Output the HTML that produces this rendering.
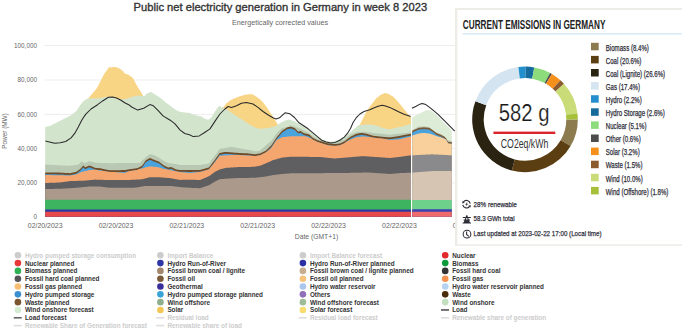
<!DOCTYPE html>
<html><head><meta charset="utf-8"><style>
html,body{margin:0;padding:0;background:#fff;width:685px;height:332px;overflow:hidden}
svg{display:block;font-family:"Liberation Sans",sans-serif}
</style></head><body>
<svg width="685" height="332" viewBox="0 0 685 332">
<rect width="685" height="332" fill="#fff"/>
<rect x="44.5" y="45.10" width="412" height="0.8" fill="#e9e9e9"/>
<rect x="44.5" y="79.60" width="412" height="0.8" fill="#e9e9e9"/>
<rect x="44.5" y="113.90" width="412" height="0.8" fill="#e9e9e9"/>
<rect x="44.5" y="148.20" width="412" height="0.8" fill="#e9e9e9"/>
<rect x="44.5" y="182.50" width="412" height="0.8" fill="#e9e9e9"/>
<path d="M86.00,216.80 L86.00,99.65 L86.50,99.39 L87.00,99.13 L87.49,98.87 L87.99,98.60 L88.49,98.14 L88.99,97.55 L89.49,96.97 L89.99,96.38 L90.48,95.80 L90.98,95.21 L91.48,94.63 L91.98,94.04 L92.48,93.46 L92.98,92.87 L93.47,92.29 L93.97,91.71 L94.47,91.12 L94.97,90.54 L95.47,89.96 L95.97,89.37 L96.46,88.64 L96.96,87.77 L97.46,86.91 L97.96,86.04 L98.46,85.17 L98.96,84.29 L99.45,83.29 L99.95,82.30 L100.45,81.30 L100.95,80.30 L101.45,79.31 L101.95,78.31 L102.44,77.31 L102.94,76.32 L103.44,75.32 L103.94,74.32 L104.44,73.43 L104.94,72.80 L105.43,72.17 L105.93,71.55 L106.43,70.92 L106.93,70.29 L107.43,69.55 L107.92,68.79 L108.42,68.03 L108.92,67.27 L109.42,67.08 L109.92,67.20 L110.42,67.33 L110.91,67.45 L111.41,67.42 L111.91,67.29 L112.41,67.16 L112.91,67.03 L113.41,66.90 L113.90,66.82 L114.40,66.93 L114.90,67.04 L115.40,67.15 L115.90,67.26 L116.40,67.37 L116.89,67.48 L117.39,67.59 L117.89,67.70 L118.39,67.97 L118.89,68.25 L119.39,68.53 L119.88,68.80 L120.38,69.08 L120.88,69.44 L121.38,69.86 L121.88,70.29 L122.38,70.71 L122.87,71.14 L123.37,71.61 L123.87,72.36 L124.37,73.10 L124.87,73.64 L125.36,73.75 L125.86,73.86 L126.36,73.97 L126.86,74.08 L127.36,74.19 L127.86,74.48 L128.35,74.79 L128.85,75.10 L129.35,75.41 L129.85,75.71 L130.35,76.02 L130.85,76.35 L131.34,76.84 L131.84,77.34 L132.34,77.84 L132.84,78.34 L133.34,78.84 L133.84,79.67 L134.33,80.67 L134.83,81.66 L135.33,82.66 L135.83,83.58 L136.33,84.47 L136.83,85.36 L137.32,86.24 L137.82,87.13 L138.32,87.98 L138.82,88.72 L139.32,89.45 L139.82,90.19 L140.31,90.93 L140.81,91.67 L141.31,92.60 L141.81,93.57 L142.31,94.55 L142.81,95.52 L143.30,96.06 L143.80,96.33 L144.30,96.60 L144.30,216.80 Z" fill="#f8d485"/>
<path d="M221.60,216.80 L221.60,107.40 L222.10,107.40 L222.60,107.40 L223.09,107.40 L223.59,106.90 L224.09,106.27 L224.59,105.63 L225.09,105.00 L225.59,104.36 L226.08,103.73 L226.58,103.14 L227.08,102.76 L227.58,102.38 L228.08,102.01 L228.58,101.63 L229.07,101.25 L229.57,100.87 L230.07,100.57 L230.57,100.32 L231.07,100.07 L231.56,99.82 L232.06,99.57 L232.56,99.32 L233.06,99.07 L233.56,98.82 L234.06,98.57 L234.55,98.32 L235.05,98.10 L235.55,97.91 L236.05,97.73 L236.55,97.54 L237.05,97.35 L237.54,97.16 L238.04,96.97 L238.54,96.78 L239.04,96.59 L239.54,96.40 L240.03,96.23 L240.53,96.09 L241.03,95.96 L241.53,95.82 L242.03,95.68 L242.53,95.54 L243.02,95.40 L243.52,95.26 L244.02,95.12 L244.52,94.98 L245.02,94.86 L245.52,94.78 L246.01,94.70 L246.51,94.62 L247.01,94.54 L247.51,94.46 L248.01,94.38 L248.50,94.30 L249.00,94.21 L249.50,94.13 L250.00,94.15 L250.50,94.22 L251.00,94.30 L251.49,94.37 L251.99,94.45 L252.49,94.52 L252.99,94.60 L253.49,94.89 L253.98,95.20 L254.48,95.50 L254.98,95.80 L255.48,96.10 L255.98,96.40 L256.48,96.73 L256.97,97.10 L257.47,97.46 L257.97,97.83 L258.47,98.19 L258.97,98.56 L259.47,98.93 L259.96,99.36 L260.46,99.86 L260.96,100.36 L261.46,100.86 L261.96,101.36 L262.45,101.85 L262.95,102.35 L263.45,102.96 L263.95,103.58 L264.45,104.20 L264.95,104.82 L265.44,105.44 L265.94,106.06 L266.44,106.71 L266.94,107.47 L267.44,108.22 L267.94,108.98 L268.43,109.73 L268.93,110.49 L269.43,111.24 L269.93,112.00 L270.43,112.75 L270.92,113.51 L271.42,114.26 L271.92,115.02 L272.42,115.77 L272.92,116.53 L273.42,117.35 L273.91,118.16 L274.41,118.98 L274.91,119.80 L275.41,120.61 L275.91,121.43 L276.41,122.25 L276.90,123.07 L277.40,123.88 L277.90,124.70 L277.90,216.80 Z" fill="#f8d485"/>
<path d="M357.50,216.80 L357.50,126.00 L358.00,125.73 L358.50,125.46 L359.00,125.19 L359.50,124.92 L360.00,124.50 L360.50,123.50 L361.00,122.50 L361.50,121.50 L362.00,120.50 L362.50,119.50 L363.00,118.50 L363.50,117.50 L364.00,116.50 L364.50,115.50 L365.00,114.50 L365.50,113.50 L366.00,112.50 L366.50,111.50 L367.00,110.74 L367.50,109.98 L368.00,109.23 L368.50,108.47 L369.00,107.71 L369.50,106.95 L370.00,106.25 L370.50,105.63 L371.00,105.01 L371.50,104.39 L372.00,103.77 L372.50,103.15 L373.00,102.52 L373.50,101.89 L374.00,101.25 L374.50,100.62 L375.00,99.98 L375.50,99.35 L376.00,98.71 L376.50,98.12 L377.00,97.73 L377.50,97.34 L378.00,96.94 L378.50,96.55 L379.00,96.16 L379.50,95.76 L380.00,95.37 L380.50,94.98 L381.00,94.70 L381.50,94.46 L382.00,94.22 L382.50,93.97 L383.00,93.73 L383.50,93.49 L384.00,93.24 L384.50,93.00 L385.00,92.99 L385.50,93.13 L386.00,93.28 L386.50,93.43 L387.00,93.57 L387.50,93.72 L388.00,93.87 L388.50,94.01 L389.00,94.22 L389.50,94.52 L390.00,94.81 L390.50,95.11 L391.00,95.41 L391.50,95.71 L392.00,96.00 L392.50,96.30 L393.00,96.60 L393.50,97.10 L394.00,97.60 L394.50,98.10 L395.00,98.60 L395.50,99.10 L396.00,99.60 L396.50,100.10 L397.00,100.60 L397.50,101.18 L398.00,101.77 L398.50,102.37 L399.00,102.96 L399.50,103.56 L400.00,104.15 L400.50,104.75 L401.00,105.34 L401.50,105.95 L402.00,106.57 L402.50,107.19 L403.00,107.81 L403.50,108.43 L404.00,109.05 L404.50,109.68 L405.00,110.31 L405.50,110.95 L406.00,111.58 L406.50,112.22 L407.00,112.85 L407.50,113.49 L408.00,114.10 L408.50,114.60 L409.00,115.10 L409.50,115.60 L410.00,116.10 L410.50,116.58 L411.00,117.00 L411.00,216.80 Z" fill="#f8d485"/>
<path d="M45.20,216.80 L45.20,127.00 L45.70,126.89 L46.20,126.79 L46.70,126.68 L47.20,126.57 L47.70,126.46 L48.20,126.36 L48.70,126.25 L49.20,126.14 L49.70,125.95 L50.20,125.70 L50.70,125.45 L51.20,125.20 L51.70,124.95 L52.20,124.70 L52.70,124.45 L53.20,124.20 L53.70,123.95 L54.20,123.70 L54.69,123.45 L55.19,123.21 L55.69,122.96 L56.19,122.72 L56.69,122.47 L57.19,122.23 L57.69,121.98 L58.19,121.73 L58.69,121.49 L59.19,121.24 L59.69,121.00 L60.19,120.75 L60.69,120.50 L61.19,120.25 L61.69,120.00 L62.19,119.75 L62.69,119.50 L63.19,119.25 L63.69,119.01 L64.19,118.76 L64.69,118.51 L65.19,118.26 L65.69,118.01 L66.19,117.76 L66.69,117.51 L67.19,117.26 L67.69,117.01 L68.19,116.76 L68.69,116.51 L69.19,116.26 L69.69,116.01 L70.19,115.76 L70.69,115.51 L71.19,115.23 L71.69,114.81 L72.19,114.40 L72.68,113.98 L73.18,113.56 L73.68,113.15 L74.18,112.73 L74.68,112.31 L75.18,111.90 L75.68,111.48 L76.18,111.06 L76.68,110.53 L77.18,109.78 L77.68,109.03 L78.18,108.28 L78.68,107.53 L79.18,106.78 L79.68,106.03 L80.18,105.29 L80.68,104.63 L81.18,103.97 L81.68,103.31 L82.18,102.65 L82.68,101.99 L83.18,101.45 L83.68,100.99 L84.18,100.61 L84.68,100.34 L85.18,100.08 L85.68,99.82 L86.18,99.56 L86.68,99.29 L87.18,99.03 L87.68,98.77 L88.18,98.58 L88.68,98.53 L89.18,98.48 L89.68,98.43 L90.18,98.38 L90.68,98.33 L91.17,98.28 L91.67,98.23 L92.17,98.22 L92.67,98.27 L93.17,98.32 L93.67,98.37 L94.17,98.42 L94.67,98.47 L95.17,98.52 L95.67,98.57 L96.17,98.58 L96.67,98.51 L97.17,98.44 L97.67,98.37 L98.17,98.30 L98.67,98.23 L99.17,98.16 L99.67,98.09 L100.17,98.02 L100.67,97.94 L101.17,97.85 L101.67,97.76 L102.17,97.67 L102.67,97.59 L103.17,97.50 L103.67,97.41 L104.17,97.32 L104.67,97.24 L105.17,97.15 L105.67,97.07 L106.17,96.98 L106.67,96.90 L107.17,96.81 L107.67,96.73 L108.17,96.64 L108.67,96.65 L109.17,96.73 L109.66,96.82 L110.16,96.90 L110.66,96.99 L111.16,97.07 L111.66,97.16 L112.16,97.24 L112.66,97.35 L113.16,97.52 L113.66,97.68 L114.16,97.84 L114.66,98.00 L115.16,98.17 L115.66,98.33 L116.16,98.49 L116.66,98.63 L117.16,98.71 L117.66,98.80 L118.16,98.88 L118.66,98.97 L119.16,99.05 L119.66,99.14 L120.16,99.22 L120.66,99.30 L121.16,99.30 L121.66,99.30 L122.16,99.30 L122.66,99.30 L123.16,99.30 L123.66,99.30 L124.16,99.30 L124.66,99.30 L125.16,99.15 L125.66,98.99 L126.16,98.83 L126.66,98.66 L127.16,98.50 L127.65,98.34 L128.15,98.18 L128.65,98.01 L129.15,97.84 L129.65,97.67 L130.15,97.50 L130.65,97.33 L131.15,97.16 L131.65,96.99 L132.15,96.82 L132.65,96.65 L133.15,96.53 L133.65,96.43 L134.15,96.32 L134.65,96.22 L135.15,96.12 L135.65,96.02 L136.15,95.92 L136.65,95.82 L137.15,95.71 L137.65,95.61 L138.15,95.51 L138.65,95.54 L139.15,95.59 L139.65,95.64 L140.15,95.69 L140.65,95.74 L141.15,95.79 L141.65,95.84 L142.15,95.89 L142.65,96.02 L143.15,96.20 L143.65,96.37 L144.15,96.55 L144.65,96.13 L145.15,95.46 L145.65,94.78 L146.14,94.11 L146.64,93.75 L147.14,93.52 L147.64,93.30 L148.14,93.08 L148.64,92.85 L149.14,92.63 L149.64,92.41 L150.14,92.18 L150.64,91.96 L151.14,91.89 L151.64,92.23 L152.14,92.56 L152.64,92.89 L153.14,93.23 L153.64,93.56 L154.14,93.89 L154.64,94.23 L155.14,94.56 L155.64,94.89 L156.14,95.21 L156.64,95.52 L157.14,95.84 L157.64,96.15 L158.14,96.46 L158.64,96.77 L159.14,97.09 L159.64,97.40 L160.14,97.71 L160.64,98.03 L161.14,98.47 L161.64,98.91 L162.14,99.34 L162.64,99.78 L163.14,100.22 L163.64,100.66 L164.13,101.09 L164.63,101.53 L165.13,101.97 L165.63,102.38 L166.13,102.75 L166.63,103.13 L167.13,103.50 L167.63,103.87 L168.13,104.25 L168.63,104.62 L169.13,105.00 L169.63,105.37 L170.13,105.75 L170.63,106.12 L171.13,106.50 L171.63,106.87 L172.13,107.25 L172.63,107.62 L173.13,108.00 L173.63,108.37 L174.13,108.75 L174.63,109.12 L175.13,109.46 L175.63,109.71 L176.13,109.95 L176.63,110.20 L177.13,110.44 L177.63,110.69 L178.13,110.93 L178.63,111.18 L179.13,111.42 L179.63,111.67 L180.13,111.83 L180.63,111.91 L181.13,111.98 L181.63,112.05 L182.13,112.12 L182.62,112.20 L183.12,112.27 L183.62,112.34 L184.12,112.42 L184.62,112.49 L185.12,112.54 L185.62,112.60 L186.12,112.65 L186.62,112.70 L187.12,112.75 L187.62,112.80 L188.12,112.86 L188.62,112.91 L189.12,112.96 L189.62,113.05 L190.12,113.25 L190.62,113.45 L191.12,113.65 L191.62,113.85 L192.12,114.05 L192.62,114.25 L193.12,114.45 L193.62,114.65 L194.12,114.85 L194.62,115.03 L195.12,115.14 L195.62,115.25 L196.12,115.36 L196.62,115.47 L197.12,115.58 L197.62,115.69 L198.12,115.80 L198.62,115.91 L199.12,116.03 L199.62,116.14 L200.12,116.25 L200.62,116.36 L201.11,116.47 L201.61,116.58 L202.11,116.89 L202.61,117.24 L203.11,117.59 L203.61,117.93 L204.11,118.28 L204.61,118.63 L205.11,118.93 L205.61,119.07 L206.11,119.20 L206.61,119.34 L207.11,119.48 L207.61,119.61 L208.11,119.75 L208.61,119.56 L209.11,119.19 L209.61,118.81 L210.11,118.43 L210.61,118.05 L211.11,117.67 L211.61,117.28 L212.11,116.41 L212.61,115.53 L213.11,114.65 L213.61,113.77 L214.11,112.89 L214.61,112.01 L215.11,111.21 L215.61,110.52 L216.11,109.83 L216.61,109.14 L217.11,108.45 L217.61,107.76 L218.11,107.07 L218.61,106.38 L219.10,105.70 L219.60,106.04 L220.10,106.38 L220.60,106.72 L221.10,107.06 L221.60,107.40 L222.10,107.52 L222.60,107.64 L223.10,107.76 L223.60,107.89 L224.10,108.01 L224.60,108.13 L225.10,108.34 L225.60,108.67 L226.10,109.01 L226.60,109.35 L227.10,109.68 L227.60,110.02 L228.10,110.36 L228.60,110.69 L229.10,111.03 L229.60,111.36 L230.10,111.70 L230.60,112.03 L231.10,112.36 L231.60,112.69 L232.10,113.02 L232.60,113.35 L233.10,113.68 L233.60,114.01 L234.10,114.34 L234.60,114.67 L235.10,115.00 L235.60,115.33 L236.10,115.66 L236.60,115.98 L237.10,116.31 L237.59,116.64 L238.09,116.97 L238.59,117.30 L239.09,117.63 L239.59,117.96 L240.09,118.29 L240.59,118.62 L241.09,118.95 L241.59,119.28 L242.09,119.61 L242.59,119.94 L243.09,120.27 L243.59,120.60 L244.09,120.93 L244.59,121.26 L245.09,121.60 L245.59,121.93 L246.09,122.27 L246.59,122.61 L247.09,122.94 L247.59,123.28 L248.09,123.62 L248.59,123.95 L249.09,124.29 L249.59,124.62 L250.09,124.89 L250.59,125.14 L251.09,125.39 L251.59,125.64 L252.09,125.89 L252.59,126.14 L253.09,126.39 L253.59,126.64 L254.09,126.89 L254.59,127.14 L255.09,127.33 L255.58,127.50 L256.08,127.67 L256.58,127.84 L257.08,128.01 L257.58,128.18 L258.08,128.35 L258.58,128.52 L259.08,128.69 L259.58,128.86 L260.08,128.86 L260.58,128.81 L261.08,128.76 L261.58,128.71 L262.08,128.66 L262.58,128.61 L263.08,128.56 L263.58,128.50 L264.08,128.45 L264.58,128.40 L265.08,128.33 L265.58,128.26 L266.08,128.19 L266.58,128.12 L267.08,128.05 L267.58,127.98 L268.08,127.91 L268.58,127.84 L269.08,127.77 L269.58,127.70 L270.08,127.58 L270.58,127.45 L271.08,127.32 L271.58,127.19 L272.08,127.06 L272.58,126.93 L273.08,126.80 L273.58,126.67 L274.07,126.54 L274.57,126.41 L275.07,126.16 L275.57,125.90 L276.07,125.64 L276.57,125.38 L277.07,125.13 L277.57,124.87 L278.07,124.57 L278.57,124.21 L279.07,123.85 L279.57,123.48 L280.07,123.12 L280.57,122.76 L281.07,122.39 L281.57,122.13 L282.07,121.91 L282.57,121.69 L283.07,121.46 L283.57,121.24 L284.07,121.02 L284.57,120.79 L285.07,120.58 L285.57,120.39 L286.07,120.21 L286.57,120.03 L287.07,119.85 L287.57,119.67 L288.07,119.49 L288.57,119.31 L289.07,119.47 L289.57,119.65 L290.07,119.82 L290.57,119.99 L291.07,120.16 L291.57,120.32 L292.07,120.49 L292.56,120.65 L293.06,120.82 L293.56,120.99 L294.06,121.15 L294.56,121.34 L295.06,121.68 L295.56,122.01 L296.06,122.34 L296.56,122.68 L297.06,123.01 L297.56,123.34 L298.06,123.67 L298.56,124.01 L299.06,124.33 L299.56,124.58 L300.06,124.83 L300.56,125.08 L301.06,125.33 L301.56,125.58 L302.06,125.83 L302.56,126.08 L303.06,126.33 L303.56,126.58 L304.06,126.91 L304.56,127.24 L305.06,127.57 L305.56,127.91 L306.06,128.24 L306.56,128.57 L307.06,128.90 L307.56,129.24 L308.06,129.57 L308.56,129.99 L309.06,130.41 L309.56,130.83 L310.06,131.25 L310.55,131.67 L311.05,132.10 L311.55,132.52 L312.05,132.94 L312.55,133.36 L313.05,133.77 L313.55,134.18 L314.05,134.59 L314.55,135.01 L315.05,135.42 L315.55,135.83 L316.05,136.24 L316.55,136.65 L317.05,137.06 L317.55,137.33 L318.05,137.58 L318.55,137.83 L319.05,138.08 L319.55,138.33 L320.05,138.57 L320.55,138.82 L321.05,139.07 L321.55,139.32 L322.05,139.52 L322.55,139.68 L323.05,139.85 L323.55,140.02 L324.05,140.18 L324.55,140.35 L325.05,140.52 L325.55,140.68 L326.05,140.85 L326.55,140.96 L327.05,141.05 L327.55,141.14 L328.05,141.23 L328.55,141.32 L329.04,141.41 L329.54,141.49 L330.04,141.58 L330.54,141.67 L331.04,141.64 L331.54,141.55 L332.04,141.46 L332.54,141.37 L333.04,141.28 L333.54,141.19 L334.04,141.11 L334.54,141.02 L335.04,140.93 L335.54,140.79 L336.04,140.63 L336.54,140.46 L337.04,140.30 L337.54,140.14 L338.04,139.97 L338.54,139.81 L339.04,139.65 L339.54,139.49 L340.04,139.24 L340.54,138.91 L341.04,138.57 L341.54,138.24 L342.04,137.91 L342.54,137.58 L343.04,137.24 L343.54,136.91 L344.04,136.58 L344.54,136.24 L345.04,135.91 L345.54,135.58 L346.04,135.24 L346.54,134.91 L347.03,134.58 L347.53,134.24 L348.03,133.91 L348.53,133.58 L349.03,133.24 L349.53,132.91 L350.03,132.57 L350.53,132.12 L351.03,131.66 L351.53,131.21 L352.03,130.76 L352.53,130.31 L353.03,129.85 L353.53,129.43 L354.03,129.02 L354.53,128.61 L355.03,128.20 L355.53,127.79 L356.03,127.38 L356.53,126.97 L357.03,126.56 L357.53,126.15 L358.03,125.74 L358.53,125.54 L359.03,125.44 L359.53,125.35 L360.03,125.26 L360.53,125.16 L361.03,125.07 L361.53,124.98 L362.03,124.88 L362.53,124.79 L363.03,124.70 L363.53,124.68 L364.03,124.65 L364.53,124.63 L365.03,124.61 L365.52,124.59 L366.02,124.57 L366.52,124.54 L367.02,124.52 L367.52,124.50 L368.02,124.48 L368.52,124.46 L369.02,124.43 L369.52,124.41 L370.02,124.44 L370.52,124.53 L371.02,124.62 L371.52,124.71 L372.02,124.80 L372.52,124.89 L373.02,124.99 L373.52,125.08 L374.02,125.17 L374.52,125.26 L375.02,125.35 L375.52,125.44 L376.02,125.53 L376.52,125.64 L377.02,125.82 L377.52,126.01 L378.02,126.19 L378.52,126.37 L379.02,126.55 L379.52,126.73 L380.02,126.92 L380.52,127.10 L381.02,127.28 L381.52,127.46 L382.02,127.64 L382.52,127.82 L383.02,128.00 L383.52,128.11 L384.01,128.21 L384.51,128.32 L385.01,128.42 L385.51,128.53 L386.01,128.63 L386.51,128.73 L387.01,128.84 L387.51,128.94 L388.01,129.05 L388.51,129.15 L389.01,129.26 L389.51,129.36 L390.01,129.32 L390.51,129.19 L391.01,129.06 L391.51,128.93 L392.01,128.80 L392.51,128.68 L393.01,128.55 L393.51,128.42 L394.01,128.29 L394.51,128.16 L395.01,128.03 L395.51,127.90 L396.01,127.78 L396.51,127.66 L397.01,127.56 L397.51,127.46 L398.01,127.36 L398.51,127.27 L399.01,127.17 L399.51,127.07 L400.01,126.97 L400.51,126.87 L401.01,126.77 L401.51,126.67 L402.00,126.58 L402.50,126.48 L403.00,126.37 L403.50,126.21 L404.00,126.06 L404.50,125.91 L405.00,125.75 L405.50,125.60 L406.00,125.44 L406.50,125.29 L407.00,125.13 L407.50,124.98 L408.00,124.83 L408.50,124.67 L409.00,124.52 L409.50,124.36 L410.00,124.21 L410.50,124.05 L411.00,123.90 L411.00,216.80 Z" fill="#d3e4cd"/>
<path d="M45.20,216.80 L45.20,164.51 L45.70,164.54 L46.20,164.56 L46.70,164.59 L47.20,164.61 L47.70,164.64 L48.20,164.67 L48.70,164.69 L49.20,164.72 L49.70,164.74 L50.20,164.77 L50.70,164.80 L51.20,164.82 L51.70,164.85 L52.20,164.87 L52.70,164.90 L53.20,164.93 L53.70,164.95 L54.20,164.98 L54.69,165.00 L55.19,165.03 L55.69,165.06 L56.19,165.08 L56.69,165.11 L57.19,165.13 L57.69,165.16 L58.19,165.19 L58.69,165.21 L59.19,165.24 L59.69,165.26 L60.19,165.29 L60.69,165.32 L61.19,165.34 L61.69,165.37 L62.19,165.39 L62.69,165.42 L63.19,165.45 L63.69,165.47 L64.19,165.50 L64.69,165.52 L65.19,165.55 L65.69,165.58 L66.19,165.60 L66.69,165.63 L67.19,165.65 L67.69,165.68 L68.19,165.71 L68.69,165.73 L69.19,165.76 L69.69,165.78 L70.19,165.77 L70.69,165.70 L71.19,165.62 L71.69,165.54 L72.19,165.47 L72.68,165.39 L73.18,165.31 L73.68,165.24 L74.18,165.16 L74.68,165.08 L75.18,165.01 L75.68,164.93 L76.18,164.85 L76.68,164.78 L77.18,164.70 L77.68,164.63 L78.18,164.55 L78.68,164.30 L79.18,163.75 L79.68,163.20 L80.18,162.66 L80.68,162.11 L81.18,161.56 L81.68,161.15 L82.18,161.48 L82.68,161.81 L83.18,162.14 L83.68,162.46 L84.18,162.79 L84.68,163.12 L85.18,163.01 L85.68,162.76 L86.18,162.51 L86.68,162.26 L87.18,162.01 L87.68,161.76 L88.18,161.51 L88.68,161.26 L89.18,161.14 L89.68,161.27 L90.18,161.40 L90.68,161.53 L91.17,161.65 L91.67,161.78 L92.17,161.91 L92.67,162.03 L93.17,162.16 L93.67,162.29 L94.17,162.41 L94.67,162.54 L95.17,162.67 L95.67,162.71 L96.17,162.73 L96.67,162.75 L97.17,162.76 L97.67,162.78 L98.17,162.80 L98.67,162.81 L99.17,162.83 L99.67,162.85 L100.17,162.87 L100.67,162.88 L101.17,162.90 L101.67,162.92 L102.17,162.93 L102.67,162.95 L103.17,162.97 L103.67,162.98 L104.17,163.00 L104.67,163.02 L105.17,163.04 L105.67,163.05 L106.17,163.07 L106.67,163.09 L107.17,163.10 L107.67,163.12 L108.17,163.14 L108.67,163.15 L109.17,163.17 L109.66,163.19 L110.16,163.20 L110.66,163.19 L111.16,163.18 L111.66,163.18 L112.16,163.17 L112.66,163.16 L113.16,163.16 L113.66,163.15 L114.16,163.14 L114.66,163.14 L115.16,163.13 L115.66,163.12 L116.16,163.12 L116.66,163.11 L117.16,163.10 L117.66,163.09 L118.16,163.09 L118.66,163.08 L119.16,163.07 L119.66,163.07 L120.16,163.06 L120.66,163.05 L121.16,163.05 L121.66,163.04 L122.16,163.03 L122.66,163.03 L123.16,163.02 L123.66,163.01 L124.16,163.00 L124.66,163.00 L125.16,163.01 L125.66,163.02 L126.16,163.03 L126.66,163.04 L127.16,163.05 L127.65,163.06 L128.15,163.07 L128.65,163.08 L129.15,163.08 L129.65,163.09 L130.15,163.10 L130.65,163.10 L131.15,163.10 L131.65,163.10 L132.15,163.10 L132.65,163.10 L133.15,163.10 L133.65,163.10 L134.15,163.10 L134.65,163.10 L135.15,163.10 L135.65,163.10 L136.15,163.10 L136.65,163.10 L137.15,163.10 L137.65,163.10 L138.15,163.10 L138.65,163.10 L139.15,163.10 L139.65,163.05 L140.15,162.56 L140.65,162.07 L141.15,161.58 L141.65,161.09 L142.15,160.60 L142.65,160.12 L143.15,159.63 L143.65,159.14 L144.15,158.65 L144.65,158.18 L145.15,157.79 L145.65,157.39 L146.14,156.99 L146.64,156.59 L147.14,156.19 L147.64,155.80 L148.14,155.40 L148.64,155.00 L149.14,154.60 L149.64,154.20 L150.14,154.07 L150.64,154.21 L151.14,154.35 L151.64,154.50 L152.14,154.64 L152.64,154.78 L153.14,154.93 L153.64,155.07 L154.14,155.22 L154.64,155.48 L155.14,155.74 L155.64,156.00 L156.14,156.26 L156.64,156.52 L157.14,156.78 L157.64,157.04 L158.14,157.30 L158.64,157.56 L159.14,157.85 L159.64,158.16 L160.14,158.47 L160.64,158.79 L161.14,159.10 L161.64,159.41 L162.14,159.72 L162.64,160.03 L163.14,160.35 L163.64,160.66 L164.13,160.91 L164.63,161.16 L165.13,161.40 L165.63,161.65 L166.13,161.89 L166.63,162.14 L167.13,162.38 L167.63,162.63 L168.13,162.87 L168.63,163.10 L169.13,163.17 L169.63,163.23 L170.13,163.29 L170.63,163.35 L171.13,163.42 L171.63,163.48 L172.13,163.54 L172.63,163.60 L173.13,163.67 L173.63,163.74 L174.13,163.83 L174.63,163.92 L175.13,164.01 L175.63,164.11 L176.13,164.20 L176.63,164.29 L177.13,164.38 L177.63,164.47 L178.13,164.56 L178.63,164.65 L179.13,164.74 L179.63,164.83 L180.13,164.90 L180.63,164.90 L181.13,164.90 L181.63,164.90 L182.13,164.90 L182.62,164.90 L183.12,164.90 L183.62,164.90 L184.12,164.90 L184.62,164.90 L185.12,164.90 L185.62,164.90 L186.12,164.90 L186.62,164.90 L187.12,164.90 L187.62,164.90 L188.12,164.90 L188.62,164.90 L189.12,164.90 L189.62,164.90 L190.12,164.90 L190.62,164.90 L191.12,164.90 L191.62,164.90 L192.12,164.90 L192.62,164.90 L193.12,164.90 L193.62,164.90 L194.12,164.90 L194.62,164.90 L195.12,164.90 L195.62,164.90 L196.12,164.90 L196.62,164.90 L197.12,164.90 L197.62,164.90 L198.12,164.90 L198.62,164.90 L199.12,164.90 L199.62,164.90 L200.12,164.88 L200.62,164.80 L201.11,164.71 L201.61,164.63 L202.11,164.55 L202.61,164.46 L203.11,164.38 L203.61,164.30 L204.11,164.21 L204.61,164.13 L205.11,164.05 L205.61,163.96 L206.11,163.88 L206.61,163.80 L207.11,163.71 L207.61,163.63 L208.11,163.55 L208.61,163.46 L209.11,163.25 L209.61,162.57 L210.11,161.89 L210.61,161.21 L211.11,160.53 L211.61,159.85 L212.11,159.17 L212.61,158.49 L213.11,157.81 L213.61,157.13 L214.11,156.45 L214.61,155.77 L215.11,155.09 L215.61,154.41 L216.11,153.74 L216.61,153.06 L217.11,152.38 L217.61,151.70 L218.11,151.03 L218.61,150.35 L219.10,149.67 L219.60,149.00 L220.10,148.90 L220.60,148.80 L221.10,148.70 L221.60,148.60 L222.10,148.50 L222.60,148.40 L223.10,148.30 L223.60,148.20 L224.10,148.10 L224.60,148.00 L225.10,147.90 L225.60,147.80 L226.10,147.72 L226.60,147.64 L227.10,147.55 L227.60,147.47 L228.10,147.39 L228.60,147.31 L229.10,147.23 L229.60,147.14 L230.10,147.06 L230.60,146.98 L231.10,146.90 L231.60,146.82 L232.10,146.88 L232.60,146.98 L233.10,147.08 L233.60,147.18 L234.10,147.28 L234.60,147.38 L235.10,147.48 L235.60,147.58 L236.10,147.68 L236.60,147.78 L237.10,147.88 L237.59,147.98 L238.09,148.08 L238.59,148.18 L239.09,148.28 L239.59,148.37 L240.09,148.45 L240.59,148.53 L241.09,148.62 L241.59,148.70 L242.09,148.78 L242.59,148.87 L243.09,148.95 L243.59,149.03 L244.09,149.12 L244.59,149.20 L245.09,149.28 L245.59,149.37 L246.09,149.45 L246.59,149.53 L247.09,149.61 L247.59,149.70 L248.09,149.78 L248.59,149.88 L249.09,149.98 L249.59,150.07 L250.09,150.17 L250.59,150.27 L251.09,150.37 L251.59,150.47 L252.09,150.57 L252.59,150.67 L253.09,150.76 L253.59,150.86 L254.09,150.96 L254.59,151.06 L255.09,151.16 L255.58,151.26 L256.08,151.25 L256.58,151.17 L257.08,151.09 L257.58,151.00 L258.08,150.92 L258.58,150.84 L259.08,150.75 L259.58,150.67 L260.08,150.52 L260.58,150.07 L261.08,149.61 L261.58,149.16 L262.08,148.70 L262.58,148.25 L263.08,147.79 L263.58,147.34 L264.08,146.88 L264.58,146.43 L265.08,146.02 L265.58,145.60 L266.08,145.18 L266.58,144.77 L267.08,144.35 L267.58,143.93 L268.08,143.52 L268.58,143.10 L269.08,142.69 L269.58,142.27 L270.08,141.85 L270.58,141.44 L271.08,141.02 L271.58,140.60 L272.08,139.94 L272.58,139.19 L273.08,138.44 L273.58,137.69 L274.07,136.94 L274.57,136.19 L275.07,135.44 L275.57,134.69 L276.07,133.94 L276.57,133.22 L277.07,132.71 L277.57,132.20 L278.07,131.69 L278.57,131.18 L279.07,130.67 L279.57,130.16 L280.07,129.65 L280.57,129.14 L281.07,128.63 L281.57,128.34 L282.07,128.22 L282.57,128.10 L283.07,127.99 L283.57,127.87 L284.07,127.76 L284.57,127.64 L285.07,127.52 L285.57,127.41 L286.07,127.29 L286.57,127.17 L287.07,127.06 L287.57,126.94 L288.07,126.82 L288.57,126.71 L289.07,126.17 L289.57,125.60 L290.07,125.12 L290.57,125.29 L291.07,125.46 L291.57,125.62 L292.07,125.79 L292.56,125.95 L293.06,126.12 L293.56,126.29 L294.06,126.45 L294.56,126.62 L295.06,126.79 L295.56,126.95 L296.06,127.12 L296.56,127.29 L297.06,127.45 L297.56,127.62 L298.06,127.79 L298.56,127.95 L299.06,128.13 L299.56,128.38 L300.06,128.62 L300.56,128.87 L301.06,129.12 L301.56,129.37 L302.06,129.61 L302.56,129.86 L303.06,130.11 L303.56,130.35 L304.06,130.60 L304.56,130.85 L305.06,131.10 L305.56,131.34 L306.06,131.59 L306.56,131.84 L307.06,132.08 L307.56,132.33 L308.06,132.58 L308.56,132.90 L309.06,133.24 L309.56,133.57 L310.06,133.90 L310.55,134.24 L311.05,134.57 L311.55,134.90 L312.05,135.24 L312.55,135.57 L313.05,135.90 L313.55,136.24 L314.05,136.57 L314.55,136.90 L315.05,137.23 L315.55,137.57 L316.05,137.90 L316.55,138.23 L317.05,138.57 L317.55,138.77 L318.05,138.96 L318.55,139.14 L319.05,139.33 L319.55,139.52 L320.05,139.70 L320.55,139.89 L321.05,140.08 L321.55,140.26 L322.05,140.45 L322.55,140.64 L323.05,140.82 L323.55,141.01 L324.05,141.20 L324.55,141.38 L325.05,141.57 L325.55,141.76 L326.05,141.94 L326.55,142.02 L327.05,142.04 L327.55,142.06 L328.05,142.08 L328.55,142.10 L329.04,142.13 L329.54,142.15 L330.04,142.17 L330.54,142.19 L331.04,142.22 L331.54,142.24 L332.04,142.26 L332.54,142.28 L333.04,142.30 L333.54,142.33 L334.04,142.35 L334.54,142.37 L335.04,142.39 L335.54,142.29 L336.04,142.12 L336.54,141.96 L337.04,141.79 L337.54,141.63 L338.04,141.46 L338.54,141.30 L339.04,141.13 L339.54,140.97 L340.04,140.80 L340.54,140.64 L341.04,140.48 L341.54,140.31 L342.04,140.15 L342.54,139.98 L343.04,139.82 L343.54,139.65 L344.04,139.49 L344.54,139.20 L345.04,138.78 L345.54,138.36 L346.04,137.94 L346.54,137.52 L347.03,137.10 L347.53,136.69 L348.03,136.27 L348.53,135.85 L349.03,135.43 L349.53,135.01 L350.03,134.65 L350.53,134.46 L351.03,134.28 L351.53,134.09 L352.03,133.90 L352.53,133.72 L353.03,133.53 L353.53,133.34 L354.03,133.16 L354.53,132.97 L355.03,132.79 L355.53,132.60 L356.03,132.41 L356.53,132.23 L357.03,132.17 L357.53,132.14 L358.03,132.11 L358.53,132.08 L359.03,132.05 L359.53,132.02 L360.03,131.99 L360.53,131.96 L361.03,131.93 L361.53,131.90 L362.03,131.87 L362.53,131.84 L363.03,131.81 L363.53,131.78 L364.03,131.75 L364.53,131.72 L365.03,131.74 L365.52,131.81 L366.02,131.89 L366.52,131.97 L367.02,132.05 L367.52,132.13 L368.02,132.20 L368.52,132.28 L369.02,132.36 L369.52,132.44 L370.02,132.52 L370.52,132.60 L371.02,132.67 L371.52,132.75 L372.02,132.83 L372.52,132.91 L373.02,132.99 L373.52,133.04 L374.02,133.09 L374.52,133.14 L375.02,133.19 L375.52,133.23 L376.02,133.28 L376.52,133.33 L377.02,133.38 L377.52,133.43 L378.02,133.47 L378.52,133.52 L379.02,133.57 L379.52,133.62 L380.02,133.67 L380.52,133.71 L381.02,133.76 L381.52,133.81 L382.02,133.87 L382.52,133.92 L383.02,133.98 L383.52,134.03 L384.01,134.08 L384.51,134.14 L385.01,134.19 L385.51,134.25 L386.01,134.30 L386.51,134.35 L387.01,134.41 L387.51,134.46 L388.01,134.52 L388.51,134.57 L389.01,134.63 L389.51,134.68 L390.01,134.67 L390.51,134.61 L391.01,134.56 L391.51,134.50 L392.01,134.45 L392.51,134.39 L393.01,134.34 L393.51,134.28 L394.01,134.23 L394.51,134.17 L395.01,134.12 L395.51,134.06 L396.01,134.01 L396.51,133.95 L397.01,133.90 L397.51,133.84 L398.01,133.79 L398.51,133.74 L399.01,133.69 L399.51,133.65 L400.01,133.60 L400.51,133.55 L401.01,133.50 L401.51,133.45 L402.00,133.40 L402.50,133.36 L403.00,133.31 L403.50,133.26 L404.00,133.21 L404.50,133.16 L405.00,133.12 L405.50,133.07 L406.00,133.02 L406.50,132.95 L407.00,132.87 L407.50,132.78 L408.00,132.70 L408.50,132.62 L409.00,132.53 L409.50,132.45 L410.00,132.37 L410.50,132.28 L411.00,132.20 L411.00,216.80 Z" fill="#b9c8b2"/>
<path d="M45.20,216.80 L45.20,172.50 L45.70,172.50 L46.20,172.51 L46.70,172.51 L47.20,172.51 L47.70,172.52 L48.20,172.52 L48.70,172.52 L49.20,172.53 L49.70,172.53 L50.20,172.53 L50.70,172.54 L51.20,172.54 L51.70,172.54 L52.20,172.55 L52.70,172.55 L53.20,172.55 L53.70,172.56 L54.20,172.56 L54.69,172.56 L55.19,172.57 L55.69,172.57 L56.19,172.57 L56.69,172.58 L57.19,172.58 L57.69,172.58 L58.19,172.59 L58.69,172.59 L59.19,172.59 L59.69,172.60 L60.19,172.61 L60.69,172.64 L61.19,172.67 L61.69,172.70 L62.19,172.73 L62.69,172.76 L63.19,172.79 L63.69,172.82 L64.19,172.85 L64.69,172.88 L65.19,172.91 L65.69,172.94 L66.19,172.97 L66.69,173.00 L67.19,173.03 L67.69,173.06 L68.19,173.09 L68.69,173.12 L69.19,173.15 L69.69,173.18 L70.19,173.16 L70.69,173.05 L71.19,172.94 L71.69,172.83 L72.19,172.71 L72.68,172.60 L73.18,172.49 L73.68,172.38 L74.18,172.27 L74.68,172.16 L75.18,172.05 L75.68,171.94 L76.18,171.83 L76.68,171.52 L77.18,171.14 L77.68,170.77 L78.18,170.40 L78.68,170.03 L79.18,169.66 L79.68,169.28 L80.18,168.91 L80.68,168.50 L81.18,167.91 L81.68,167.31 L82.18,166.72 L82.68,166.12 L83.18,165.52 L83.68,165.91 L84.18,166.34 L84.68,166.77 L85.18,167.20 L85.68,167.12 L86.18,166.87 L86.68,166.63 L87.18,166.39 L87.68,166.14 L88.18,165.90 L88.68,165.66 L89.18,165.55 L89.68,165.71 L90.18,165.87 L90.68,166.02 L91.17,166.18 L91.67,166.34 L92.17,166.49 L92.67,166.71 L93.17,166.94 L93.67,167.17 L94.17,167.39 L94.67,167.62 L95.17,167.84 L95.67,167.93 L96.17,167.97 L96.67,168.00 L97.17,168.04 L97.67,168.08 L98.17,168.12 L98.67,168.15 L99.17,168.19 L99.67,168.23 L100.17,168.27 L100.67,168.32 L101.17,168.45 L101.67,168.58 L102.17,168.71 L102.67,168.84 L103.17,168.97 L103.67,169.10 L104.17,169.23 L104.67,169.37 L105.17,169.46 L105.67,169.53 L106.17,169.61 L106.67,169.69 L107.17,169.76 L107.67,169.84 L108.17,169.92 L108.67,169.99 L109.17,170.07 L109.66,170.15 L110.16,170.20 L110.66,170.20 L111.16,170.19 L111.66,170.19 L112.16,170.19 L112.66,170.18 L113.16,170.18 L113.66,170.17 L114.16,170.17 L114.66,170.17 L115.16,170.16 L115.66,170.16 L116.16,170.16 L116.66,170.15 L117.16,170.15 L117.66,170.15 L118.16,170.14 L118.66,170.14 L119.16,170.14 L119.66,170.13 L120.16,170.13 L120.66,170.13 L121.16,170.12 L121.66,170.12 L122.16,170.12 L122.66,170.11 L123.16,170.11 L123.66,170.11 L124.16,170.10 L124.66,170.07 L125.16,169.99 L125.66,169.91 L126.16,169.83 L126.66,169.75 L127.16,169.67 L127.65,169.58 L128.15,169.50 L128.65,169.42 L129.15,169.34 L129.65,169.26 L130.15,169.18 L130.65,169.11 L131.15,169.04 L131.65,168.97 L132.15,168.90 L132.65,168.83 L133.15,168.76 L133.65,168.69 L134.15,168.62 L134.65,168.55 L135.15,168.48 L135.65,168.42 L136.15,168.35 L136.65,168.28 L137.15,168.21 L137.65,167.98 L138.15,167.73 L138.65,167.48 L139.15,167.23 L139.65,166.98 L140.15,166.73 L140.65,166.48 L141.15,166.23 L141.65,165.98 L142.15,165.59 L142.65,164.86 L143.15,164.13 L143.65,163.40 L144.15,162.67 L144.65,161.94 L145.15,161.21 L145.65,160.48 L146.14,160.15 L146.64,159.86 L147.14,159.57 L147.64,159.29 L148.14,159.00 L148.64,158.72 L149.14,158.43 L149.64,158.15 L150.14,158.10 L150.64,158.32 L151.14,158.53 L151.64,158.75 L152.14,158.96 L152.64,159.17 L153.14,159.39 L153.64,159.60 L154.14,159.82 L154.64,160.00 L155.14,160.19 L155.64,160.38 L156.14,160.56 L156.64,160.75 L157.14,160.94 L157.64,161.13 L158.14,161.31 L158.64,161.50 L159.14,161.78 L159.64,162.15 L160.14,162.53 L160.64,162.90 L161.14,163.28 L161.64,163.65 L162.14,164.03 L162.64,164.40 L163.14,164.78 L163.64,165.15 L164.13,165.41 L164.63,165.66 L165.13,165.90 L165.63,166.15 L166.13,166.39 L166.63,166.64 L167.13,166.88 L167.63,167.13 L168.13,167.37 L168.63,167.59 L169.13,167.47 L169.63,167.34 L170.13,167.22 L170.63,167.09 L171.13,167.07 L171.63,167.32 L172.13,167.57 L172.63,167.82 L173.13,168.07 L173.63,168.31 L174.13,168.56 L174.63,168.81 L175.13,169.06 L175.63,169.31 L176.13,169.45 L176.63,169.52 L177.13,169.59 L177.63,169.66 L178.13,169.73 L178.63,169.80 L179.13,169.88 L179.63,169.95 L180.13,170.00 L180.63,170.01 L181.13,170.01 L181.63,170.02 L182.13,170.02 L182.62,170.03 L183.12,170.03 L183.62,170.04 L184.12,170.04 L184.62,170.05 L185.12,170.05 L185.62,170.06 L186.12,170.06 L186.62,170.07 L187.12,170.07 L187.62,170.08 L188.12,170.09 L188.62,170.09 L189.12,170.10 L189.62,170.10 L190.12,170.09 L190.62,170.09 L191.12,170.08 L191.62,170.08 L192.12,170.08 L192.62,170.07 L193.12,170.07 L193.62,170.06 L194.12,170.06 L194.62,170.05 L195.12,170.05 L195.62,170.04 L196.12,170.04 L196.62,170.03 L197.12,170.03 L197.62,170.02 L198.12,170.02 L198.62,170.01 L199.12,170.01 L199.62,170.00 L200.12,169.97 L200.62,169.82 L201.11,169.68 L201.61,169.53 L202.11,169.39 L202.61,169.24 L203.11,169.10 L203.61,168.96 L204.11,168.81 L204.61,168.67 L205.11,168.52 L205.61,168.38 L206.11,168.23 L206.61,168.09 L207.11,167.95 L207.61,167.80 L208.11,167.66 L208.61,167.51 L209.11,167.26 L209.61,166.61 L210.11,165.96 L210.61,165.32 L211.11,164.67 L211.61,164.02 L212.11,163.37 L212.61,162.73 L213.11,162.08 L213.61,161.43 L214.11,160.79 L214.61,160.14 L215.11,159.49 L215.61,158.77 L216.11,158.05 L216.61,157.32 L217.11,156.60 L217.61,155.88 L218.11,155.16 L218.61,154.44 L219.10,153.72 L219.60,153.00 L220.10,152.91 L220.60,152.82 L221.10,152.72 L221.60,152.63 L222.10,152.54 L222.60,152.45 L223.10,152.36 L223.60,152.27 L224.10,152.17 L224.60,152.08 L225.10,151.99 L225.60,151.90 L226.10,151.94 L226.60,151.98 L227.10,152.02 L227.60,152.06 L228.10,152.10 L228.60,152.15 L229.10,152.19 L229.60,152.23 L230.10,152.27 L230.60,152.31 L231.10,152.35 L231.60,152.39 L232.10,152.43 L232.60,152.47 L233.10,152.51 L233.60,152.55 L234.10,152.59 L234.60,152.63 L235.10,152.67 L235.60,152.71 L236.10,152.75 L236.60,152.79 L237.10,152.83 L237.59,152.87 L238.09,152.91 L238.59,152.95 L239.09,152.99 L239.59,153.02 L240.09,153.04 L240.59,153.06 L241.09,153.08 L241.59,153.11 L242.09,153.13 L242.59,153.15 L243.09,153.17 L243.59,153.20 L244.09,153.22 L244.59,153.24 L245.09,153.26 L245.59,153.28 L246.09,153.31 L246.59,153.33 L247.09,153.35 L247.59,153.37 L248.09,153.40 L248.59,153.45 L249.09,153.52 L249.59,153.58 L250.09,153.65 L250.59,153.72 L251.09,153.78 L251.59,153.85 L252.09,153.91 L252.59,153.98 L253.09,154.05 L253.59,154.11 L254.09,154.18 L254.59,154.25 L255.09,154.29 L255.58,154.20 L256.08,154.12 L256.58,154.04 L257.08,153.95 L257.58,153.87 L258.08,153.79 L258.58,153.70 L259.08,153.62 L259.58,153.54 L260.08,153.45 L260.58,153.31 L261.08,153.06 L261.58,152.81 L262.08,152.56 L262.58,152.31 L263.08,152.06 L263.58,151.81 L264.08,151.56 L264.58,151.31 L265.08,151.06 L265.58,150.81 L266.08,150.43 L266.58,149.94 L267.08,149.44 L267.58,148.95 L268.08,148.46 L268.58,147.97 L269.08,147.48 L269.58,146.99 L270.08,146.50 L270.58,146.01 L271.08,145.52 L271.58,144.89 L272.08,144.14 L272.58,143.39 L273.08,142.64 L273.58,141.89 L274.07,141.14 L274.57,140.39 L275.07,139.64 L275.57,138.89 L276.07,138.14 L276.57,137.39 L277.07,136.76 L277.57,136.17 L278.07,135.57 L278.57,134.98 L279.07,134.39 L279.57,133.80 L280.07,133.20 L280.57,132.61 L281.07,132.02 L281.57,131.43 L282.07,130.83 L282.57,130.49 L283.07,130.15 L283.57,129.82 L284.07,129.49 L284.57,129.15 L285.07,128.82 L285.57,128.49 L286.07,128.15 L286.57,127.82 L287.07,127.49 L287.57,127.19 L288.07,127.12 L288.57,127.05 L289.07,126.98 L289.57,126.91 L290.07,126.84 L290.57,126.77 L291.07,126.70 L291.57,126.88 L292.07,127.07 L292.56,127.25 L293.06,127.44 L293.56,127.63 L294.06,127.82 L294.56,128.01 L295.06,128.37 L295.56,128.88 L296.06,129.40 L296.56,129.91 L297.06,130.43 L297.56,130.94 L298.06,131.45 L298.56,131.71 L299.06,131.43 L299.56,131.16 L300.06,130.88 L300.56,131.04 L301.06,131.37 L301.56,131.71 L302.06,132.04 L302.56,132.37 L303.06,132.71 L303.56,133.04 L304.06,133.26 L304.56,133.38 L305.06,133.50 L305.56,133.62 L306.06,133.74 L306.56,133.86 L307.06,133.98 L307.56,134.10 L308.06,134.22 L308.56,134.34 L309.06,134.47 L309.56,134.83 L310.06,135.30 L310.55,135.78 L311.05,136.25 L311.55,136.72 L312.05,137.19 L312.55,137.66 L313.05,137.93 L313.55,138.19 L314.05,138.44 L314.55,138.70 L315.05,138.95 L315.55,139.21 L316.05,139.46 L316.55,139.72 L317.05,139.98 L317.55,140.15 L318.05,140.31 L318.55,140.47 L319.05,140.64 L319.55,140.80 L320.05,140.96 L320.55,141.12 L321.05,141.29 L321.55,141.45 L322.05,141.62 L322.55,141.78 L323.05,141.95 L323.55,142.12 L324.05,142.28 L324.55,142.45 L325.05,142.62 L325.55,142.78 L326.05,142.95 L326.55,143.06 L327.05,143.15 L327.55,143.24 L328.05,143.33 L328.55,143.42 L329.04,143.51 L329.54,143.59 L330.04,143.68 L330.54,143.77 L331.04,143.82 L331.54,143.86 L332.04,143.89 L332.54,143.92 L333.04,143.96 L333.54,143.99 L334.04,144.02 L334.54,144.06 L335.04,144.09 L335.54,144.06 L336.04,143.99 L336.54,143.93 L337.04,143.86 L337.54,143.79 L338.04,143.73 L338.54,143.66 L339.04,143.60 L339.54,143.53 L340.04,143.39 L340.54,143.17 L341.04,142.95 L341.54,142.73 L342.04,142.51 L342.54,142.28 L343.04,142.06 L343.54,141.84 L344.04,141.62 L344.54,141.31 L345.04,140.92 L345.54,140.53 L346.04,140.14 L346.54,139.74 L347.03,139.35 L347.53,138.96 L348.03,138.57 L348.53,138.17 L349.03,137.78 L349.53,137.39 L350.03,137.03 L350.53,136.79 L351.03,136.54 L351.53,136.30 L352.03,136.05 L352.53,135.80 L353.03,135.56 L353.53,135.31 L354.03,135.07 L354.53,134.82 L355.03,134.57 L355.53,134.33 L356.03,134.08 L356.53,133.83 L357.03,133.72 L357.53,133.63 L358.03,133.54 L358.53,133.45 L359.03,133.35 L359.53,133.26 L360.03,133.17 L360.53,133.08 L361.03,132.99 L361.53,132.90 L362.03,132.99 L362.53,133.08 L363.03,133.17 L363.53,133.26 L364.03,133.35 L364.53,133.44 L365.03,133.53 L365.52,133.62 L366.02,133.71 L366.52,133.81 L367.02,133.96 L367.52,134.11 L368.02,134.26 L368.52,134.41 L369.02,134.56 L369.52,134.72 L370.02,134.87 L370.52,135.02 L371.02,135.17 L371.52,135.32 L372.02,135.47 L372.52,135.62 L373.02,135.78 L373.52,135.85 L374.02,135.90 L374.52,135.95 L375.02,136.01 L375.52,136.06 L376.02,136.12 L376.52,136.17 L377.02,136.22 L377.52,136.28 L378.02,136.33 L378.52,136.39 L379.02,136.44 L379.52,136.50 L380.02,136.55 L380.52,136.60 L381.02,136.66 L381.52,136.71 L382.02,136.75 L382.52,136.79 L383.02,136.84 L383.52,136.88 L384.01,136.92 L384.51,136.96 L385.01,137.00 L385.51,137.05 L386.01,137.09 L386.51,137.13 L387.01,137.17 L387.51,137.22 L388.01,137.26 L388.51,137.30 L389.01,137.34 L389.51,137.38 L390.01,137.36 L390.51,137.29 L391.01,137.22 L391.51,137.16 L392.01,137.09 L392.51,137.02 L393.01,136.96 L393.51,136.89 L394.01,136.82 L394.51,136.75 L395.01,136.69 L395.51,136.62 L396.01,136.55 L396.51,136.49 L397.01,136.42 L397.51,136.35 L398.01,136.28 L398.51,136.18 L399.01,136.07 L399.51,135.97 L400.01,135.87 L400.51,135.77 L401.01,135.66 L401.51,135.56 L402.00,135.46 L402.50,135.36 L403.00,135.25 L403.50,135.15 L404.00,135.05 L404.50,134.95 L405.00,134.85 L405.50,134.74 L406.00,134.64 L406.50,134.55 L407.00,134.47 L407.50,134.38 L408.00,134.30 L408.50,134.22 L409.00,134.13 L409.50,134.05 L410.00,133.97 L410.50,133.88 L411.00,133.80 L411.00,216.80 Z" fill="#6f4b28"/>
<path d="M45.20,216.80 L45.20,174.30 L45.70,174.30 L46.20,174.31 L46.70,174.31 L47.20,174.31 L47.70,174.32 L48.20,174.32 L48.70,174.32 L49.20,174.33 L49.70,174.33 L50.20,174.33 L50.70,174.34 L51.20,174.34 L51.70,174.34 L52.20,174.35 L52.70,174.35 L53.20,174.35 L53.70,174.36 L54.20,174.36 L54.69,174.36 L55.19,174.37 L55.69,174.37 L56.19,174.37 L56.69,174.38 L57.19,174.38 L57.69,174.38 L58.19,174.39 L58.69,174.39 L59.19,174.39 L59.69,174.40 L60.19,174.41 L60.69,174.44 L61.19,174.47 L61.69,174.50 L62.19,174.53 L62.69,174.56 L63.19,174.59 L63.69,174.62 L64.19,174.65 L64.69,174.68 L65.19,174.71 L65.69,174.74 L66.19,174.77 L66.69,174.80 L67.19,174.83 L67.69,174.86 L68.19,174.89 L68.69,174.92 L69.19,174.95 L69.69,174.98 L70.19,174.96 L70.69,174.85 L71.19,174.74 L71.69,174.63 L72.19,174.51 L72.68,174.40 L73.18,174.29 L73.68,174.18 L74.18,174.07 L74.68,173.96 L75.18,173.85 L75.68,173.74 L76.18,173.63 L76.68,173.32 L77.18,172.94 L77.68,172.57 L78.18,172.20 L78.68,171.83 L79.18,171.46 L79.68,171.08 L80.18,170.71 L80.68,170.30 L81.18,169.71 L81.68,169.11 L82.18,168.52 L82.68,167.92 L83.18,167.32 L83.68,167.71 L84.18,168.14 L84.68,168.57 L85.18,169.00 L85.68,168.92 L86.18,168.67 L86.68,168.43 L87.18,168.19 L87.68,167.94 L88.18,167.70 L88.68,167.46 L89.18,167.35 L89.68,167.51 L90.18,167.67 L90.68,167.82 L91.17,167.98 L91.67,168.14 L92.17,168.29 L92.67,168.51 L93.17,168.74 L93.67,168.97 L94.17,169.19 L94.67,169.42 L95.17,169.64 L95.67,169.73 L96.17,169.77 L96.67,169.80 L97.17,169.84 L97.67,169.88 L98.17,169.92 L98.67,169.95 L99.17,169.99 L99.67,170.03 L100.17,170.07 L100.67,170.12 L101.17,170.25 L101.67,170.38 L102.17,170.51 L102.67,170.64 L103.17,170.77 L103.67,170.90 L104.17,171.03 L104.67,171.17 L105.17,171.26 L105.67,171.33 L106.17,171.41 L106.67,171.49 L107.17,171.56 L107.67,171.64 L108.17,171.72 L108.67,171.79 L109.17,171.87 L109.66,171.95 L110.16,172.00 L110.66,172.00 L111.16,171.99 L111.66,171.99 L112.16,171.99 L112.66,171.98 L113.16,171.98 L113.66,171.97 L114.16,171.97 L114.66,171.97 L115.16,171.96 L115.66,171.96 L116.16,171.96 L116.66,171.95 L117.16,171.95 L117.66,171.95 L118.16,171.94 L118.66,171.94 L119.16,171.94 L119.66,171.93 L120.16,171.93 L120.66,171.93 L121.16,171.92 L121.66,171.92 L122.16,171.92 L122.66,171.91 L123.16,171.91 L123.66,171.91 L124.16,171.90 L124.66,171.87 L125.16,171.79 L125.66,171.71 L126.16,171.63 L126.66,171.55 L127.16,171.47 L127.65,171.38 L128.15,171.30 L128.65,171.22 L129.15,171.14 L129.65,171.06 L130.15,170.98 L130.65,170.91 L131.15,170.84 L131.65,170.77 L132.15,170.70 L132.65,170.63 L133.15,170.56 L133.65,170.49 L134.15,170.42 L134.65,170.35 L135.15,170.28 L135.65,170.22 L136.15,170.15 L136.65,170.08 L137.15,170.01 L137.65,169.78 L138.15,169.53 L138.65,169.28 L139.15,169.03 L139.65,168.78 L140.15,168.53 L140.65,168.28 L141.15,168.03 L141.65,167.78 L142.15,167.39 L142.65,166.66 L143.15,165.93 L143.65,165.20 L144.15,164.47 L144.65,163.74 L145.15,163.01 L145.65,162.28 L146.14,161.95 L146.64,161.66 L147.14,161.37 L147.64,161.09 L148.14,160.80 L148.64,160.52 L149.14,160.23 L149.64,159.95 L150.14,159.90 L150.64,160.12 L151.14,160.33 L151.64,160.55 L152.14,160.76 L152.64,160.97 L153.14,161.19 L153.64,161.40 L154.14,161.62 L154.64,161.80 L155.14,161.99 L155.64,162.18 L156.14,162.36 L156.64,162.55 L157.14,162.74 L157.64,162.93 L158.14,163.11 L158.64,163.30 L159.14,163.58 L159.64,163.95 L160.14,164.33 L160.64,164.70 L161.14,165.08 L161.64,165.45 L162.14,165.83 L162.64,166.20 L163.14,166.58 L163.64,166.95 L164.13,167.21 L164.63,167.46 L165.13,167.70 L165.63,167.95 L166.13,168.19 L166.63,168.44 L167.13,168.68 L167.63,168.93 L168.13,169.17 L168.63,169.39 L169.13,169.27 L169.63,169.14 L170.13,169.02 L170.63,168.89 L171.13,168.87 L171.63,169.12 L172.13,169.37 L172.63,169.62 L173.13,169.87 L173.63,170.11 L174.13,170.36 L174.63,170.61 L175.13,170.86 L175.63,171.11 L176.13,171.25 L176.63,171.32 L177.13,171.39 L177.63,171.46 L178.13,171.53 L178.63,171.60 L179.13,171.68 L179.63,171.75 L180.13,171.80 L180.63,171.81 L181.13,171.81 L181.63,171.82 L182.13,171.82 L182.62,171.83 L183.12,171.83 L183.62,171.84 L184.12,171.84 L184.62,171.85 L185.12,171.85 L185.62,171.86 L186.12,171.86 L186.62,171.87 L187.12,171.87 L187.62,171.88 L188.12,171.89 L188.62,171.89 L189.12,171.90 L189.62,171.90 L190.12,171.89 L190.62,171.89 L191.12,171.88 L191.62,171.88 L192.12,171.88 L192.62,171.87 L193.12,171.87 L193.62,171.86 L194.12,171.86 L194.62,171.85 L195.12,171.85 L195.62,171.84 L196.12,171.84 L196.62,171.83 L197.12,171.83 L197.62,171.82 L198.12,171.82 L198.62,171.81 L199.12,171.81 L199.62,171.80 L200.12,171.77 L200.62,171.62 L201.11,171.48 L201.61,171.33 L202.11,171.19 L202.61,171.04 L203.11,170.90 L203.61,170.76 L204.11,170.61 L204.61,170.47 L205.11,170.32 L205.61,170.18 L206.11,170.03 L206.61,169.89 L207.11,169.75 L207.61,169.60 L208.11,169.46 L208.61,169.31 L209.11,169.06 L209.61,168.41 L210.11,167.76 L210.61,167.12 L211.11,166.47 L211.61,165.82 L212.11,165.17 L212.61,164.53 L213.11,163.88 L213.61,163.23 L214.11,162.59 L214.61,161.94 L215.11,161.29 L215.61,160.57 L216.11,159.85 L216.61,159.12 L217.11,158.40 L217.61,157.68 L218.11,156.96 L218.61,156.24 L219.10,155.52 L219.60,154.80 L220.10,154.71 L220.60,154.62 L221.10,154.52 L221.60,154.43 L222.10,154.34 L222.60,154.25 L223.10,154.16 L223.60,154.07 L224.10,153.97 L224.60,153.88 L225.10,153.79 L225.60,153.70 L226.10,153.74 L226.60,153.78 L227.10,153.82 L227.60,153.86 L228.10,153.90 L228.60,153.95 L229.10,153.99 L229.60,154.03 L230.10,154.07 L230.60,154.11 L231.10,154.15 L231.60,154.19 L232.10,154.23 L232.60,154.27 L233.10,154.31 L233.60,154.35 L234.10,154.39 L234.60,154.43 L235.10,154.47 L235.60,154.51 L236.10,154.55 L236.60,154.59 L237.10,154.63 L237.59,154.67 L238.09,154.71 L238.59,154.75 L239.09,154.79 L239.59,154.82 L240.09,154.84 L240.59,154.86 L241.09,154.88 L241.59,154.91 L242.09,154.93 L242.59,154.95 L243.09,154.97 L243.59,155.00 L244.09,155.02 L244.59,155.04 L245.09,155.06 L245.59,155.08 L246.09,155.11 L246.59,155.13 L247.09,155.15 L247.59,155.17 L248.09,155.20 L248.59,155.25 L249.09,155.32 L249.59,155.38 L250.09,155.45 L250.59,155.52 L251.09,155.58 L251.59,155.65 L252.09,155.71 L252.59,155.78 L253.09,155.85 L253.59,155.91 L254.09,155.98 L254.59,156.05 L255.09,156.09 L255.58,156.00 L256.08,155.92 L256.58,155.84 L257.08,155.75 L257.58,155.67 L258.08,155.59 L258.58,155.50 L259.08,155.42 L259.58,155.34 L260.08,155.25 L260.58,155.11 L261.08,154.86 L261.58,154.61 L262.08,154.36 L262.58,154.11 L263.08,153.86 L263.58,153.61 L264.08,153.36 L264.58,153.11 L265.08,152.86 L265.58,152.61 L266.08,152.23 L266.58,151.74 L267.08,151.24 L267.58,150.75 L268.08,150.26 L268.58,149.77 L269.08,149.28 L269.58,148.79 L270.08,148.30 L270.58,147.81 L271.08,147.32 L271.58,146.69 L272.08,145.94 L272.58,145.19 L273.08,144.44 L273.58,143.69 L274.07,142.94 L274.57,142.19 L275.07,141.44 L275.57,140.69 L276.07,139.94 L276.57,139.19 L277.07,138.56 L277.57,137.97 L278.07,137.37 L278.57,136.78 L279.07,136.19 L279.57,135.60 L280.07,135.00 L280.57,134.41 L281.07,133.82 L281.57,133.23 L282.07,132.63 L282.57,132.29 L283.07,131.95 L283.57,131.62 L284.07,131.29 L284.57,130.95 L285.07,130.62 L285.57,130.29 L286.07,129.95 L286.57,129.62 L287.07,129.29 L287.57,128.99 L288.07,128.92 L288.57,128.85 L289.07,128.78 L289.57,128.71 L290.07,128.64 L290.57,128.57 L291.07,128.50 L291.57,128.68 L292.07,128.87 L292.56,129.05 L293.06,129.24 L293.56,129.43 L294.06,129.62 L294.56,129.81 L295.06,130.17 L295.56,130.68 L296.06,131.20 L296.56,131.71 L297.06,132.23 L297.56,132.74 L298.06,133.25 L298.56,133.51 L299.06,133.23 L299.56,132.96 L300.06,132.68 L300.56,132.84 L301.06,133.17 L301.56,133.51 L302.06,133.84 L302.56,134.17 L303.06,134.51 L303.56,134.84 L304.06,135.06 L304.56,135.18 L305.06,135.30 L305.56,135.42 L306.06,135.54 L306.56,135.66 L307.06,135.78 L307.56,135.90 L308.06,136.02 L308.56,136.14 L309.06,136.27 L309.56,136.63 L310.06,137.10 L310.55,137.58 L311.05,138.05 L311.55,138.52 L312.05,138.99 L312.55,139.46 L313.05,139.73 L313.55,139.99 L314.05,140.24 L314.55,140.50 L315.05,140.75 L315.55,141.01 L316.05,141.26 L316.55,141.52 L317.05,141.78 L317.55,141.95 L318.05,142.11 L318.55,142.27 L319.05,142.44 L319.55,142.60 L320.05,142.76 L320.55,142.92 L321.05,143.09 L321.55,143.25 L322.05,143.42 L322.55,143.58 L323.05,143.75 L323.55,143.92 L324.05,144.08 L324.55,144.25 L325.05,144.42 L325.55,144.58 L326.05,144.75 L326.55,144.86 L327.05,144.95 L327.55,145.04 L328.05,145.13 L328.55,145.22 L329.04,145.31 L329.54,145.39 L330.04,145.48 L330.54,145.57 L331.04,145.62 L331.54,145.66 L332.04,145.69 L332.54,145.72 L333.04,145.76 L333.54,145.79 L334.04,145.82 L334.54,145.86 L335.04,145.89 L335.54,145.86 L336.04,145.79 L336.54,145.73 L337.04,145.66 L337.54,145.59 L338.04,145.53 L338.54,145.46 L339.04,145.40 L339.54,145.33 L340.04,145.19 L340.54,144.97 L341.04,144.75 L341.54,144.53 L342.04,144.31 L342.54,144.08 L343.04,143.86 L343.54,143.64 L344.04,143.42 L344.54,143.11 L345.04,142.72 L345.54,142.33 L346.04,141.94 L346.54,141.54 L347.03,141.15 L347.53,140.76 L348.03,140.37 L348.53,139.97 L349.03,139.58 L349.53,139.19 L350.03,138.83 L350.53,138.59 L351.03,138.34 L351.53,138.10 L352.03,137.85 L352.53,137.60 L353.03,137.36 L353.53,137.11 L354.03,136.87 L354.53,136.62 L355.03,136.37 L355.53,136.13 L356.03,135.88 L356.53,135.63 L357.03,135.52 L357.53,135.43 L358.03,135.34 L358.53,135.25 L359.03,135.15 L359.53,135.06 L360.03,134.97 L360.53,134.88 L361.03,134.79 L361.53,134.70 L362.03,134.79 L362.53,134.88 L363.03,134.97 L363.53,135.06 L364.03,135.15 L364.53,135.24 L365.03,135.33 L365.52,135.42 L366.02,135.51 L366.52,135.61 L367.02,135.76 L367.52,135.91 L368.02,136.06 L368.52,136.21 L369.02,136.36 L369.52,136.52 L370.02,136.67 L370.52,136.82 L371.02,136.97 L371.52,137.12 L372.02,137.27 L372.52,137.42 L373.02,137.58 L373.52,137.65 L374.02,137.70 L374.52,137.75 L375.02,137.81 L375.52,137.86 L376.02,137.92 L376.52,137.97 L377.02,138.02 L377.52,138.08 L378.02,138.13 L378.52,138.19 L379.02,138.24 L379.52,138.30 L380.02,138.35 L380.52,138.40 L381.02,138.46 L381.52,138.51 L382.02,138.55 L382.52,138.59 L383.02,138.64 L383.52,138.68 L384.01,138.72 L384.51,138.76 L385.01,138.80 L385.51,138.85 L386.01,138.89 L386.51,138.93 L387.01,138.97 L387.51,139.02 L388.01,139.06 L388.51,139.10 L389.01,139.14 L389.51,139.18 L390.01,139.16 L390.51,139.09 L391.01,139.02 L391.51,138.96 L392.01,138.89 L392.51,138.82 L393.01,138.76 L393.51,138.69 L394.01,138.62 L394.51,138.55 L395.01,138.49 L395.51,138.42 L396.01,138.35 L396.51,138.29 L397.01,138.22 L397.51,138.15 L398.01,138.08 L398.51,137.98 L399.01,137.87 L399.51,137.77 L400.01,137.67 L400.51,137.57 L401.01,137.46 L401.51,137.36 L402.00,137.26 L402.50,137.16 L403.00,137.05 L403.50,136.95 L404.00,136.85 L404.50,136.75 L405.00,136.65 L405.50,136.54 L406.00,136.44 L406.50,136.35 L407.00,136.27 L407.50,136.18 L408.00,136.10 L408.50,136.02 L409.00,135.93 L409.50,135.85 L410.00,135.77 L410.50,135.68 L411.00,135.60 L411.00,216.80 Z" fill="#4aa3dc"/>
<path d="M45.20,216.80 L45.20,175.00 L45.70,175.01 L46.20,175.02 L46.70,175.03 L47.20,175.04 L47.70,175.05 L48.20,175.06 L48.70,175.07 L49.20,175.08 L49.70,175.09 L50.20,175.10 L50.70,175.11 L51.20,175.12 L51.70,175.13 L52.20,175.14 L52.70,175.15 L53.20,175.16 L53.70,175.17 L54.20,175.18 L54.69,175.19 L55.19,175.20 L55.69,175.21 L56.19,175.22 L56.69,175.23 L57.19,175.24 L57.69,175.25 L58.19,175.26 L58.69,175.27 L59.19,175.28 L59.69,175.29 L60.19,175.30 L60.69,175.31 L61.19,175.32 L61.69,175.33 L62.19,175.34 L62.69,175.35 L63.19,175.36 L63.69,175.37 L64.19,175.38 L64.69,175.39 L65.19,175.40 L65.69,175.41 L66.19,175.42 L66.69,175.43 L67.19,175.44 L67.69,175.45 L68.19,175.46 L68.69,175.47 L69.19,175.48 L69.69,175.49 L70.19,175.47 L70.69,175.39 L71.19,175.30 L71.69,175.22 L72.19,175.14 L72.68,175.05 L73.18,174.97 L73.68,174.89 L74.18,174.80 L74.68,174.72 L75.18,174.64 L75.68,174.55 L76.18,174.41 L76.68,174.16 L77.18,173.91 L77.68,173.66 L78.18,173.41 L78.68,173.16 L79.18,172.91 L79.68,172.66 L80.18,172.45 L80.68,172.30 L81.18,172.15 L81.68,172.00 L82.18,171.85 L82.68,171.70 L83.18,171.56 L83.68,171.43 L84.18,171.31 L84.68,171.18 L85.18,171.06 L85.68,170.93 L86.18,170.81 L86.68,170.68 L87.18,170.56 L87.68,170.43 L88.18,170.31 L88.68,170.18 L89.18,170.08 L89.68,170.03 L90.18,169.98 L90.68,169.93 L91.17,169.88 L91.67,169.83 L92.17,169.78 L92.67,169.73 L93.17,169.68 L93.67,169.63 L94.17,169.58 L94.67,169.53 L95.17,169.64 L95.67,169.73 L96.17,169.77 L96.67,169.87 L97.17,169.98 L97.67,170.09 L98.17,170.20 L98.67,170.31 L99.17,170.42 L99.67,170.53 L100.17,170.62 L100.67,170.67 L101.17,170.72 L101.67,170.77 L102.17,170.82 L102.67,170.87 L103.17,170.92 L103.67,170.97 L104.17,171.03 L104.67,171.17 L105.17,171.26 L105.67,171.33 L106.17,171.41 L106.67,171.49 L107.17,171.56 L107.67,171.64 L108.17,171.72 L108.67,171.79 L109.17,171.87 L109.66,171.95 L110.16,172.00 L110.66,172.00 L111.16,171.99 L111.66,171.99 L112.16,171.99 L112.66,171.98 L113.16,171.98 L113.66,171.97 L114.16,172.00 L114.66,172.05 L115.16,172.10 L115.66,172.15 L116.16,172.19 L116.66,172.24 L117.16,172.29 L117.66,172.34 L118.16,172.39 L118.66,172.44 L119.16,172.48 L119.66,172.53 L120.16,172.58 L120.66,172.63 L121.16,172.68 L121.66,172.73 L122.16,172.77 L122.66,172.82 L123.16,172.87 L123.66,172.92 L124.16,172.97 L124.66,172.94 L125.16,172.75 L125.66,172.56 L126.16,172.37 L126.66,172.18 L127.16,171.99 L127.65,171.80 L128.15,171.60 L128.65,171.41 L129.15,171.22 L129.65,171.06 L130.15,170.98 L130.65,170.91 L131.15,170.84 L131.65,170.77 L132.15,170.70 L132.65,170.63 L133.15,170.56 L133.65,170.49 L134.15,170.42 L134.65,170.35 L135.15,170.28 L135.65,170.22 L136.15,170.15 L136.65,170.08 L137.15,170.01 L137.65,169.78 L138.15,169.53 L138.65,169.28 L139.15,169.07 L139.65,168.97 L140.15,168.87 L140.65,168.77 L141.15,168.67 L141.65,168.57 L142.15,168.45 L142.65,168.29 L143.15,168.13 L143.65,167.97 L144.15,167.80 L144.65,167.64 L145.15,167.48 L145.65,167.32 L146.14,167.20 L146.64,167.10 L147.14,166.99 L147.64,166.88 L148.14,166.78 L148.64,166.67 L149.14,166.56 L149.64,166.46 L150.14,166.42 L150.64,166.45 L151.14,166.49 L151.64,166.52 L152.14,166.56 L152.64,166.60 L153.14,166.63 L153.64,166.67 L154.14,166.71 L154.64,166.77 L155.14,166.83 L155.64,166.89 L156.14,166.95 L156.64,167.02 L157.14,167.08 L157.64,167.14 L158.14,167.20 L158.64,167.27 L159.14,167.38 L159.64,167.55 L160.14,167.71 L160.64,167.88 L161.14,168.05 L161.64,168.21 L162.14,168.38 L162.64,168.55 L163.14,168.71 L163.64,168.88 L164.13,168.97 L164.63,169.05 L165.13,169.13 L165.63,169.22 L166.13,169.30 L166.63,169.38 L167.13,169.46 L167.63,169.54 L168.13,169.62 L168.63,169.71 L169.13,169.81 L169.63,169.92 L170.13,170.02 L170.63,170.13 L171.13,170.23 L171.63,170.34 L172.13,170.44 L172.63,170.55 L173.13,170.65 L173.63,170.76 L174.13,170.86 L174.63,170.97 L175.13,171.07 L175.63,171.18 L176.13,171.28 L176.63,171.39 L177.13,171.50 L177.63,171.60 L178.13,171.71 L178.63,171.81 L179.13,171.92 L179.63,172.02 L180.13,172.11 L180.63,172.16 L181.13,172.21 L181.63,172.25 L182.13,172.30 L182.62,172.35 L183.12,172.40 L183.62,172.44 L184.12,172.49 L184.62,172.54 L185.12,172.59 L185.62,172.63 L186.12,172.68 L186.62,172.73 L187.12,172.77 L187.62,172.82 L188.12,172.87 L188.62,172.92 L189.12,172.96 L189.62,172.99 L190.12,172.94 L190.62,172.89 L191.12,172.85 L191.62,172.80 L192.12,172.75 L192.62,172.70 L193.12,172.66 L193.62,172.61 L194.12,172.56 L194.62,172.51 L195.12,172.46 L195.62,172.42 L196.12,172.37 L196.62,172.32 L197.12,172.27 L197.62,172.23 L198.12,172.18 L198.62,172.13 L199.12,172.08 L199.62,172.04 L200.12,171.97 L200.62,171.82 L201.11,171.68 L201.61,171.53 L202.11,171.39 L202.61,171.24 L203.11,171.10 L203.61,170.96 L204.11,170.81 L204.61,170.67 L205.11,170.52 L205.61,170.38 L206.11,170.23 L206.61,170.09 L207.11,169.95 L207.61,169.80 L208.11,169.66 L208.61,169.51 L209.11,169.26 L209.61,168.65 L210.11,168.04 L210.61,167.42 L211.11,166.81 L211.61,166.19 L212.11,165.58 L212.61,164.96 L213.11,164.35 L213.61,163.73 L214.11,163.12 L214.61,162.51 L215.11,161.89 L215.61,161.21 L216.11,160.54 L216.61,159.86 L217.11,159.18 L217.61,158.50 L218.11,157.83 L218.61,157.15 L219.10,156.47 L219.60,155.80 L220.10,155.77 L220.60,155.73 L221.10,155.70 L221.60,155.67 L222.10,155.63 L222.60,155.60 L223.10,155.56 L223.60,155.53 L224.10,155.50 L224.60,155.46 L225.10,155.43 L225.60,155.40 L226.10,155.36 L226.60,155.33 L227.10,155.30 L227.60,155.26 L228.10,155.23 L228.60,155.19 L229.10,155.16 L229.60,155.13 L230.10,155.10 L230.60,155.10 L231.10,155.10 L231.60,155.10 L232.10,155.10 L232.60,155.10 L233.10,155.10 L233.60,155.10 L234.10,155.10 L234.60,155.10 L235.10,155.10 L235.60,155.10 L236.10,155.10 L236.60,155.10 L237.10,155.10 L237.59,155.10 L238.09,155.10 L238.59,155.10 L239.09,155.10 L239.59,155.10 L240.09,155.11 L240.59,155.14 L241.09,155.17 L241.59,155.20 L242.09,155.23 L242.59,155.26 L243.09,155.29 L243.59,155.32 L244.09,155.35 L244.59,155.38 L245.09,155.41 L245.59,155.44 L246.09,155.47 L246.59,155.50 L247.09,155.53 L247.59,155.56 L248.09,155.59 L248.59,155.62 L249.09,155.65 L249.59,155.68 L250.09,155.71 L250.59,155.74 L251.09,155.77 L251.59,155.80 L252.09,155.83 L252.59,155.86 L253.09,155.89 L253.59,155.92 L254.09,155.98 L254.59,156.05 L255.09,156.09 L255.58,156.00 L256.08,155.92 L256.58,155.84 L257.08,155.75 L257.58,155.67 L258.08,155.59 L258.58,155.50 L259.08,155.42 L259.58,155.34 L260.08,155.25 L260.58,155.11 L261.08,154.86 L261.58,154.61 L262.08,154.36 L262.58,154.11 L263.08,153.86 L263.58,153.61 L264.08,153.36 L264.58,153.11 L265.08,152.86 L265.58,152.61 L266.08,152.27 L266.58,151.86 L267.08,151.45 L267.58,151.04 L268.08,150.64 L268.58,150.23 L269.08,149.82 L269.58,149.41 L270.08,149.00 L270.58,148.59 L271.08,148.18 L271.58,147.59 L272.08,146.84 L272.58,146.09 L273.08,145.34 L273.58,144.59 L274.07,143.84 L274.57,143.09 L275.07,142.34 L275.57,141.59 L276.07,140.84 L276.57,140.09 L277.07,139.71 L277.57,139.46 L278.07,139.21 L278.57,138.96 L279.07,138.71 L279.57,138.46 L280.07,138.21 L280.57,137.96 L281.07,137.71 L281.57,137.46 L282.07,137.21 L282.57,137.15 L283.07,137.10 L283.57,137.05 L284.07,137.00 L284.57,136.95 L285.07,136.90 L285.57,136.85 L286.07,136.80 L286.57,136.75 L287.07,136.70 L287.57,136.65 L288.07,136.60 L288.57,136.55 L289.07,136.50 L289.57,136.45 L290.07,136.40 L290.57,136.35 L291.07,136.30 L291.57,136.30 L292.07,136.30 L292.56,136.30 L293.06,136.30 L293.56,136.30 L294.06,136.30 L294.56,136.30 L295.06,136.30 L295.56,136.30 L296.06,136.30 L296.56,136.30 L297.06,136.30 L297.56,136.30 L298.06,136.30 L298.56,136.30 L299.06,136.30 L299.56,136.30 L300.06,136.30 L300.56,136.30 L301.06,136.30 L301.56,136.30 L302.06,136.30 L302.56,136.30 L303.06,136.30 L303.56,136.30 L304.06,136.30 L304.56,136.30 L305.06,136.30 L305.56,136.30 L306.06,136.48 L306.56,136.67 L307.06,136.86 L307.56,137.05 L308.06,137.25 L308.56,137.44 L309.06,137.63 L309.56,137.83 L310.06,138.02 L310.55,138.21 L311.05,138.40 L311.55,138.60 L312.05,138.99 L312.55,139.46 L313.05,139.73 L313.55,139.99 L314.05,140.24 L314.55,140.50 L315.05,140.75 L315.55,141.01 L316.05,141.26 L316.55,141.52 L317.05,141.78 L317.55,141.95 L318.05,142.11 L318.55,142.27 L319.05,142.44 L319.55,142.60 L320.05,142.76 L320.55,142.92 L321.05,143.09 L321.55,143.25 L322.05,143.42 L322.55,143.58 L323.05,143.75 L323.55,143.92 L324.05,144.08 L324.55,144.25 L325.05,144.42 L325.55,144.58 L326.05,144.75 L326.55,144.86 L327.05,144.95 L327.55,145.04 L328.05,145.13 L328.55,145.22 L329.04,145.31 L329.54,145.39 L330.04,145.48 L330.54,145.57 L331.04,145.62 L331.54,145.66 L332.04,145.69 L332.54,145.72 L333.04,145.76 L333.54,145.79 L334.04,145.82 L334.54,145.86 L335.04,145.89 L335.54,145.86 L336.04,145.79 L336.54,145.73 L337.04,145.66 L337.54,145.59 L338.04,145.53 L338.54,145.46 L339.04,145.40 L339.54,145.33 L340.04,145.19 L340.54,144.97 L341.04,144.75 L341.54,144.53 L342.04,144.31 L342.54,144.08 L343.04,143.86 L343.54,143.64 L344.04,143.42 L344.54,143.11 L345.04,142.72 L345.54,142.33 L346.04,141.94 L346.54,141.62 L347.03,141.36 L347.53,141.10 L348.03,140.83 L348.53,140.57 L349.03,140.31 L349.53,140.05 L350.03,139.79 L350.53,139.58 L351.03,139.37 L351.53,139.16 L352.03,138.95 L352.53,138.75 L353.03,138.54 L353.53,138.33 L354.03,138.12 L354.53,137.91 L355.03,137.70 L355.53,137.50 L356.03,137.30 L356.53,137.23 L357.03,137.17 L357.53,137.10 L358.03,137.04 L358.53,136.97 L359.03,136.91 L359.53,136.85 L360.03,136.78 L360.53,136.72 L361.03,136.65 L361.53,136.59 L362.03,136.53 L362.53,136.46 L363.03,136.40 L363.53,136.45 L364.03,136.50 L364.53,136.55 L365.03,136.60 L365.52,136.65 L366.02,136.70 L366.52,136.75 L367.02,136.80 L367.52,136.85 L368.02,136.90 L368.52,136.95 L369.02,137.00 L369.52,137.05 L370.02,137.10 L370.52,137.15 L371.02,137.20 L371.52,137.25 L372.02,137.30 L372.52,137.42 L373.02,137.58 L373.52,137.65 L374.02,137.70 L374.52,137.75 L375.02,137.81 L375.52,137.86 L376.02,137.92 L376.52,137.97 L377.02,138.02 L377.52,138.08 L378.02,138.13 L378.52,138.19 L379.02,138.24 L379.52,138.30 L380.02,138.35 L380.52,138.40 L381.02,138.46 L381.52,138.51 L382.02,138.55 L382.52,138.59 L383.02,138.64 L383.52,138.73 L384.01,138.82 L384.51,138.91 L385.01,139.00 L385.51,139.09 L386.01,139.18 L386.51,139.27 L387.01,139.36 L387.51,139.45 L388.01,139.54 L388.51,139.63 L389.01,139.72 L389.51,139.81 L390.01,139.90 L390.51,139.87 L391.01,139.84 L391.51,139.80 L392.01,139.77 L392.51,139.74 L393.01,139.71 L393.51,139.68 L394.01,139.65 L394.51,139.62 L395.01,139.58 L395.51,139.55 L396.01,139.52 L396.51,139.49 L397.01,139.46 L397.51,139.43 L398.01,139.39 L398.51,139.36 L399.01,139.33 L399.51,139.30 L400.01,139.17 L400.51,139.05 L401.01,138.92 L401.51,138.79 L402.00,138.67 L402.50,138.54 L403.00,138.42 L403.50,138.29 L404.00,138.16 L404.50,138.04 L405.00,137.91 L405.50,137.79 L406.00,137.66 L406.50,137.53 L407.00,137.41 L407.50,137.28 L408.00,137.16 L408.50,137.03 L409.00,136.90 L409.50,136.78 L410.00,136.65 L410.50,136.53 L411.00,136.40 L411.00,216.80 Z" fill="#f5a66f"/>
<path d="M45.20,216.80 L45.20,182.99 L45.70,182.98 L46.20,182.96 L46.70,182.94 L47.20,182.93 L47.70,182.91 L48.20,182.89 L48.70,182.88 L49.20,182.86 L49.70,182.84 L50.20,182.83 L50.70,182.81 L51.20,182.79 L51.70,182.78 L52.20,182.76 L52.70,182.74 L53.20,182.73 L53.70,182.71 L54.20,182.69 L54.69,182.68 L55.19,182.66 L55.69,182.64 L56.19,182.63 L56.69,182.61 L57.19,182.59 L57.69,182.58 L58.19,182.56 L58.69,182.54 L59.19,182.53 L59.69,182.51 L60.19,182.47 L60.69,182.40 L61.19,182.33 L61.69,182.26 L62.19,182.19 L62.69,182.12 L63.19,182.05 L63.69,181.98 L64.19,181.91 L64.69,181.84 L65.19,181.77 L65.69,181.70 L66.19,181.63 L66.69,181.56 L67.19,181.49 L67.69,181.42 L68.19,181.35 L68.69,181.28 L69.19,181.21 L69.69,181.14 L70.19,181.09 L70.69,181.08 L71.19,181.06 L71.69,181.04 L72.19,181.03 L72.68,181.01 L73.18,180.99 L73.68,180.98 L74.18,180.96 L74.68,180.94 L75.18,180.93 L75.68,180.91 L76.18,180.89 L76.68,180.88 L77.18,180.86 L77.68,180.84 L78.18,180.83 L78.68,180.81 L79.18,180.79 L79.68,180.78 L80.18,180.76 L80.68,180.74 L81.18,180.73 L81.68,180.71 L82.18,180.69 L82.68,180.68 L83.18,180.66 L83.68,180.64 L84.18,180.63 L84.68,180.61 L85.18,180.58 L85.68,180.53 L86.18,180.48 L86.68,180.43 L87.18,180.38 L87.68,180.33 L88.18,180.28 L88.68,180.23 L89.18,180.18 L89.68,180.13 L90.18,180.08 L90.68,180.03 L91.17,179.98 L91.67,179.93 L92.17,179.88 L92.67,179.83 L93.17,179.78 L93.67,179.73 L94.17,179.68 L94.67,179.63 L95.17,179.61 L95.67,179.62 L96.17,179.64 L96.67,179.66 L97.17,179.67 L97.67,179.69 L98.17,179.71 L98.67,179.72 L99.17,179.74 L99.67,179.76 L100.17,179.77 L100.67,179.79 L101.17,179.81 L101.67,179.82 L102.17,179.84 L102.67,179.86 L103.17,179.87 L103.67,179.89 L104.17,179.91 L104.67,179.92 L105.17,179.94 L105.67,179.96 L106.17,179.97 L106.67,179.99 L107.17,180.01 L107.67,180.02 L108.17,180.04 L108.67,180.06 L109.17,180.07 L109.66,180.09 L110.16,180.10 L110.66,180.09 L111.16,180.09 L111.66,180.08 L112.16,180.08 L112.66,180.07 L113.16,180.07 L113.66,180.06 L114.16,180.06 L114.66,180.05 L115.16,180.05 L115.66,180.04 L116.16,180.04 L116.66,180.03 L117.16,180.03 L117.66,180.02 L118.16,180.02 L118.66,180.01 L119.16,180.01 L119.66,180.00 L120.16,180.00 L120.66,179.99 L121.16,179.99 L121.66,179.98 L122.16,179.98 L122.66,179.97 L123.16,179.97 L123.66,179.96 L124.16,179.96 L124.66,179.95 L125.16,179.95 L125.66,179.94 L126.16,179.94 L126.66,179.93 L127.16,179.93 L127.65,179.92 L128.15,179.92 L128.65,179.91 L129.15,179.91 L129.65,179.90 L130.15,179.89 L130.65,179.87 L131.15,179.84 L131.65,179.82 L132.15,179.79 L132.65,179.77 L133.15,179.74 L133.65,179.72 L134.15,179.69 L134.65,179.67 L135.15,179.64 L135.65,179.62 L136.15,179.59 L136.65,179.57 L137.15,179.54 L137.65,179.52 L138.15,179.49 L138.65,179.47 L139.15,179.44 L139.65,179.42 L140.15,179.39 L140.65,179.37 L141.15,179.34 L141.65,179.32 L142.15,179.26 L142.65,179.12 L143.15,178.99 L143.65,178.85 L144.15,178.71 L144.65,178.58 L145.15,178.44 L145.65,178.30 L146.14,178.16 L146.64,178.03 L147.14,177.89 L147.64,177.75 L148.14,177.62 L148.64,177.48 L149.14,177.34 L149.64,177.30 L150.14,177.30 L150.64,177.30 L151.14,177.30 L151.64,177.30 L152.14,177.30 L152.64,177.30 L153.14,177.30 L153.64,177.30 L154.14,177.30 L154.64,177.30 L155.14,177.30 L155.64,177.30 L156.14,177.30 L156.64,177.30 L157.14,177.30 L157.64,177.30 L158.14,177.30 L158.64,177.30 L159.14,177.30 L159.64,177.30 L160.14,177.30 L160.64,177.34 L161.14,177.39 L161.64,177.43 L162.14,177.47 L162.64,177.51 L163.14,177.55 L163.64,177.59 L164.13,177.63 L164.63,177.67 L165.13,177.72 L165.63,177.76 L166.13,177.80 L166.63,177.84 L167.13,177.88 L167.63,177.92 L168.13,177.96 L168.63,178.00 L169.13,178.04 L169.63,178.09 L170.13,178.16 L170.63,178.25 L171.13,178.33 L171.63,178.42 L172.13,178.51 L172.63,178.60 L173.13,178.69 L173.63,178.78 L174.13,178.86 L174.63,178.95 L175.13,179.04 L175.63,179.13 L176.13,179.22 L176.63,179.30 L177.13,179.39 L177.63,179.48 L178.13,179.57 L178.63,179.66 L179.13,179.75 L179.63,179.83 L180.13,179.90 L180.63,179.89 L181.13,179.88 L181.63,179.87 L182.13,179.86 L182.62,179.84 L183.12,179.83 L183.62,179.82 L184.12,179.81 L184.62,179.80 L185.12,179.79 L185.62,179.78 L186.12,179.77 L186.62,179.76 L187.12,179.75 L187.62,179.74 L188.12,179.73 L188.62,179.72 L189.12,179.71 L189.62,179.70 L190.12,179.72 L190.62,179.73 L191.12,179.75 L191.62,179.76 L192.12,179.77 L192.62,179.79 L193.12,179.80 L193.62,179.82 L194.12,179.83 L194.62,179.85 L195.12,179.86 L195.62,179.87 L196.12,179.89 L196.62,179.90 L197.12,179.92 L197.62,179.93 L198.12,179.95 L198.62,179.96 L199.12,179.97 L199.62,179.99 L200.12,179.95 L200.62,179.74 L201.11,179.53 L201.61,179.32 L202.11,179.11 L202.61,178.90 L203.11,178.69 L203.61,178.47 L204.11,178.26 L204.61,178.05 L205.11,177.84 L205.61,177.63 L206.11,177.42 L206.61,177.21 L207.11,177.00 L207.61,176.79 L208.11,176.58 L208.61,176.36 L209.11,176.12 L209.61,175.75 L210.11,175.38 L210.61,175.01 L211.11,174.64 L211.61,174.28 L212.11,173.91 L212.61,173.54 L213.11,173.17 L213.61,172.80 L214.11,172.43 L214.61,172.06 L215.11,171.70 L215.61,171.44 L216.11,171.19 L216.61,170.93 L217.11,170.67 L217.61,170.42 L218.11,170.16 L218.61,169.91 L219.10,169.65 L219.60,169.40 L220.10,169.27 L220.60,169.15 L221.10,169.02 L221.60,168.90 L222.10,168.77 L222.60,168.65 L223.10,168.52 L223.60,168.40 L224.10,168.27 L224.60,168.15 L225.10,168.02 L225.60,167.90 L226.10,167.87 L226.60,167.83 L227.10,167.80 L227.60,167.77 L228.10,167.73 L228.60,167.70 L229.10,167.67 L229.60,167.64 L230.10,167.60 L230.60,167.57 L231.10,167.54 L231.60,167.50 L232.10,167.47 L232.60,167.44 L233.10,167.40 L233.60,167.37 L234.10,167.34 L234.60,167.31 L235.10,167.27 L235.60,167.24 L236.10,167.21 L236.60,167.17 L237.10,167.14 L237.59,167.11 L238.09,167.10 L238.59,167.10 L239.09,167.10 L239.59,167.10 L240.09,167.10 L240.59,167.10 L241.09,167.10 L241.59,167.10 L242.09,167.10 L242.59,167.10 L243.09,167.10 L243.59,167.10 L244.09,167.10 L244.59,167.10 L245.09,167.10 L245.59,167.10 L246.09,167.10 L246.59,167.10 L247.09,167.10 L247.59,167.10 L248.09,167.10 L248.59,167.07 L249.09,167.03 L249.59,167.00 L250.09,166.96 L250.59,166.92 L251.09,166.89 L251.59,166.85 L252.09,166.81 L252.59,166.78 L253.09,166.74 L253.59,166.70 L254.09,166.67 L254.59,166.63 L255.09,166.59 L255.58,166.51 L256.08,166.43 L256.58,166.35 L257.08,166.27 L257.58,166.19 L258.08,166.11 L258.58,166.03 L259.08,165.95 L259.58,165.87 L260.08,165.77 L260.58,165.56 L261.08,165.35 L261.58,165.15 L262.08,164.94 L262.58,164.73 L263.08,164.53 L263.58,164.32 L264.08,164.11 L264.58,163.90 L265.08,163.70 L265.58,163.49 L266.08,163.27 L266.58,163.05 L267.08,162.82 L267.58,162.60 L268.08,162.37 L268.58,162.14 L269.08,161.92 L269.58,161.69 L270.08,161.47 L270.58,161.24 L271.08,161.01 L271.58,160.79 L272.08,160.56 L272.58,160.34 L273.08,160.11 L273.58,159.97 L274.07,159.83 L274.57,159.69 L275.07,159.55 L275.57,159.41 L276.07,159.27 L276.57,159.14 L277.07,159.00 L277.57,158.86 L278.07,158.72 L278.57,158.58 L279.07,158.44 L279.57,158.30 L280.07,158.16 L280.57,158.02 L281.07,157.89 L281.57,157.75 L282.07,157.61 L282.57,157.55 L283.07,157.50 L283.57,157.45 L284.07,157.40 L284.57,157.35 L285.07,157.30 L285.57,157.25 L286.07,157.20 L286.57,157.15 L287.07,157.10 L287.57,157.05 L288.07,157.00 L288.57,156.95 L289.07,156.90 L289.57,156.85 L290.07,156.80 L290.57,156.75 L291.07,156.70 L291.57,156.70 L292.07,156.70 L292.56,156.70 L293.06,156.70 L293.56,156.70 L294.06,156.70 L294.56,156.70 L295.06,156.70 L295.56,156.70 L296.06,156.70 L296.56,156.70 L297.06,156.70 L297.56,156.70 L298.06,156.70 L298.56,156.70 L299.06,156.70 L299.56,156.70 L300.06,156.70 L300.56,156.71 L301.06,156.72 L301.56,156.73 L302.06,156.74 L302.56,156.75 L303.06,156.76 L303.56,156.77 L304.06,156.78 L304.56,156.79 L305.06,156.80 L305.56,156.81 L306.06,156.82 L306.56,156.83 L307.06,156.84 L307.56,156.85 L308.06,156.86 L308.56,156.87 L309.06,156.88 L309.56,156.89 L310.06,156.90 L310.55,156.91 L311.05,156.92 L311.55,156.93 L312.05,156.94 L312.55,156.95 L313.05,156.96 L313.55,156.97 L314.05,156.98 L314.55,156.99 L315.05,157.00 L315.55,157.00 L316.05,157.00 L316.55,157.00 L317.05,157.00 L317.55,157.00 L318.05,157.00 L318.55,157.00 L319.05,157.00 L319.55,157.00 L320.05,157.01 L320.55,157.06 L321.05,157.11 L321.55,157.16 L322.05,157.21 L322.55,157.26 L323.05,157.32 L323.55,157.37 L324.05,157.42 L324.55,157.47 L325.05,157.52 L325.55,157.57 L326.05,157.63 L326.55,157.68 L327.05,157.73 L327.55,157.78 L328.05,157.83 L328.55,157.88 L329.04,157.94 L329.54,157.99 L330.04,158.04 L330.54,158.09 L331.04,158.14 L331.54,158.19 L332.04,158.25 L332.54,158.30 L333.04,158.35 L333.54,158.40 L334.04,158.45 L334.54,158.50 L335.04,158.46 L335.54,158.41 L336.04,158.37 L336.54,158.33 L337.04,158.29 L337.54,158.25 L338.04,158.21 L338.54,158.17 L339.04,158.12 L339.54,158.08 L340.04,158.04 L340.54,158.00 L341.04,157.96 L341.54,157.92 L342.04,157.88 L342.54,157.83 L343.04,157.79 L343.54,157.75 L344.04,157.71 L344.54,157.67 L345.04,157.63 L345.54,157.59 L346.04,157.55 L346.54,157.50 L347.03,157.46 L347.53,157.42 L348.03,157.38 L348.53,157.34 L349.03,157.30 L349.53,157.25 L350.03,157.21 L350.53,157.17 L351.03,157.13 L351.53,157.08 L352.03,157.04 L352.53,157.00 L353.03,156.95 L353.53,156.91 L354.03,156.87 L354.53,156.83 L355.03,156.78 L355.53,156.74 L356.03,156.70 L356.53,156.65 L357.03,156.61 L357.53,156.57 L358.03,156.53 L358.53,156.48 L359.03,156.44 L359.53,156.40 L360.03,156.35 L360.53,156.31 L361.03,156.27 L361.53,156.23 L362.03,156.18 L362.53,156.14 L363.03,156.10 L363.53,156.14 L364.03,156.17 L364.53,156.21 L365.03,156.24 L365.52,156.28 L366.02,156.31 L366.52,156.35 L367.02,156.38 L367.52,156.42 L368.02,156.45 L368.52,156.49 L369.02,156.53 L369.52,156.56 L370.02,156.60 L370.52,156.63 L371.02,156.67 L371.52,156.70 L372.02,156.74 L372.52,156.77 L373.02,156.81 L373.52,156.84 L374.02,156.88 L374.52,156.91 L375.02,156.95 L375.52,156.98 L376.02,157.02 L376.52,157.05 L377.02,157.09 L377.52,157.12 L378.02,157.16 L378.52,157.20 L379.02,157.23 L379.52,157.27 L380.02,157.30 L380.52,157.34 L381.02,157.37 L381.52,157.41 L382.02,157.44 L382.52,157.48 L383.02,157.51 L383.52,157.55 L384.01,157.58 L384.51,157.62 L385.01,157.65 L385.51,157.69 L386.01,157.72 L386.51,157.76 L387.01,157.79 L387.51,157.83 L388.01,157.86 L388.51,157.90 L389.01,157.93 L389.51,157.97 L390.01,158.00 L390.51,157.94 L391.01,157.88 L391.51,157.83 L392.01,157.77 L392.51,157.71 L393.01,157.66 L393.51,157.60 L394.01,157.54 L394.51,157.48 L395.01,157.43 L395.51,157.37 L396.01,157.31 L396.51,157.26 L397.01,157.20 L397.51,157.14 L398.01,157.08 L398.51,157.03 L399.01,156.97 L399.51,156.91 L400.01,156.86 L400.51,156.80 L401.01,156.73 L401.51,156.66 L402.00,156.59 L402.50,156.51 L403.00,156.44 L403.50,156.37 L404.00,156.30 L404.50,156.23 L405.00,156.16 L405.50,156.09 L406.00,156.01 L406.50,155.94 L407.00,155.87 L407.50,155.80 L408.00,155.73 L408.50,155.66 L409.00,155.59 L409.50,155.51 L410.00,155.44 L410.50,155.37 L411.00,155.30 L411.00,216.80 Z" fill="#5f5f62"/>
<path d="M45.20,216.80 L45.20,189.00 L45.70,188.99 L46.20,188.98 L46.70,188.98 L47.20,188.97 L47.70,188.96 L48.20,188.96 L48.70,188.95 L49.20,188.94 L49.70,188.94 L50.20,188.93 L50.70,188.92 L51.20,188.92 L51.70,188.91 L52.20,188.90 L52.70,188.90 L53.20,188.89 L53.70,188.88 L54.20,188.88 L54.69,188.87 L55.19,188.86 L55.69,188.86 L56.19,188.85 L56.69,188.84 L57.19,188.84 L57.69,188.83 L58.19,188.82 L58.69,188.82 L59.19,188.81 L59.69,188.80 L60.19,188.79 L60.69,188.76 L61.19,188.73 L61.69,188.69 L62.19,188.66 L62.69,188.63 L63.19,188.60 L63.69,188.57 L64.19,188.54 L64.69,188.51 L65.19,188.48 L65.69,188.44 L66.19,188.41 L66.69,188.38 L67.19,188.35 L67.69,188.32 L68.19,188.29 L68.69,188.26 L69.19,188.23 L69.69,188.19 L70.19,188.16 L70.69,188.13 L71.19,188.10 L71.69,188.07 L72.19,188.04 L72.68,188.01 L73.18,187.98 L73.68,187.94 L74.18,187.91 L74.68,187.88 L75.18,187.85 L75.68,187.82 L76.18,187.78 L76.68,187.73 L77.18,187.68 L77.68,187.63 L78.18,187.58 L78.68,187.53 L79.18,187.48 L79.68,187.43 L80.18,187.38 L80.68,187.33 L81.18,187.28 L81.68,187.23 L82.18,187.18 L82.68,187.13 L83.18,187.08 L83.68,187.03 L84.18,186.98 L84.68,186.93 L85.18,186.88 L85.68,186.83 L86.18,186.78 L86.68,186.73 L87.18,186.68 L87.68,186.63 L88.18,186.60 L88.68,186.60 L89.18,186.60 L89.68,186.60 L90.18,186.60 L90.68,186.60 L91.17,186.60 L91.67,186.60 L92.17,186.60 L92.67,186.60 L93.17,186.60 L93.67,186.60 L94.17,186.60 L94.67,186.60 L95.17,186.60 L95.67,186.60 L96.17,186.60 L96.67,186.60 L97.17,186.60 L97.67,186.60 L98.17,186.60 L98.67,186.60 L99.17,186.60 L99.67,186.60 L100.17,186.62 L100.67,186.68 L101.17,186.74 L101.67,186.80 L102.17,186.86 L102.67,186.92 L103.17,186.98 L103.67,187.04 L104.17,187.10 L104.67,187.16 L105.17,187.22 L105.67,187.28 L106.17,187.34 L106.67,187.40 L107.17,187.46 L107.67,187.52 L108.17,187.58 L108.67,187.64 L109.17,187.70 L109.66,187.76 L110.16,187.80 L110.66,187.80 L111.16,187.80 L111.66,187.80 L112.16,187.80 L112.66,187.80 L113.16,187.80 L113.66,187.80 L114.16,187.80 L114.66,187.80 L115.16,187.80 L115.66,187.80 L116.16,187.80 L116.66,187.80 L117.16,187.80 L117.66,187.80 L118.16,187.80 L118.66,187.80 L119.16,187.80 L119.66,187.80 L120.16,187.80 L120.66,187.80 L121.16,187.80 L121.66,187.80 L122.16,187.80 L122.66,187.80 L123.16,187.80 L123.66,187.80 L124.16,187.80 L124.66,187.80 L125.16,187.80 L125.66,187.80 L126.16,187.80 L126.66,187.80 L127.16,187.80 L127.65,187.80 L128.15,187.80 L128.65,187.80 L129.15,187.80 L129.65,187.80 L130.15,187.80 L130.65,187.80 L131.15,187.80 L131.65,187.80 L132.15,187.80 L132.65,187.80 L133.15,187.80 L133.65,187.80 L134.15,187.78 L134.65,187.70 L135.15,187.62 L135.65,187.54 L136.15,187.46 L136.65,187.38 L137.15,187.30 L137.65,187.22 L138.15,187.14 L138.65,187.06 L139.15,186.98 L139.65,186.91 L140.15,186.83 L140.65,186.75 L141.15,186.67 L141.65,186.59 L142.15,186.51 L142.65,186.43 L143.15,186.35 L143.65,186.27 L144.15,186.19 L144.65,186.11 L145.15,186.04 L145.65,185.96 L146.14,185.90 L146.64,185.90 L147.14,185.90 L147.64,185.90 L148.14,185.90 L148.64,185.90 L149.14,185.90 L149.64,185.90 L150.14,185.90 L150.64,185.90 L151.14,185.90 L151.64,185.90 L152.14,185.90 L152.64,185.90 L153.14,185.90 L153.64,185.90 L154.14,185.90 L154.64,185.90 L155.14,185.90 L155.64,185.90 L156.14,185.90 L156.64,185.90 L157.14,185.90 L157.64,185.90 L158.14,185.90 L158.64,185.90 L159.14,185.90 L159.64,185.90 L160.14,185.90 L160.64,185.90 L161.14,185.90 L161.64,185.90 L162.14,185.90 L162.64,185.90 L163.14,185.90 L163.64,185.90 L164.13,185.90 L164.63,185.90 L165.13,185.90 L165.63,185.90 L166.13,185.90 L166.63,185.90 L167.13,185.90 L167.63,185.90 L168.13,185.90 L168.63,185.90 L169.13,185.90 L169.63,185.90 L170.13,185.92 L170.63,185.97 L171.13,186.03 L171.63,186.09 L172.13,186.15 L172.63,186.21 L173.13,186.27 L173.63,186.32 L174.13,186.38 L174.63,186.44 L175.13,186.50 L175.63,186.56 L176.13,186.61 L176.63,186.67 L177.13,186.73 L177.63,186.79 L178.13,186.85 L178.63,186.91 L179.13,186.96 L179.63,187.02 L180.13,187.08 L180.63,187.14 L181.13,187.20 L181.63,187.26 L182.13,187.31 L182.62,187.34 L183.12,187.37 L183.62,187.40 L184.12,187.43 L184.62,187.46 L185.12,187.50 L185.62,187.53 L186.12,187.56 L186.62,187.59 L187.12,187.62 L187.62,187.65 L188.12,187.68 L188.62,187.71 L189.12,187.75 L189.62,187.78 L190.12,187.80 L190.62,187.82 L191.12,187.84 L191.62,187.86 L192.12,187.88 L192.62,187.90 L193.12,187.92 L193.62,187.94 L194.12,187.96 L194.62,187.98 L195.12,188.00 L195.62,188.02 L196.12,188.04 L196.62,188.06 L197.12,188.08 L197.62,188.10 L198.12,188.12 L198.62,188.14 L199.12,188.16 L199.62,188.18 L200.12,188.16 L200.62,187.99 L201.11,187.83 L201.61,187.66 L202.11,187.50 L202.61,187.33 L203.11,187.16 L203.61,187.00 L204.11,186.83 L204.61,186.66 L205.11,186.50 L205.61,186.33 L206.11,186.16 L206.61,186.00 L207.11,185.83 L207.61,185.66 L208.11,185.50 L208.61,185.33 L209.11,185.13 L209.61,184.83 L210.11,184.53 L210.61,184.22 L211.11,183.92 L211.61,183.62 L212.11,183.31 L212.61,183.01 L213.11,182.71 L213.61,182.41 L214.11,182.10 L214.61,181.80 L215.11,181.50 L215.61,181.24 L216.11,180.99 L216.61,180.73 L217.11,180.47 L217.61,180.22 L218.11,179.96 L218.61,179.71 L219.10,179.45 L219.60,179.20 L220.10,179.16 L220.60,179.12 L221.10,179.09 L221.60,179.05 L222.10,179.01 L222.60,178.97 L223.10,178.94 L223.60,178.90 L224.10,178.86 L224.60,178.82 L225.10,178.78 L225.60,178.75 L226.10,178.71 L226.60,178.67 L227.10,178.63 L227.60,178.60 L228.10,178.56 L228.60,178.52 L229.10,178.48 L229.60,178.45 L230.10,178.41 L230.60,178.38 L231.10,178.36 L231.60,178.34 L232.10,178.31 L232.60,178.29 L233.10,178.27 L233.60,178.25 L234.10,178.22 L234.60,178.20 L235.10,178.18 L235.60,178.15 L236.10,178.13 L236.60,178.11 L237.10,178.09 L237.59,178.06 L238.09,178.04 L238.59,178.02 L239.09,178.00 L239.59,177.99 L240.09,177.99 L240.59,177.98 L241.09,177.97 L241.59,177.97 L242.09,177.96 L242.59,177.96 L243.09,177.95 L243.59,177.94 L244.09,177.94 L244.59,177.93 L245.09,177.92 L245.59,177.92 L246.09,177.91 L246.59,177.91 L247.09,177.90 L247.59,177.89 L248.09,177.89 L248.59,177.88 L249.09,177.87 L249.59,177.87 L250.09,177.86 L250.59,177.86 L251.09,177.85 L251.59,177.84 L252.09,177.84 L252.59,177.83 L253.09,177.82 L253.59,177.82 L254.09,177.81 L254.59,177.81 L255.09,177.79 L255.58,177.73 L256.08,177.67 L256.58,177.61 L257.08,177.55 L257.58,177.49 L258.08,177.43 L258.58,177.37 L259.08,177.31 L259.58,177.25 L260.08,177.19 L260.58,177.13 L261.08,177.07 L261.58,177.01 L262.08,176.95 L262.58,176.89 L263.08,176.83 L263.58,176.77 L264.08,176.71 L264.58,176.65 L265.08,176.59 L265.58,176.53 L266.08,176.45 L266.58,176.35 L267.08,176.25 L267.58,176.16 L268.08,176.06 L268.58,175.97 L269.08,175.87 L269.58,175.78 L270.08,175.68 L270.58,175.58 L271.08,175.49 L271.58,175.39 L272.08,175.30 L272.58,175.20 L273.08,175.10 L273.58,175.04 L274.07,174.98 L274.57,174.92 L275.07,174.86 L275.57,174.79 L276.07,174.73 L276.57,174.67 L277.07,174.61 L277.57,174.55 L278.07,174.49 L278.57,174.42 L279.07,174.36 L279.57,174.30 L280.07,174.24 L280.57,174.18 L281.07,174.11 L281.57,174.05 L282.07,173.99 L282.57,173.96 L283.07,173.92 L283.57,173.88 L284.07,173.84 L284.57,173.80 L285.07,173.76 L285.57,173.73 L286.07,173.69 L286.57,173.65 L287.07,173.61 L287.57,173.57 L288.07,173.53 L288.57,173.49 L289.07,173.46 L289.57,173.42 L290.07,173.38 L290.57,173.34 L291.07,173.30 L291.57,173.30 L292.07,173.30 L292.56,173.30 L293.06,173.30 L293.56,173.30 L294.06,173.30 L294.56,173.30 L295.06,173.30 L295.56,173.30 L296.06,173.30 L296.56,173.30 L297.06,173.30 L297.56,173.30 L298.06,173.30 L298.56,173.30 L299.06,173.30 L299.56,173.30 L300.06,173.30 L300.56,173.30 L301.06,173.30 L301.56,173.30 L302.06,173.30 L302.56,173.30 L303.06,173.30 L303.56,173.30 L304.06,173.30 L304.56,173.30 L305.06,173.30 L305.56,173.30 L306.06,173.30 L306.56,173.30 L307.06,173.30 L307.56,173.30 L308.06,173.30 L308.56,173.30 L309.06,173.30 L309.56,173.30 L310.06,173.30 L310.55,173.30 L311.05,173.30 L311.55,173.30 L312.05,173.30 L312.55,173.30 L313.05,173.30 L313.55,173.30 L314.05,173.30 L314.55,173.30 L315.05,173.30 L315.55,173.29 L316.05,173.28 L316.55,173.27 L317.05,173.26 L317.55,173.25 L318.05,173.24 L318.55,173.23 L319.05,173.22 L319.55,173.21 L320.05,173.20 L320.55,173.19 L321.05,173.18 L321.55,173.17 L322.05,173.16 L322.55,173.15 L323.05,173.14 L323.55,173.13 L324.05,173.12 L324.55,173.11 L325.05,173.10 L325.55,173.09 L326.05,173.08 L326.55,173.07 L327.05,173.06 L327.55,173.05 L328.05,173.04 L328.55,173.03 L329.04,173.02 L329.54,173.01 L330.04,173.00 L330.54,173.00 L331.04,173.00 L331.54,173.00 L332.04,173.00 L332.54,173.00 L333.04,173.00 L333.54,173.00 L334.04,173.00 L334.54,173.00 L335.04,173.00 L335.54,173.00 L336.04,173.00 L336.54,173.00 L337.04,173.00 L337.54,173.00 L338.04,173.00 L338.54,173.00 L339.04,173.00 L339.54,173.00 L340.04,173.00 L340.54,173.00 L341.04,173.00 L341.54,173.00 L342.04,173.00 L342.54,173.00 L343.04,173.00 L343.54,173.00 L344.04,173.00 L344.54,172.99 L345.04,172.98 L345.54,172.97 L346.04,172.96 L346.54,172.95 L347.03,172.94 L347.53,172.93 L348.03,172.92 L348.53,172.91 L349.03,172.90 L349.53,172.88 L350.03,172.87 L350.53,172.86 L351.03,172.85 L351.53,172.84 L352.03,172.83 L352.53,172.82 L353.03,172.81 L353.53,172.80 L354.03,172.79 L354.53,172.78 L355.03,172.77 L355.53,172.76 L356.03,172.75 L356.53,172.74 L357.03,172.73 L357.53,172.72 L358.03,172.71 L358.53,172.70 L359.03,172.69 L359.53,172.68 L360.03,172.67 L360.53,172.66 L361.03,172.65 L361.53,172.63 L362.03,172.62 L362.53,172.61 L363.03,172.60 L363.53,172.59 L364.03,172.58 L364.53,172.57 L365.03,172.56 L365.52,172.55 L366.02,172.54 L366.52,172.53 L367.02,172.52 L367.52,172.51 L368.02,172.50 L368.52,172.53 L369.02,172.57 L369.52,172.60 L370.02,172.63 L370.52,172.67 L371.02,172.70 L371.52,172.73 L372.02,172.77 L372.52,172.80 L373.02,172.83 L373.52,172.87 L374.02,172.90 L374.52,172.93 L375.02,172.97 L375.52,173.00 L376.02,173.03 L376.52,173.07 L377.02,173.10 L377.52,173.13 L378.02,173.17 L378.52,173.20 L379.02,173.23 L379.52,173.27 L380.02,173.30 L380.52,173.33 L381.02,173.37 L381.52,173.40 L382.02,173.43 L382.52,173.47 L383.02,173.50 L383.52,173.54 L384.01,173.57 L384.51,173.61 L385.01,173.64 L385.51,173.68 L386.01,173.72 L386.51,173.75 L387.01,173.79 L387.51,173.82 L388.01,173.86 L388.51,173.89 L389.01,173.93 L389.51,173.97 L390.01,174.00 L390.51,173.95 L391.01,173.91 L391.51,173.86 L392.01,173.82 L392.51,173.77 L393.01,173.73 L393.51,173.68 L394.01,173.64 L394.51,173.59 L395.01,173.55 L395.51,173.50 L396.01,173.46 L396.51,173.41 L397.01,173.37 L397.51,173.32 L398.01,173.28 L398.51,173.23 L399.01,173.19 L399.51,173.14 L400.01,173.10 L400.51,173.08 L401.01,173.06 L401.51,173.05 L402.00,173.03 L402.50,173.01 L403.00,172.99 L403.50,172.97 L404.00,172.95 L404.50,172.94 L405.00,172.92 L405.50,172.90 L406.00,172.88 L406.50,172.86 L407.00,172.85 L407.50,172.83 L408.00,172.81 L408.50,172.79 L409.00,172.77 L409.50,172.75 L410.00,172.74 L410.50,172.72 L411.00,172.70 L411.00,216.80 Z" fill="#ab9a8b"/>
<path d="M45.20,216.80 L45.20,199.80 L45.70,199.80 L46.20,199.80 L46.70,199.80 L47.20,199.80 L47.70,199.80 L48.20,199.80 L48.70,199.80 L49.20,199.80 L49.70,199.80 L50.20,199.80 L50.70,199.80 L51.20,199.80 L51.70,199.80 L52.20,199.80 L52.70,199.80 L53.20,199.80 L53.70,199.80 L54.20,199.80 L54.69,199.80 L55.19,199.80 L55.69,199.80 L56.19,199.80 L56.69,199.80 L57.19,199.80 L57.69,199.80 L58.19,199.80 L58.69,199.80 L59.19,199.80 L59.69,199.80 L60.19,199.80 L60.69,199.80 L61.19,199.80 L61.69,199.80 L62.19,199.80 L62.69,199.80 L63.19,199.80 L63.69,199.80 L64.19,199.80 L64.69,199.80 L65.19,199.80 L65.69,199.80 L66.19,199.80 L66.69,199.80 L67.19,199.80 L67.69,199.80 L68.19,199.80 L68.69,199.80 L69.19,199.80 L69.69,199.80 L70.19,199.80 L70.69,199.80 L71.19,199.80 L71.69,199.80 L72.19,199.80 L72.68,199.80 L73.18,199.80 L73.68,199.80 L74.18,199.80 L74.68,199.80 L75.18,199.80 L75.68,199.80 L76.18,199.80 L76.68,199.80 L77.18,199.80 L77.68,199.80 L78.18,199.80 L78.68,199.80 L79.18,199.80 L79.68,199.80 L80.18,199.80 L80.68,199.80 L81.18,199.80 L81.68,199.80 L82.18,199.80 L82.68,199.80 L83.18,199.80 L83.68,199.80 L84.18,199.80 L84.68,199.80 L85.18,199.80 L85.68,199.80 L86.18,199.80 L86.68,199.80 L87.18,199.80 L87.68,199.80 L88.18,199.80 L88.68,199.80 L89.18,199.80 L89.68,199.80 L90.18,199.80 L90.68,199.80 L91.17,199.80 L91.67,199.80 L92.17,199.80 L92.67,199.80 L93.17,199.80 L93.67,199.80 L94.17,199.80 L94.67,199.80 L95.17,199.80 L95.67,199.80 L96.17,199.80 L96.67,199.80 L97.17,199.80 L97.67,199.80 L98.17,199.80 L98.67,199.80 L99.17,199.80 L99.67,199.80 L100.17,199.80 L100.67,199.80 L101.17,199.80 L101.67,199.80 L102.17,199.80 L102.67,199.80 L103.17,199.80 L103.67,199.80 L104.17,199.80 L104.67,199.80 L105.17,199.80 L105.67,199.80 L106.17,199.80 L106.67,199.80 L107.17,199.80 L107.67,199.80 L108.17,199.80 L108.67,199.80 L109.17,199.80 L109.66,199.80 L110.16,199.80 L110.66,199.80 L111.16,199.80 L111.66,199.80 L112.16,199.80 L112.66,199.80 L113.16,199.80 L113.66,199.80 L114.16,199.80 L114.66,199.80 L115.16,199.80 L115.66,199.80 L116.16,199.80 L116.66,199.80 L117.16,199.80 L117.66,199.80 L118.16,199.80 L118.66,199.80 L119.16,199.80 L119.66,199.80 L120.16,199.80 L120.66,199.80 L121.16,199.80 L121.66,199.80 L122.16,199.80 L122.66,199.80 L123.16,199.80 L123.66,199.80 L124.16,199.80 L124.66,199.80 L125.16,199.80 L125.66,199.80 L126.16,199.80 L126.66,199.80 L127.16,199.80 L127.65,199.80 L128.15,199.80 L128.65,199.80 L129.15,199.80 L129.65,199.80 L130.15,199.80 L130.65,199.80 L131.15,199.80 L131.65,199.80 L132.15,199.80 L132.65,199.80 L133.15,199.80 L133.65,199.80 L134.15,199.80 L134.65,199.80 L135.15,199.80 L135.65,199.80 L136.15,199.80 L136.65,199.80 L137.15,199.80 L137.65,199.80 L138.15,199.80 L138.65,199.80 L139.15,199.80 L139.65,199.80 L140.15,199.80 L140.65,199.80 L141.15,199.80 L141.65,199.80 L142.15,199.80 L142.65,199.80 L143.15,199.80 L143.65,199.80 L144.15,199.80 L144.65,199.80 L145.15,199.80 L145.65,199.80 L146.14,199.80 L146.64,199.80 L147.14,199.80 L147.64,199.80 L148.14,199.80 L148.64,199.80 L149.14,199.80 L149.64,199.80 L150.14,199.80 L150.64,199.80 L151.14,199.80 L151.64,199.80 L152.14,199.80 L152.64,199.80 L153.14,199.80 L153.64,199.80 L154.14,199.80 L154.64,199.80 L155.14,199.80 L155.64,199.80 L156.14,199.80 L156.64,199.80 L157.14,199.80 L157.64,199.80 L158.14,199.80 L158.64,199.80 L159.14,199.80 L159.64,199.80 L160.14,199.80 L160.64,199.80 L161.14,199.80 L161.64,199.80 L162.14,199.80 L162.64,199.80 L163.14,199.80 L163.64,199.80 L164.13,199.80 L164.63,199.80 L165.13,199.80 L165.63,199.80 L166.13,199.80 L166.63,199.80 L167.13,199.80 L167.63,199.80 L168.13,199.80 L168.63,199.80 L169.13,199.80 L169.63,199.80 L170.13,199.80 L170.63,199.80 L171.13,199.80 L171.63,199.80 L172.13,199.80 L172.63,199.80 L173.13,199.80 L173.63,199.80 L174.13,199.80 L174.63,199.80 L175.13,199.80 L175.63,199.80 L176.13,199.80 L176.63,199.80 L177.13,199.80 L177.63,199.80 L178.13,199.80 L178.63,199.80 L179.13,199.80 L179.63,199.80 L180.13,199.80 L180.63,199.80 L181.13,199.80 L181.63,199.80 L182.13,199.80 L182.62,199.80 L183.12,199.80 L183.62,199.80 L184.12,199.80 L184.62,199.80 L185.12,199.80 L185.62,199.80 L186.12,199.80 L186.62,199.80 L187.12,199.80 L187.62,199.80 L188.12,199.80 L188.62,199.80 L189.12,199.80 L189.62,199.80 L190.12,199.80 L190.62,199.80 L191.12,199.80 L191.62,199.80 L192.12,199.80 L192.62,199.80 L193.12,199.80 L193.62,199.80 L194.12,199.80 L194.62,199.80 L195.12,199.80 L195.62,199.80 L196.12,199.80 L196.62,199.80 L197.12,199.80 L197.62,199.80 L198.12,199.80 L198.62,199.80 L199.12,199.80 L199.62,199.80 L200.12,199.80 L200.62,199.80 L201.11,199.80 L201.61,199.80 L202.11,199.80 L202.61,199.80 L203.11,199.80 L203.61,199.80 L204.11,199.80 L204.61,199.80 L205.11,199.80 L205.61,199.80 L206.11,199.80 L206.61,199.80 L207.11,199.80 L207.61,199.80 L208.11,199.80 L208.61,199.80 L209.11,199.80 L209.61,199.80 L210.11,199.80 L210.61,199.80 L211.11,199.80 L211.61,199.80 L212.11,199.80 L212.61,199.80 L213.11,199.80 L213.61,199.80 L214.11,199.80 L214.61,199.80 L215.11,199.80 L215.61,199.80 L216.11,199.80 L216.61,199.80 L217.11,199.80 L217.61,199.80 L218.11,199.80 L218.61,199.80 L219.10,199.80 L219.60,199.80 L220.10,199.80 L220.60,199.80 L221.10,199.80 L221.60,199.80 L222.10,199.80 L222.60,199.80 L223.10,199.80 L223.60,199.80 L224.10,199.80 L224.60,199.80 L225.10,199.80 L225.60,199.80 L226.10,199.80 L226.60,199.80 L227.10,199.80 L227.60,199.80 L228.10,199.80 L228.60,199.80 L229.10,199.80 L229.60,199.80 L230.10,199.80 L230.60,199.80 L231.10,199.80 L231.60,199.80 L232.10,199.80 L232.60,199.80 L233.10,199.80 L233.60,199.80 L234.10,199.80 L234.60,199.80 L235.10,199.80 L235.60,199.80 L236.10,199.80 L236.60,199.80 L237.10,199.80 L237.59,199.80 L238.09,199.80 L238.59,199.80 L239.09,199.80 L239.59,199.80 L240.09,199.80 L240.59,199.80 L241.09,199.80 L241.59,199.80 L242.09,199.80 L242.59,199.80 L243.09,199.80 L243.59,199.80 L244.09,199.80 L244.59,199.80 L245.09,199.80 L245.59,199.80 L246.09,199.80 L246.59,199.80 L247.09,199.80 L247.59,199.80 L248.09,199.80 L248.59,199.80 L249.09,199.80 L249.59,199.80 L250.09,199.80 L250.59,199.80 L251.09,199.80 L251.59,199.80 L252.09,199.80 L252.59,199.80 L253.09,199.80 L253.59,199.80 L254.09,199.80 L254.59,199.80 L255.09,199.80 L255.58,199.80 L256.08,199.80 L256.58,199.80 L257.08,199.80 L257.58,199.80 L258.08,199.80 L258.58,199.80 L259.08,199.80 L259.58,199.80 L260.08,199.80 L260.58,199.80 L261.08,199.80 L261.58,199.80 L262.08,199.80 L262.58,199.80 L263.08,199.80 L263.58,199.80 L264.08,199.80 L264.58,199.80 L265.08,199.80 L265.58,199.80 L266.08,199.80 L266.58,199.80 L267.08,199.80 L267.58,199.80 L268.08,199.80 L268.58,199.80 L269.08,199.80 L269.58,199.80 L270.08,199.80 L270.58,199.80 L271.08,199.80 L271.58,199.80 L272.08,199.80 L272.58,199.80 L273.08,199.80 L273.58,199.80 L274.07,199.80 L274.57,199.80 L275.07,199.80 L275.57,199.80 L276.07,199.80 L276.57,199.80 L277.07,199.80 L277.57,199.80 L278.07,199.80 L278.57,199.80 L279.07,199.80 L279.57,199.80 L280.07,199.80 L280.57,199.80 L281.07,199.80 L281.57,199.80 L282.07,199.80 L282.57,199.80 L283.07,199.80 L283.57,199.80 L284.07,199.80 L284.57,199.80 L285.07,199.80 L285.57,199.80 L286.07,199.80 L286.57,199.80 L287.07,199.80 L287.57,199.80 L288.07,199.80 L288.57,199.80 L289.07,199.80 L289.57,199.80 L290.07,199.80 L290.57,199.80 L291.07,199.80 L291.57,199.80 L292.07,199.80 L292.56,199.80 L293.06,199.80 L293.56,199.80 L294.06,199.80 L294.56,199.80 L295.06,199.80 L295.56,199.80 L296.06,199.80 L296.56,199.80 L297.06,199.80 L297.56,199.80 L298.06,199.80 L298.56,199.80 L299.06,199.80 L299.56,199.80 L300.06,199.80 L300.56,199.80 L301.06,199.80 L301.56,199.80 L302.06,199.80 L302.56,199.80 L303.06,199.80 L303.56,199.80 L304.06,199.80 L304.56,199.80 L305.06,199.80 L305.56,199.80 L306.06,199.80 L306.56,199.80 L307.06,199.80 L307.56,199.80 L308.06,199.80 L308.56,199.80 L309.06,199.80 L309.56,199.80 L310.06,199.80 L310.55,199.80 L311.05,199.80 L311.55,199.80 L312.05,199.80 L312.55,199.80 L313.05,199.80 L313.55,199.80 L314.05,199.80 L314.55,199.80 L315.05,199.80 L315.55,199.80 L316.05,199.80 L316.55,199.80 L317.05,199.80 L317.55,199.80 L318.05,199.80 L318.55,199.80 L319.05,199.80 L319.55,199.80 L320.05,199.80 L320.55,199.80 L321.05,199.80 L321.55,199.80 L322.05,199.80 L322.55,199.80 L323.05,199.80 L323.55,199.80 L324.05,199.80 L324.55,199.80 L325.05,199.80 L325.55,199.80 L326.05,199.80 L326.55,199.80 L327.05,199.80 L327.55,199.80 L328.05,199.80 L328.55,199.80 L329.04,199.80 L329.54,199.80 L330.04,199.80 L330.54,199.80 L331.04,199.80 L331.54,199.80 L332.04,199.80 L332.54,199.80 L333.04,199.80 L333.54,199.80 L334.04,199.80 L334.54,199.80 L335.04,199.80 L335.54,199.80 L336.04,199.80 L336.54,199.80 L337.04,199.80 L337.54,199.80 L338.04,199.80 L338.54,199.80 L339.04,199.80 L339.54,199.80 L340.04,199.80 L340.54,199.80 L341.04,199.80 L341.54,199.80 L342.04,199.80 L342.54,199.80 L343.04,199.80 L343.54,199.80 L344.04,199.80 L344.54,199.80 L345.04,199.80 L345.54,199.80 L346.04,199.80 L346.54,199.80 L347.03,199.80 L347.53,199.80 L348.03,199.80 L348.53,199.80 L349.03,199.80 L349.53,199.80 L350.03,199.80 L350.53,199.80 L351.03,199.80 L351.53,199.80 L352.03,199.80 L352.53,199.80 L353.03,199.80 L353.53,199.80 L354.03,199.80 L354.53,199.80 L355.03,199.80 L355.53,199.80 L356.03,199.80 L356.53,199.80 L357.03,199.80 L357.53,199.80 L358.03,199.80 L358.53,199.80 L359.03,199.80 L359.53,199.80 L360.03,199.80 L360.53,199.80 L361.03,199.80 L361.53,199.80 L362.03,199.80 L362.53,199.80 L363.03,199.80 L363.53,199.80 L364.03,199.80 L364.53,199.80 L365.03,199.80 L365.52,199.80 L366.02,199.80 L366.52,199.80 L367.02,199.80 L367.52,199.80 L368.02,199.80 L368.52,199.80 L369.02,199.80 L369.52,199.80 L370.02,199.80 L370.52,199.80 L371.02,199.80 L371.52,199.80 L372.02,199.80 L372.52,199.80 L373.02,199.80 L373.52,199.80 L374.02,199.80 L374.52,199.80 L375.02,199.80 L375.52,199.80 L376.02,199.80 L376.52,199.80 L377.02,199.80 L377.52,199.80 L378.02,199.80 L378.52,199.80 L379.02,199.80 L379.52,199.80 L380.02,199.80 L380.52,199.80 L381.02,199.80 L381.52,199.80 L382.02,199.80 L382.52,199.80 L383.02,199.80 L383.52,199.80 L384.01,199.80 L384.51,199.80 L385.01,199.80 L385.51,199.80 L386.01,199.80 L386.51,199.80 L387.01,199.80 L387.51,199.80 L388.01,199.80 L388.51,199.80 L389.01,199.80 L389.51,199.80 L390.01,199.80 L390.51,199.80 L391.01,199.80 L391.51,199.80 L392.01,199.80 L392.51,199.80 L393.01,199.80 L393.51,199.80 L394.01,199.80 L394.51,199.80 L395.01,199.80 L395.51,199.80 L396.01,199.80 L396.51,199.80 L397.01,199.80 L397.51,199.80 L398.01,199.80 L398.51,199.80 L399.01,199.80 L399.51,199.80 L400.01,199.80 L400.51,199.80 L401.01,199.80 L401.51,199.80 L402.00,199.80 L402.50,199.80 L403.00,199.80 L403.50,199.80 L404.00,199.80 L404.50,199.80 L405.00,199.80 L405.50,199.80 L406.00,199.80 L406.50,199.80 L407.00,199.80 L407.50,199.80 L408.00,199.80 L408.50,199.80 L409.00,199.80 L409.50,199.80 L410.00,199.80 L410.50,199.80 L411.00,199.80 L411.00,216.80 Z" fill="#3db460"/>
<path d="M45.20,216.80 L45.20,209.50 L45.70,209.50 L46.20,209.50 L46.70,209.50 L47.20,209.50 L47.70,209.50 L48.20,209.50 L48.70,209.50 L49.20,209.50 L49.70,209.50 L50.20,209.50 L50.70,209.50 L51.20,209.50 L51.70,209.50 L52.20,209.50 L52.70,209.50 L53.20,209.50 L53.70,209.50 L54.20,209.50 L54.69,209.50 L55.19,209.50 L55.69,209.50 L56.19,209.50 L56.69,209.50 L57.19,209.50 L57.69,209.50 L58.19,209.50 L58.69,209.50 L59.19,209.50 L59.69,209.50 L60.19,209.50 L60.69,209.50 L61.19,209.50 L61.69,209.50 L62.19,209.50 L62.69,209.50 L63.19,209.50 L63.69,209.50 L64.19,209.50 L64.69,209.50 L65.19,209.50 L65.69,209.50 L66.19,209.50 L66.69,209.50 L67.19,209.50 L67.69,209.50 L68.19,209.50 L68.69,209.50 L69.19,209.50 L69.69,209.50 L70.19,209.50 L70.69,209.50 L71.19,209.50 L71.69,209.50 L72.19,209.50 L72.68,209.50 L73.18,209.50 L73.68,209.50 L74.18,209.50 L74.68,209.50 L75.18,209.50 L75.68,209.50 L76.18,209.50 L76.68,209.50 L77.18,209.50 L77.68,209.50 L78.18,209.50 L78.68,209.50 L79.18,209.50 L79.68,209.50 L80.18,209.50 L80.68,209.50 L81.18,209.50 L81.68,209.50 L82.18,209.50 L82.68,209.50 L83.18,209.50 L83.68,209.50 L84.18,209.50 L84.68,209.50 L85.18,209.50 L85.68,209.50 L86.18,209.50 L86.68,209.50 L87.18,209.50 L87.68,209.50 L88.18,209.50 L88.68,209.50 L89.18,209.50 L89.68,209.50 L90.18,209.50 L90.68,209.50 L91.17,209.50 L91.67,209.50 L92.17,209.50 L92.67,209.50 L93.17,209.50 L93.67,209.50 L94.17,209.50 L94.67,209.50 L95.17,209.50 L95.67,209.50 L96.17,209.50 L96.67,209.50 L97.17,209.50 L97.67,209.50 L98.17,209.50 L98.67,209.50 L99.17,209.50 L99.67,209.50 L100.17,209.50 L100.67,209.50 L101.17,209.50 L101.67,209.50 L102.17,209.50 L102.67,209.50 L103.17,209.50 L103.67,209.50 L104.17,209.50 L104.67,209.50 L105.17,209.50 L105.67,209.50 L106.17,209.50 L106.67,209.50 L107.17,209.50 L107.67,209.50 L108.17,209.50 L108.67,209.50 L109.17,209.50 L109.66,209.50 L110.16,209.50 L110.66,209.50 L111.16,209.50 L111.66,209.50 L112.16,209.50 L112.66,209.50 L113.16,209.50 L113.66,209.50 L114.16,209.50 L114.66,209.50 L115.16,209.50 L115.66,209.50 L116.16,209.50 L116.66,209.50 L117.16,209.50 L117.66,209.50 L118.16,209.50 L118.66,209.50 L119.16,209.50 L119.66,209.50 L120.16,209.50 L120.66,209.50 L121.16,209.50 L121.66,209.50 L122.16,209.50 L122.66,209.50 L123.16,209.50 L123.66,209.50 L124.16,209.50 L124.66,209.50 L125.16,209.50 L125.66,209.50 L126.16,209.50 L126.66,209.50 L127.16,209.50 L127.65,209.50 L128.15,209.50 L128.65,209.50 L129.15,209.50 L129.65,209.50 L130.15,209.50 L130.65,209.50 L131.15,209.50 L131.65,209.50 L132.15,209.50 L132.65,209.50 L133.15,209.50 L133.65,209.50 L134.15,209.50 L134.65,209.50 L135.15,209.50 L135.65,209.50 L136.15,209.50 L136.65,209.50 L137.15,209.50 L137.65,209.50 L138.15,209.50 L138.65,209.50 L139.15,209.50 L139.65,209.50 L140.15,209.50 L140.65,209.50 L141.15,209.50 L141.65,209.50 L142.15,209.50 L142.65,209.50 L143.15,209.50 L143.65,209.50 L144.15,209.50 L144.65,209.50 L145.15,209.50 L145.65,209.50 L146.14,209.50 L146.64,209.50 L147.14,209.50 L147.64,209.50 L148.14,209.50 L148.64,209.50 L149.14,209.50 L149.64,209.50 L150.14,209.50 L150.64,209.50 L151.14,209.50 L151.64,209.50 L152.14,209.50 L152.64,209.50 L153.14,209.50 L153.64,209.50 L154.14,209.50 L154.64,209.50 L155.14,209.50 L155.64,209.50 L156.14,209.50 L156.64,209.50 L157.14,209.50 L157.64,209.50 L158.14,209.50 L158.64,209.50 L159.14,209.50 L159.64,209.50 L160.14,209.50 L160.64,209.50 L161.14,209.50 L161.64,209.50 L162.14,209.50 L162.64,209.50 L163.14,209.50 L163.64,209.50 L164.13,209.50 L164.63,209.50 L165.13,209.50 L165.63,209.50 L166.13,209.50 L166.63,209.50 L167.13,209.50 L167.63,209.50 L168.13,209.50 L168.63,209.50 L169.13,209.50 L169.63,209.50 L170.13,209.50 L170.63,209.50 L171.13,209.50 L171.63,209.50 L172.13,209.50 L172.63,209.50 L173.13,209.50 L173.63,209.50 L174.13,209.50 L174.63,209.50 L175.13,209.50 L175.63,209.50 L176.13,209.50 L176.63,209.50 L177.13,209.50 L177.63,209.50 L178.13,209.50 L178.63,209.50 L179.13,209.50 L179.63,209.50 L180.13,209.50 L180.63,209.50 L181.13,209.50 L181.63,209.50 L182.13,209.50 L182.62,209.50 L183.12,209.50 L183.62,209.50 L184.12,209.50 L184.62,209.50 L185.12,209.50 L185.62,209.50 L186.12,209.50 L186.62,209.50 L187.12,209.50 L187.62,209.50 L188.12,209.50 L188.62,209.50 L189.12,209.50 L189.62,209.50 L190.12,209.50 L190.62,209.50 L191.12,209.50 L191.62,209.50 L192.12,209.50 L192.62,209.50 L193.12,209.50 L193.62,209.50 L194.12,209.50 L194.62,209.50 L195.12,209.50 L195.62,209.50 L196.12,209.50 L196.62,209.50 L197.12,209.50 L197.62,209.50 L198.12,209.50 L198.62,209.50 L199.12,209.50 L199.62,209.50 L200.12,209.50 L200.62,209.50 L201.11,209.50 L201.61,209.50 L202.11,209.50 L202.61,209.50 L203.11,209.50 L203.61,209.50 L204.11,209.50 L204.61,209.50 L205.11,209.50 L205.61,209.50 L206.11,209.50 L206.61,209.50 L207.11,209.50 L207.61,209.50 L208.11,209.50 L208.61,209.50 L209.11,209.50 L209.61,209.50 L210.11,209.50 L210.61,209.50 L211.11,209.50 L211.61,209.50 L212.11,209.50 L212.61,209.50 L213.11,209.50 L213.61,209.50 L214.11,209.50 L214.61,209.50 L215.11,209.50 L215.61,209.50 L216.11,209.50 L216.61,209.50 L217.11,209.50 L217.61,209.50 L218.11,209.50 L218.61,209.50 L219.10,209.50 L219.60,209.50 L220.10,209.50 L220.60,209.50 L221.10,209.50 L221.60,209.50 L222.10,209.50 L222.60,209.50 L223.10,209.50 L223.60,209.50 L224.10,209.50 L224.60,209.50 L225.10,209.50 L225.60,209.50 L226.10,209.50 L226.60,209.50 L227.10,209.50 L227.60,209.50 L228.10,209.50 L228.60,209.50 L229.10,209.50 L229.60,209.50 L230.10,209.50 L230.60,209.50 L231.10,209.50 L231.60,209.50 L232.10,209.50 L232.60,209.50 L233.10,209.50 L233.60,209.50 L234.10,209.50 L234.60,209.50 L235.10,209.50 L235.60,209.50 L236.10,209.50 L236.60,209.50 L237.10,209.50 L237.59,209.50 L238.09,209.50 L238.59,209.50 L239.09,209.50 L239.59,209.50 L240.09,209.50 L240.59,209.50 L241.09,209.50 L241.59,209.50 L242.09,209.50 L242.59,209.50 L243.09,209.50 L243.59,209.50 L244.09,209.50 L244.59,209.50 L245.09,209.50 L245.59,209.50 L246.09,209.50 L246.59,209.50 L247.09,209.50 L247.59,209.50 L248.09,209.50 L248.59,209.50 L249.09,209.50 L249.59,209.50 L250.09,209.50 L250.59,209.50 L251.09,209.50 L251.59,209.50 L252.09,209.50 L252.59,209.50 L253.09,209.50 L253.59,209.50 L254.09,209.50 L254.59,209.50 L255.09,209.50 L255.58,209.50 L256.08,209.50 L256.58,209.50 L257.08,209.50 L257.58,209.50 L258.08,209.50 L258.58,209.50 L259.08,209.50 L259.58,209.50 L260.08,209.50 L260.58,209.50 L261.08,209.50 L261.58,209.50 L262.08,209.50 L262.58,209.50 L263.08,209.50 L263.58,209.50 L264.08,209.50 L264.58,209.50 L265.08,209.50 L265.58,209.50 L266.08,209.50 L266.58,209.50 L267.08,209.50 L267.58,209.50 L268.08,209.50 L268.58,209.50 L269.08,209.50 L269.58,209.50 L270.08,209.50 L270.58,209.50 L271.08,209.50 L271.58,209.50 L272.08,209.50 L272.58,209.50 L273.08,209.50 L273.58,209.50 L274.07,209.50 L274.57,209.50 L275.07,209.50 L275.57,209.50 L276.07,209.50 L276.57,209.50 L277.07,209.50 L277.57,209.50 L278.07,209.50 L278.57,209.50 L279.07,209.50 L279.57,209.50 L280.07,209.50 L280.57,209.50 L281.07,209.50 L281.57,209.50 L282.07,209.50 L282.57,209.50 L283.07,209.50 L283.57,209.50 L284.07,209.50 L284.57,209.50 L285.07,209.50 L285.57,209.50 L286.07,209.50 L286.57,209.50 L287.07,209.50 L287.57,209.50 L288.07,209.50 L288.57,209.50 L289.07,209.50 L289.57,209.50 L290.07,209.50 L290.57,209.50 L291.07,209.50 L291.57,209.50 L292.07,209.50 L292.56,209.50 L293.06,209.50 L293.56,209.50 L294.06,209.50 L294.56,209.50 L295.06,209.50 L295.56,209.50 L296.06,209.50 L296.56,209.50 L297.06,209.50 L297.56,209.50 L298.06,209.50 L298.56,209.50 L299.06,209.50 L299.56,209.50 L300.06,209.50 L300.56,209.50 L301.06,209.50 L301.56,209.50 L302.06,209.50 L302.56,209.50 L303.06,209.50 L303.56,209.50 L304.06,209.50 L304.56,209.50 L305.06,209.50 L305.56,209.50 L306.06,209.50 L306.56,209.50 L307.06,209.50 L307.56,209.50 L308.06,209.50 L308.56,209.50 L309.06,209.50 L309.56,209.50 L310.06,209.50 L310.55,209.50 L311.05,209.50 L311.55,209.50 L312.05,209.50 L312.55,209.50 L313.05,209.50 L313.55,209.50 L314.05,209.50 L314.55,209.50 L315.05,209.50 L315.55,209.50 L316.05,209.50 L316.55,209.50 L317.05,209.50 L317.55,209.50 L318.05,209.50 L318.55,209.50 L319.05,209.50 L319.55,209.50 L320.05,209.50 L320.55,209.50 L321.05,209.50 L321.55,209.50 L322.05,209.50 L322.55,209.50 L323.05,209.50 L323.55,209.50 L324.05,209.50 L324.55,209.50 L325.05,209.50 L325.55,209.50 L326.05,209.50 L326.55,209.50 L327.05,209.50 L327.55,209.50 L328.05,209.50 L328.55,209.50 L329.04,209.50 L329.54,209.50 L330.04,209.50 L330.54,209.50 L331.04,209.50 L331.54,209.50 L332.04,209.50 L332.54,209.50 L333.04,209.50 L333.54,209.50 L334.04,209.50 L334.54,209.50 L335.04,209.50 L335.54,209.50 L336.04,209.50 L336.54,209.50 L337.04,209.50 L337.54,209.50 L338.04,209.50 L338.54,209.50 L339.04,209.50 L339.54,209.50 L340.04,209.50 L340.54,209.50 L341.04,209.50 L341.54,209.50 L342.04,209.50 L342.54,209.50 L343.04,209.50 L343.54,209.50 L344.04,209.50 L344.54,209.50 L345.04,209.50 L345.54,209.50 L346.04,209.50 L346.54,209.50 L347.03,209.50 L347.53,209.50 L348.03,209.50 L348.53,209.50 L349.03,209.50 L349.53,209.50 L350.03,209.50 L350.53,209.50 L351.03,209.50 L351.53,209.50 L352.03,209.50 L352.53,209.50 L353.03,209.50 L353.53,209.50 L354.03,209.50 L354.53,209.50 L355.03,209.50 L355.53,209.50 L356.03,209.50 L356.53,209.50 L357.03,209.50 L357.53,209.50 L358.03,209.50 L358.53,209.50 L359.03,209.50 L359.53,209.50 L360.03,209.50 L360.53,209.50 L361.03,209.50 L361.53,209.50 L362.03,209.50 L362.53,209.50 L363.03,209.50 L363.53,209.50 L364.03,209.50 L364.53,209.50 L365.03,209.50 L365.52,209.50 L366.02,209.50 L366.52,209.50 L367.02,209.50 L367.52,209.50 L368.02,209.50 L368.52,209.50 L369.02,209.50 L369.52,209.50 L370.02,209.50 L370.52,209.50 L371.02,209.50 L371.52,209.50 L372.02,209.50 L372.52,209.50 L373.02,209.50 L373.52,209.50 L374.02,209.50 L374.52,209.50 L375.02,209.50 L375.52,209.50 L376.02,209.50 L376.52,209.50 L377.02,209.50 L377.52,209.50 L378.02,209.50 L378.52,209.50 L379.02,209.50 L379.52,209.50 L380.02,209.50 L380.52,209.50 L381.02,209.50 L381.52,209.50 L382.02,209.50 L382.52,209.50 L383.02,209.50 L383.52,209.50 L384.01,209.50 L384.51,209.50 L385.01,209.50 L385.51,209.50 L386.01,209.50 L386.51,209.50 L387.01,209.50 L387.51,209.50 L388.01,209.50 L388.51,209.50 L389.01,209.50 L389.51,209.50 L390.01,209.50 L390.51,209.50 L391.01,209.50 L391.51,209.50 L392.01,209.50 L392.51,209.50 L393.01,209.50 L393.51,209.50 L394.01,209.50 L394.51,209.50 L395.01,209.50 L395.51,209.50 L396.01,209.50 L396.51,209.50 L397.01,209.50 L397.51,209.50 L398.01,209.50 L398.51,209.50 L399.01,209.50 L399.51,209.50 L400.01,209.50 L400.51,209.50 L401.01,209.50 L401.51,209.50 L402.00,209.50 L402.50,209.50 L403.00,209.50 L403.50,209.50 L404.00,209.50 L404.50,209.50 L405.00,209.50 L405.50,209.50 L406.00,209.50 L406.50,209.50 L407.00,209.50 L407.50,209.50 L408.00,209.50 L408.50,209.50 L409.00,209.50 L409.50,209.50 L410.00,209.50 L410.50,209.50 L411.00,209.50 L411.00,216.80 Z" fill="#3138a6"/>
<path d="M45.20,216.80 L45.20,211.70 L45.70,211.70 L46.20,211.70 L46.70,211.70 L47.20,211.70 L47.70,211.70 L48.20,211.70 L48.70,211.70 L49.20,211.70 L49.70,211.70 L50.20,211.70 L50.70,211.70 L51.20,211.70 L51.70,211.70 L52.20,211.70 L52.70,211.70 L53.20,211.70 L53.70,211.70 L54.20,211.70 L54.69,211.70 L55.19,211.70 L55.69,211.70 L56.19,211.70 L56.69,211.70 L57.19,211.70 L57.69,211.70 L58.19,211.70 L58.69,211.70 L59.19,211.70 L59.69,211.70 L60.19,211.70 L60.69,211.70 L61.19,211.70 L61.69,211.70 L62.19,211.70 L62.69,211.70 L63.19,211.70 L63.69,211.70 L64.19,211.70 L64.69,211.70 L65.19,211.70 L65.69,211.70 L66.19,211.70 L66.69,211.70 L67.19,211.70 L67.69,211.70 L68.19,211.70 L68.69,211.70 L69.19,211.70 L69.69,211.70 L70.19,211.70 L70.69,211.70 L71.19,211.70 L71.69,211.70 L72.19,211.70 L72.68,211.70 L73.18,211.70 L73.68,211.70 L74.18,211.70 L74.68,211.70 L75.18,211.70 L75.68,211.70 L76.18,211.70 L76.68,211.70 L77.18,211.70 L77.68,211.70 L78.18,211.70 L78.68,211.70 L79.18,211.70 L79.68,211.70 L80.18,211.70 L80.68,211.70 L81.18,211.70 L81.68,211.70 L82.18,211.70 L82.68,211.70 L83.18,211.70 L83.68,211.70 L84.18,211.70 L84.68,211.70 L85.18,211.70 L85.68,211.70 L86.18,211.70 L86.68,211.70 L87.18,211.70 L87.68,211.70 L88.18,211.70 L88.68,211.70 L89.18,211.70 L89.68,211.70 L90.18,211.70 L90.68,211.70 L91.17,211.70 L91.67,211.70 L92.17,211.70 L92.67,211.70 L93.17,211.70 L93.67,211.70 L94.17,211.70 L94.67,211.70 L95.17,211.70 L95.67,211.70 L96.17,211.70 L96.67,211.70 L97.17,211.70 L97.67,211.70 L98.17,211.70 L98.67,211.70 L99.17,211.70 L99.67,211.70 L100.17,211.70 L100.67,211.70 L101.17,211.70 L101.67,211.70 L102.17,211.70 L102.67,211.70 L103.17,211.70 L103.67,211.70 L104.17,211.70 L104.67,211.70 L105.17,211.70 L105.67,211.70 L106.17,211.70 L106.67,211.70 L107.17,211.70 L107.67,211.70 L108.17,211.70 L108.67,211.70 L109.17,211.70 L109.66,211.70 L110.16,211.70 L110.66,211.70 L111.16,211.70 L111.66,211.70 L112.16,211.70 L112.66,211.70 L113.16,211.70 L113.66,211.70 L114.16,211.70 L114.66,211.70 L115.16,211.70 L115.66,211.70 L116.16,211.70 L116.66,211.70 L117.16,211.70 L117.66,211.70 L118.16,211.70 L118.66,211.70 L119.16,211.70 L119.66,211.70 L120.16,211.70 L120.66,211.70 L121.16,211.70 L121.66,211.70 L122.16,211.70 L122.66,211.70 L123.16,211.70 L123.66,211.70 L124.16,211.70 L124.66,211.70 L125.16,211.70 L125.66,211.70 L126.16,211.70 L126.66,211.70 L127.16,211.70 L127.65,211.70 L128.15,211.70 L128.65,211.70 L129.15,211.70 L129.65,211.70 L130.15,211.70 L130.65,211.70 L131.15,211.70 L131.65,211.70 L132.15,211.70 L132.65,211.70 L133.15,211.70 L133.65,211.70 L134.15,211.70 L134.65,211.70 L135.15,211.70 L135.65,211.70 L136.15,211.70 L136.65,211.70 L137.15,211.70 L137.65,211.70 L138.15,211.70 L138.65,211.70 L139.15,211.70 L139.65,211.70 L140.15,211.70 L140.65,211.70 L141.15,211.70 L141.65,211.70 L142.15,211.70 L142.65,211.70 L143.15,211.70 L143.65,211.70 L144.15,211.70 L144.65,211.70 L145.15,211.70 L145.65,211.70 L146.14,211.70 L146.64,211.70 L147.14,211.70 L147.64,211.70 L148.14,211.70 L148.64,211.70 L149.14,211.70 L149.64,211.70 L150.14,211.70 L150.64,211.70 L151.14,211.70 L151.64,211.70 L152.14,211.70 L152.64,211.70 L153.14,211.70 L153.64,211.70 L154.14,211.70 L154.64,211.70 L155.14,211.70 L155.64,211.70 L156.14,211.70 L156.64,211.70 L157.14,211.70 L157.64,211.70 L158.14,211.70 L158.64,211.70 L159.14,211.70 L159.64,211.70 L160.14,211.70 L160.64,211.70 L161.14,211.70 L161.64,211.70 L162.14,211.70 L162.64,211.70 L163.14,211.70 L163.64,211.70 L164.13,211.70 L164.63,211.70 L165.13,211.70 L165.63,211.70 L166.13,211.70 L166.63,211.70 L167.13,211.70 L167.63,211.70 L168.13,211.70 L168.63,211.70 L169.13,211.70 L169.63,211.70 L170.13,211.70 L170.63,211.70 L171.13,211.70 L171.63,211.70 L172.13,211.70 L172.63,211.70 L173.13,211.70 L173.63,211.70 L174.13,211.70 L174.63,211.70 L175.13,211.70 L175.63,211.70 L176.13,211.70 L176.63,211.70 L177.13,211.70 L177.63,211.70 L178.13,211.70 L178.63,211.70 L179.13,211.70 L179.63,211.70 L180.13,211.70 L180.63,211.70 L181.13,211.70 L181.63,211.70 L182.13,211.70 L182.62,211.70 L183.12,211.70 L183.62,211.70 L184.12,211.70 L184.62,211.70 L185.12,211.70 L185.62,211.70 L186.12,211.70 L186.62,211.70 L187.12,211.70 L187.62,211.70 L188.12,211.70 L188.62,211.70 L189.12,211.70 L189.62,211.70 L190.12,211.70 L190.62,211.70 L191.12,211.70 L191.62,211.70 L192.12,211.70 L192.62,211.70 L193.12,211.70 L193.62,211.70 L194.12,211.70 L194.62,211.70 L195.12,211.70 L195.62,211.70 L196.12,211.70 L196.62,211.70 L197.12,211.70 L197.62,211.70 L198.12,211.70 L198.62,211.70 L199.12,211.70 L199.62,211.70 L200.12,211.70 L200.62,211.70 L201.11,211.70 L201.61,211.70 L202.11,211.70 L202.61,211.70 L203.11,211.70 L203.61,211.70 L204.11,211.70 L204.61,211.70 L205.11,211.70 L205.61,211.70 L206.11,211.70 L206.61,211.70 L207.11,211.70 L207.61,211.70 L208.11,211.70 L208.61,211.70 L209.11,211.70 L209.61,211.70 L210.11,211.70 L210.61,211.70 L211.11,211.70 L211.61,211.70 L212.11,211.70 L212.61,211.70 L213.11,211.70 L213.61,211.70 L214.11,211.70 L214.61,211.70 L215.11,211.70 L215.61,211.70 L216.11,211.70 L216.61,211.70 L217.11,211.70 L217.61,211.70 L218.11,211.70 L218.61,211.70 L219.10,211.70 L219.60,211.70 L220.10,211.70 L220.60,211.70 L221.10,211.70 L221.60,211.70 L222.10,211.70 L222.60,211.70 L223.10,211.70 L223.60,211.70 L224.10,211.70 L224.60,211.70 L225.10,211.70 L225.60,211.70 L226.10,211.70 L226.60,211.70 L227.10,211.70 L227.60,211.70 L228.10,211.70 L228.60,211.70 L229.10,211.70 L229.60,211.70 L230.10,211.70 L230.60,211.70 L231.10,211.70 L231.60,211.70 L232.10,211.70 L232.60,211.70 L233.10,211.70 L233.60,211.70 L234.10,211.70 L234.60,211.70 L235.10,211.70 L235.60,211.70 L236.10,211.70 L236.60,211.70 L237.10,211.70 L237.59,211.70 L238.09,211.70 L238.59,211.70 L239.09,211.70 L239.59,211.70 L240.09,211.70 L240.59,211.70 L241.09,211.70 L241.59,211.70 L242.09,211.70 L242.59,211.70 L243.09,211.70 L243.59,211.70 L244.09,211.70 L244.59,211.70 L245.09,211.70 L245.59,211.70 L246.09,211.70 L246.59,211.70 L247.09,211.70 L247.59,211.70 L248.09,211.70 L248.59,211.70 L249.09,211.70 L249.59,211.70 L250.09,211.70 L250.59,211.70 L251.09,211.70 L251.59,211.70 L252.09,211.70 L252.59,211.70 L253.09,211.70 L253.59,211.70 L254.09,211.70 L254.59,211.70 L255.09,211.70 L255.58,211.70 L256.08,211.70 L256.58,211.70 L257.08,211.70 L257.58,211.70 L258.08,211.70 L258.58,211.70 L259.08,211.70 L259.58,211.70 L260.08,211.70 L260.58,211.70 L261.08,211.70 L261.58,211.70 L262.08,211.70 L262.58,211.70 L263.08,211.70 L263.58,211.70 L264.08,211.70 L264.58,211.70 L265.08,211.70 L265.58,211.70 L266.08,211.70 L266.58,211.70 L267.08,211.70 L267.58,211.70 L268.08,211.70 L268.58,211.70 L269.08,211.70 L269.58,211.70 L270.08,211.70 L270.58,211.70 L271.08,211.70 L271.58,211.70 L272.08,211.70 L272.58,211.70 L273.08,211.70 L273.58,211.70 L274.07,211.70 L274.57,211.70 L275.07,211.70 L275.57,211.70 L276.07,211.70 L276.57,211.70 L277.07,211.70 L277.57,211.70 L278.07,211.70 L278.57,211.70 L279.07,211.70 L279.57,211.70 L280.07,211.70 L280.57,211.70 L281.07,211.70 L281.57,211.70 L282.07,211.70 L282.57,211.70 L283.07,211.70 L283.57,211.70 L284.07,211.70 L284.57,211.70 L285.07,211.70 L285.57,211.70 L286.07,211.70 L286.57,211.70 L287.07,211.70 L287.57,211.70 L288.07,211.70 L288.57,211.70 L289.07,211.70 L289.57,211.70 L290.07,211.70 L290.57,211.70 L291.07,211.70 L291.57,211.70 L292.07,211.70 L292.56,211.70 L293.06,211.70 L293.56,211.70 L294.06,211.70 L294.56,211.70 L295.06,211.70 L295.56,211.70 L296.06,211.70 L296.56,211.70 L297.06,211.70 L297.56,211.70 L298.06,211.70 L298.56,211.70 L299.06,211.70 L299.56,211.70 L300.06,211.70 L300.56,211.70 L301.06,211.70 L301.56,211.70 L302.06,211.70 L302.56,211.70 L303.06,211.70 L303.56,211.70 L304.06,211.70 L304.56,211.70 L305.06,211.70 L305.56,211.70 L306.06,211.70 L306.56,211.70 L307.06,211.70 L307.56,211.70 L308.06,211.70 L308.56,211.70 L309.06,211.70 L309.56,211.70 L310.06,211.70 L310.55,211.70 L311.05,211.70 L311.55,211.70 L312.05,211.70 L312.55,211.70 L313.05,211.70 L313.55,211.70 L314.05,211.70 L314.55,211.70 L315.05,211.70 L315.55,211.70 L316.05,211.70 L316.55,211.70 L317.05,211.70 L317.55,211.70 L318.05,211.70 L318.55,211.70 L319.05,211.70 L319.55,211.70 L320.05,211.70 L320.55,211.70 L321.05,211.70 L321.55,211.70 L322.05,211.70 L322.55,211.70 L323.05,211.70 L323.55,211.70 L324.05,211.70 L324.55,211.70 L325.05,211.70 L325.55,211.70 L326.05,211.70 L326.55,211.70 L327.05,211.70 L327.55,211.70 L328.05,211.70 L328.55,211.70 L329.04,211.70 L329.54,211.70 L330.04,211.70 L330.54,211.70 L331.04,211.70 L331.54,211.70 L332.04,211.70 L332.54,211.70 L333.04,211.70 L333.54,211.70 L334.04,211.70 L334.54,211.70 L335.04,211.70 L335.54,211.70 L336.04,211.70 L336.54,211.70 L337.04,211.70 L337.54,211.70 L338.04,211.70 L338.54,211.70 L339.04,211.70 L339.54,211.70 L340.04,211.70 L340.54,211.70 L341.04,211.70 L341.54,211.70 L342.04,211.70 L342.54,211.70 L343.04,211.70 L343.54,211.70 L344.04,211.70 L344.54,211.70 L345.04,211.70 L345.54,211.70 L346.04,211.70 L346.54,211.70 L347.03,211.70 L347.53,211.70 L348.03,211.70 L348.53,211.70 L349.03,211.70 L349.53,211.70 L350.03,211.70 L350.53,211.70 L351.03,211.70 L351.53,211.70 L352.03,211.70 L352.53,211.70 L353.03,211.70 L353.53,211.70 L354.03,211.70 L354.53,211.70 L355.03,211.70 L355.53,211.70 L356.03,211.70 L356.53,211.70 L357.03,211.70 L357.53,211.70 L358.03,211.70 L358.53,211.70 L359.03,211.70 L359.53,211.70 L360.03,211.70 L360.53,211.70 L361.03,211.70 L361.53,211.70 L362.03,211.70 L362.53,211.70 L363.03,211.70 L363.53,211.70 L364.03,211.70 L364.53,211.70 L365.03,211.70 L365.52,211.70 L366.02,211.70 L366.52,211.70 L367.02,211.70 L367.52,211.70 L368.02,211.70 L368.52,211.70 L369.02,211.70 L369.52,211.70 L370.02,211.70 L370.52,211.70 L371.02,211.70 L371.52,211.70 L372.02,211.70 L372.52,211.70 L373.02,211.70 L373.52,211.70 L374.02,211.70 L374.52,211.70 L375.02,211.70 L375.52,211.70 L376.02,211.70 L376.52,211.70 L377.02,211.70 L377.52,211.70 L378.02,211.70 L378.52,211.70 L379.02,211.70 L379.52,211.70 L380.02,211.70 L380.52,211.70 L381.02,211.70 L381.52,211.70 L382.02,211.70 L382.52,211.70 L383.02,211.70 L383.52,211.70 L384.01,211.70 L384.51,211.70 L385.01,211.70 L385.51,211.70 L386.01,211.70 L386.51,211.70 L387.01,211.70 L387.51,211.70 L388.01,211.70 L388.51,211.70 L389.01,211.70 L389.51,211.70 L390.01,211.70 L390.51,211.70 L391.01,211.70 L391.51,211.70 L392.01,211.70 L392.51,211.70 L393.01,211.70 L393.51,211.70 L394.01,211.70 L394.51,211.70 L395.01,211.70 L395.51,211.70 L396.01,211.70 L396.51,211.70 L397.01,211.70 L397.51,211.70 L398.01,211.70 L398.51,211.70 L399.01,211.70 L399.51,211.70 L400.01,211.70 L400.51,211.70 L401.01,211.70 L401.51,211.70 L402.00,211.70 L402.50,211.70 L403.00,211.70 L403.50,211.70 L404.00,211.70 L404.50,211.70 L405.00,211.70 L405.50,211.70 L406.00,211.70 L406.50,211.70 L407.00,211.70 L407.50,211.70 L408.00,211.70 L408.50,211.70 L409.00,211.70 L409.50,211.70 L410.00,211.70 L410.50,211.70 L411.00,211.70 L411.00,216.80 Z" fill="#e84a4b"/>
<path d="M45.40,141.10 L49.40,141.90 L54.80,143.30 L60.30,142.80 L65.70,141.50 L71.10,137.90 L74.70,133.40 L78.30,127.00 L82.00,119.80 L85.60,114.40 L91.00,109.00 L97.60,104.70 L103.00,100.70 L108.40,97.30 L112.50,96.90 L116.50,98.00 L120.60,100.00 L124.70,102.70 L128.70,104.70 L131.70,107.00 L137.70,110.10 L143.70,108.20 L149.80,104.60 L153.40,105.80 L158.20,110.60 L163.00,115.90 L170.20,120.20 L175.00,123.90 L179.90,129.90 L184.70,133.50 L189.50,134.70 L193.30,136.60 L199.30,135.90 L205.00,132.20 L210.00,128.90 L214.90,121.40 L219.90,114.00 L224.90,109.00 L228.20,106.50 L231.50,107.40 L236.50,105.70 L241.40,103.20 L246.40,102.40 L249.70,103.20 L253.00,104.00 L258.00,107.40 L263.00,111.50 L267.90,114.80 L272.90,117.80 L276.20,118.90 L279.50,117.80 L282.80,114.80 L285.00,112.80 L290.00,113.80 L294.50,117.50 L299.00,122.80 L303.60,125.80 L308.10,128.80 L312.60,132.60 L317.10,136.40 L321.70,140.20 L326.20,142.00 L330.70,142.90 L335.20,142.40 L339.80,140.20 L344.30,137.10 L348.00,132.60 L350.50,128.50 L353.20,122.30 L356.60,117.30 L359.90,114.00 L364.00,111.50 L366.50,110.70 L369.80,109.80 L373.10,108.20 L378.10,106.20 L382.20,105.20 L384.70,105.70 L389.70,107.40 L394.60,109.80 L399.60,112.30 L404.60,114.50 L407.90,115.60 L410.60,116.50" fill="none" stroke="#2a2a2a" stroke-width="1.05" stroke-linejoin="round"/>
<path d="M412.20,216.80 L412.20,117.48 L412.70,117.18 L413.20,116.88 L413.70,116.58 L414.21,116.28 L414.71,115.98 L415.21,115.71 L415.71,115.48 L416.21,115.26 L416.71,115.04 L417.21,114.82 L417.71,114.59 L418.22,114.37 L418.72,114.13 L419.22,113.84 L419.72,113.54 L420.22,113.25 L420.72,112.95 L421.22,112.66 L421.72,112.36 L422.23,112.09 L422.73,111.86 L423.23,111.62 L423.73,111.38 L424.23,111.14 L424.73,110.91 L425.23,110.67 L425.73,110.43 L426.24,110.33 L426.74,110.24 L427.24,110.16 L427.74,110.08 L428.24,110.01 L428.74,110.15 L429.24,110.30 L429.74,110.44 L430.25,110.58 L430.75,110.73 L431.25,110.95 L431.75,111.25 L432.25,111.55 L432.75,111.85 L433.25,112.21 L433.75,112.63 L434.26,113.05 L434.76,113.46 L435.26,113.88 L435.76,114.30 L436.26,114.74 L436.76,115.21 L437.26,115.67 L437.76,116.14 L438.27,116.60 L438.77,117.07 L439.27,117.53 L439.77,118.00 L440.27,118.48 L440.77,119.05 L441.27,119.61 L441.77,120.18 L442.28,120.75 L442.78,121.31 L443.28,121.88 L443.78,122.45 L444.28,123.01 L444.78,123.58 L445.28,124.01 L445.78,124.43 L446.29,124.85 L446.79,125.28 L447.29,125.70 L447.79,126.12 L448.29,126.62 L448.79,127.18 L449.29,127.73 L449.79,128.28 L450.30,128.84 L450.80,129.39 L451.30,129.95 L451.80,130.50 L451.80,216.80 Z" fill="#ddecd6"/>
<path d="M412.20,216.80 L412.20,130.62 L412.70,130.17 L413.20,129.72 L413.70,129.27 L414.21,128.90 L414.71,128.64 L415.21,128.38 L415.71,128.13 L416.21,127.87 L416.71,127.62 L417.21,127.36 L417.71,127.10 L418.22,126.85 L418.72,126.60 L419.22,126.55 L419.72,126.50 L420.22,126.46 L420.72,126.41 L421.22,126.36 L421.72,126.31 L422.23,126.27 L422.73,126.22 L423.23,126.17 L423.73,126.13 L424.23,126.14 L424.73,126.24 L425.23,126.33 L425.73,126.43 L426.24,126.52 L426.74,126.62 L427.24,126.71 L427.74,126.81 L428.24,126.90 L428.74,126.99 L429.24,127.09 L429.74,127.49 L430.25,127.92 L430.75,128.36 L431.25,128.80 L431.75,129.23 L432.25,129.67 L432.75,130.02 L433.25,130.33 L433.75,130.64 L434.26,130.95 L434.76,131.26 L435.26,131.57 L435.76,131.88 L436.26,132.19 L436.76,132.46 L437.26,132.66 L437.76,132.86 L438.27,133.06 L438.77,133.26 L439.27,133.46 L439.77,133.66 L440.27,133.85 L440.77,134.05 L441.27,134.25 L441.77,134.45 L442.28,134.83 L442.78,135.27 L443.28,135.71 L443.78,136.16 L444.28,136.60 L444.78,137.04 L445.28,137.48 L445.78,137.92 L446.29,138.56 L446.79,139.51 L447.29,140.31 L447.79,140.36 L448.29,140.42 L448.79,140.47 L449.29,140.53 L449.79,140.58 L450.30,140.64 L450.80,140.69 L451.30,140.75 L451.80,140.80 L451.80,216.80 Z" fill="#c3d1bc"/>
<path d="M412.20,216.80 L412.20,130.89 L412.70,130.61 L413.20,130.34 L413.70,130.06 L414.21,129.81 L414.71,129.58 L415.21,129.36 L415.71,129.14 L416.21,128.91 L416.71,128.69 L417.21,128.46 L417.71,128.24 L418.22,128.02 L418.72,127.80 L419.22,127.75 L419.72,127.70 L420.22,127.66 L420.72,127.61 L421.22,127.56 L421.72,127.51 L422.23,127.47 L422.73,127.42 L423.23,127.37 L423.73,127.33 L424.23,127.32 L424.73,127.37 L425.23,127.42 L425.73,127.46 L426.24,127.51 L426.74,127.56 L427.24,127.61 L427.74,127.65 L428.24,127.70 L428.74,127.75 L429.24,127.79 L429.74,128.10 L430.25,128.44 L430.75,128.78 L431.25,129.12 L431.75,129.46 L432.25,129.80 L432.75,130.17 L433.25,130.55 L433.75,130.93 L434.26,131.31 L434.76,131.70 L435.26,132.08 L435.76,132.46 L436.26,132.84 L436.76,133.16 L437.26,133.36 L437.76,133.56 L438.27,133.76 L438.77,133.96 L439.27,134.16 L439.77,134.36 L440.27,134.55 L440.77,134.75 L441.27,134.95 L441.77,135.15 L442.28,135.41 L442.78,135.70 L443.28,135.99 L443.78,136.27 L444.28,136.60 L444.78,137.04 L445.28,137.48 L445.78,137.92 L446.29,138.56 L446.79,139.51 L447.29,140.31 L447.79,140.90 L448.29,141.71 L448.79,141.77 L449.29,141.82 L449.79,141.88 L450.30,141.93 L450.80,141.99 L451.30,142.04 L451.80,142.10 L451.80,216.80 Z" fill="#7d5a36"/>
<path d="M412.20,216.80 L412.20,132.69 L412.70,132.41 L413.20,132.14 L413.70,131.86 L414.21,131.61 L414.71,131.38 L415.21,131.16 L415.71,130.94 L416.21,130.71 L416.71,130.49 L417.21,130.26 L417.71,130.04 L418.22,129.82 L418.72,129.60 L419.22,129.55 L419.72,129.50 L420.22,129.46 L420.72,129.41 L421.22,129.36 L421.72,129.31 L422.23,129.27 L422.73,129.22 L423.23,129.17 L423.73,129.13 L424.23,129.12 L424.73,129.17 L425.23,129.22 L425.73,129.26 L426.24,129.31 L426.74,129.36 L427.24,129.41 L427.74,129.45 L428.24,129.50 L428.74,129.55 L429.24,129.59 L429.74,129.90 L430.25,130.24 L430.75,130.58 L431.25,130.92 L431.75,131.26 L432.25,131.60 L432.75,131.97 L433.25,132.35 L433.75,132.73 L434.26,133.11 L434.76,133.50 L435.26,133.88 L435.76,134.26 L436.26,134.64 L436.76,134.96 L437.26,135.16 L437.76,135.36 L438.27,135.56 L438.77,135.76 L439.27,135.96 L439.77,136.16 L440.27,136.35 L440.77,136.55 L441.27,136.75 L441.77,136.95 L442.28,137.21 L442.78,137.50 L443.28,137.79 L443.78,138.07 L444.28,138.36 L444.78,138.65 L445.28,138.93 L445.78,139.22 L446.29,139.76 L446.79,140.74 L447.29,141.72 L447.79,142.70 L448.29,143.51 L448.79,143.57 L449.29,143.62 L449.79,143.68 L450.30,143.73 L450.80,143.79 L451.30,143.84 L451.80,143.90 L451.80,216.80 Z" fill="#4aa3dc"/>
<path d="M412.20,216.80 L412.20,135.54 L412.70,135.38 L413.20,135.22 L413.70,135.07 L414.21,134.91 L414.71,134.75 L415.21,134.59 L415.71,134.44 L416.21,134.28 L416.71,134.12 L417.21,133.97 L417.71,133.81 L418.22,133.65 L418.72,133.50 L419.22,133.44 L419.72,133.38 L420.22,133.33 L420.72,133.27 L421.22,133.21 L421.72,133.16 L422.23,133.10 L422.73,133.04 L423.23,132.99 L423.73,132.93 L424.23,132.93 L424.73,132.98 L425.23,133.04 L425.73,133.10 L426.24,133.15 L426.74,133.21 L427.24,133.27 L427.74,133.32 L428.24,133.38 L428.74,133.44 L429.24,133.49 L429.74,133.64 L430.25,133.81 L430.75,133.97 L431.25,134.13 L431.75,134.29 L432.25,134.45 L432.75,134.63 L433.25,134.83 L433.75,135.02 L434.26,135.21 L434.76,135.40 L435.26,135.59 L435.76,135.78 L436.26,135.97 L436.76,136.15 L437.26,136.30 L437.76,136.45 L438.27,136.60 L438.77,136.75 L439.27,136.91 L439.77,137.06 L440.27,137.21 L440.77,137.36 L441.27,137.51 L441.77,137.66 L442.28,137.86 L442.78,138.08 L443.28,138.29 L443.78,138.51 L444.28,138.72 L444.78,138.94 L445.28,139.15 L445.78,139.36 L446.29,139.85 L446.79,140.81 L447.29,141.76 L447.79,142.72 L448.29,143.51 L448.79,143.57 L449.29,143.62 L449.79,143.68 L450.30,143.73 L450.80,143.79 L451.30,143.84 L451.80,143.90 L451.80,216.80 Z" fill="#f9d09b"/>
<path d="M412.20,216.80 L412.20,155.29 L412.70,155.26 L413.20,155.24 L413.70,155.21 L414.21,155.19 L414.71,155.16 L415.21,155.14 L415.71,155.11 L416.21,155.09 L416.71,155.06 L417.21,155.04 L417.71,155.01 L418.22,154.99 L418.72,154.96 L419.22,154.94 L419.72,154.91 L420.22,154.89 L420.72,154.86 L421.22,154.84 L421.72,154.81 L422.23,154.79 L422.73,154.76 L423.23,154.74 L423.73,154.71 L424.23,154.69 L424.73,154.66 L425.23,154.64 L425.73,154.61 L426.24,154.59 L426.74,154.56 L427.24,154.54 L427.74,154.51 L428.24,154.49 L428.74,154.46 L429.24,154.44 L429.74,154.41 L430.25,154.39 L430.75,154.36 L431.25,154.34 L431.75,154.31 L432.25,154.31 L432.75,154.34 L433.25,154.36 L433.75,154.39 L434.26,154.41 L434.76,154.44 L435.26,154.46 L435.76,154.49 L436.26,154.51 L436.76,154.54 L437.26,154.56 L437.76,154.59 L438.27,154.61 L438.77,154.64 L439.27,154.66 L439.77,154.69 L440.27,154.71 L440.77,154.74 L441.27,154.76 L441.77,154.79 L442.28,154.81 L442.78,154.84 L443.28,154.86 L443.78,154.89 L444.28,154.91 L444.78,154.94 L445.28,154.96 L445.78,154.99 L446.29,155.01 L446.79,155.04 L447.29,155.06 L447.79,155.09 L448.29,155.11 L448.79,155.14 L449.29,155.16 L449.79,155.19 L450.30,155.21 L450.80,155.24 L451.30,155.26 L451.80,155.29 L451.80,216.80 Z" fill="#8a8a8c"/>
<path d="M412.20,216.80 L412.20,172.59 L412.70,172.55 L413.20,172.51 L413.70,172.47 L414.21,172.43 L414.71,172.40 L415.21,172.36 L415.71,172.32 L416.21,172.28 L416.71,172.25 L417.21,172.21 L417.71,172.17 L418.22,172.13 L418.72,172.10 L419.22,172.06 L419.72,172.02 L420.22,171.98 L420.72,171.95 L421.22,171.91 L421.72,171.87 L422.23,171.83 L422.73,171.80 L423.23,171.76 L423.73,171.72 L424.23,171.68 L424.73,171.65 L425.23,171.61 L425.73,171.57 L426.24,171.53 L426.74,171.49 L427.24,171.46 L427.74,171.42 L428.24,171.38 L428.74,171.34 L429.24,171.31 L429.74,171.27 L430.25,171.23 L430.75,171.19 L431.25,171.16 L431.75,171.12 L432.25,171.10 L432.75,171.10 L433.25,171.10 L433.75,171.10 L434.26,171.10 L434.76,171.10 L435.26,171.10 L435.76,171.10 L436.26,171.10 L436.76,171.10 L437.26,171.10 L437.76,171.10 L438.27,171.10 L438.77,171.10 L439.27,171.10 L439.77,171.10 L440.27,171.10 L440.77,171.10 L441.27,171.10 L441.77,171.10 L442.28,171.10 L442.78,171.10 L443.28,171.10 L443.78,171.10 L444.28,171.10 L444.78,171.10 L445.28,171.10 L445.78,171.10 L446.29,171.10 L446.79,171.10 L447.29,171.10 L447.79,171.10 L448.29,171.10 L448.79,171.10 L449.29,171.10 L449.79,171.10 L450.30,171.10 L450.80,171.10 L451.30,171.10 L451.80,171.10 L451.80,216.80 Z" fill="#d6c5b3"/>
<path d="M412.20,216.80 L412.20,200.10 L412.70,200.10 L413.20,200.10 L413.70,200.10 L414.21,200.10 L414.71,200.10 L415.21,200.10 L415.71,200.10 L416.21,200.10 L416.71,200.10 L417.21,200.10 L417.71,200.10 L418.22,200.10 L418.72,200.10 L419.22,200.10 L419.72,200.10 L420.22,200.10 L420.72,200.10 L421.22,200.10 L421.72,200.10 L422.23,200.10 L422.73,200.10 L423.23,200.10 L423.73,200.10 L424.23,200.10 L424.73,200.10 L425.23,200.10 L425.73,200.10 L426.24,200.10 L426.74,200.10 L427.24,200.10 L427.74,200.10 L428.24,200.10 L428.74,200.10 L429.24,200.10 L429.74,200.10 L430.25,200.10 L430.75,200.10 L431.25,200.10 L431.75,200.10 L432.25,200.10 L432.75,200.10 L433.25,200.10 L433.75,200.10 L434.26,200.10 L434.76,200.10 L435.26,200.10 L435.76,200.10 L436.26,200.10 L436.76,200.10 L437.26,200.10 L437.76,200.10 L438.27,200.10 L438.77,200.10 L439.27,200.10 L439.77,200.10 L440.27,200.10 L440.77,200.10 L441.27,200.10 L441.77,200.10 L442.28,200.10 L442.78,200.10 L443.28,200.10 L443.78,200.10 L444.28,200.10 L444.78,200.10 L445.28,200.10 L445.78,200.10 L446.29,200.10 L446.79,200.10 L447.29,200.10 L447.79,200.10 L448.29,200.10 L448.79,200.10 L449.29,200.10 L449.79,200.10 L450.30,200.10 L450.80,200.10 L451.30,200.10 L451.80,200.10 L451.80,216.80 Z" fill="#6dd08b"/>
<path d="M412.20,216.80 L412.20,209.30 L412.70,209.30 L413.20,209.30 L413.70,209.30 L414.21,209.30 L414.71,209.30 L415.21,209.30 L415.71,209.30 L416.21,209.30 L416.71,209.30 L417.21,209.30 L417.71,209.30 L418.22,209.30 L418.72,209.30 L419.22,209.30 L419.72,209.30 L420.22,209.30 L420.72,209.30 L421.22,209.30 L421.72,209.30 L422.23,209.30 L422.73,209.30 L423.23,209.30 L423.73,209.30 L424.23,209.30 L424.73,209.30 L425.23,209.30 L425.73,209.30 L426.24,209.30 L426.74,209.30 L427.24,209.30 L427.74,209.30 L428.24,209.30 L428.74,209.30 L429.24,209.30 L429.74,209.30 L430.25,209.30 L430.75,209.30 L431.25,209.30 L431.75,209.30 L432.25,209.30 L432.75,209.30 L433.25,209.30 L433.75,209.30 L434.26,209.30 L434.76,209.30 L435.26,209.30 L435.76,209.30 L436.26,209.30 L436.76,209.30 L437.26,209.30 L437.76,209.30 L438.27,209.30 L438.77,209.30 L439.27,209.30 L439.77,209.30 L440.27,209.30 L440.77,209.30 L441.27,209.30 L441.77,209.30 L442.28,209.30 L442.78,209.30 L443.28,209.30 L443.78,209.30 L444.28,209.30 L444.78,209.30 L445.28,209.30 L445.78,209.30 L446.29,209.30 L446.79,209.30 L447.29,209.30 L447.79,209.30 L448.29,209.30 L448.79,209.30 L449.29,209.30 L449.79,209.30 L450.30,209.30 L450.80,209.30 L451.30,209.30 L451.80,209.30 L451.80,216.80 Z" fill="#3b40b2"/>
<path d="M412.20,216.80 L412.20,211.70 L412.70,211.70 L413.20,211.70 L413.70,211.70 L414.21,211.70 L414.71,211.70 L415.21,211.70 L415.71,211.70 L416.21,211.70 L416.71,211.70 L417.21,211.70 L417.71,211.70 L418.22,211.70 L418.72,211.70 L419.22,211.70 L419.72,211.70 L420.22,211.70 L420.72,211.70 L421.22,211.70 L421.72,211.70 L422.23,211.70 L422.73,211.70 L423.23,211.70 L423.73,211.70 L424.23,211.70 L424.73,211.70 L425.23,211.70 L425.73,211.70 L426.24,211.70 L426.74,211.70 L427.24,211.70 L427.74,211.70 L428.24,211.70 L428.74,211.70 L429.24,211.70 L429.74,211.70 L430.25,211.70 L430.75,211.70 L431.25,211.70 L431.75,211.70 L432.25,211.70 L432.75,211.70 L433.25,211.70 L433.75,211.70 L434.26,211.70 L434.76,211.70 L435.26,211.70 L435.76,211.70 L436.26,211.70 L436.76,211.70 L437.26,211.70 L437.76,211.70 L438.27,211.70 L438.77,211.70 L439.27,211.70 L439.77,211.70 L440.27,211.70 L440.77,211.70 L441.27,211.70 L441.77,211.70 L442.28,211.70 L442.78,211.70 L443.28,211.70 L443.78,211.70 L444.28,211.70 L444.78,211.70 L445.28,211.70 L445.78,211.70 L446.29,211.70 L446.79,211.70 L447.29,211.70 L447.79,211.70 L448.29,211.70 L448.79,211.70 L449.29,211.70 L449.79,211.70 L450.30,211.70 L450.80,211.70 L451.30,211.70 L451.80,211.70 L451.80,216.80 Z" fill="#ef6b6b"/>
<path d="M412.00,108.20 L416.10,106.30 L419.00,104.60 L422.20,103.40 L425.80,104.60 L430.60,108.20 L437.80,114.20 L445.10,121.40 L452.30,128.70 L454.70,131.10" fill="none" stroke="#2a2a2a" stroke-width="1.05" stroke-linejoin="round"/>
<text x="133.60" y="11.30" font-size="11.50" fill="#333" textLength="293.50" lengthAdjust="spacingAndGlyphs" stroke="#333" stroke-width="0.35">Public net electricity generation in Germany in week 8 2023</text>
<text x="232.00" y="25.20" font-size="8.00" fill="#666" textLength="96.00" lengthAdjust="spacingAndGlyphs">Energetically corrected values</text>
<text x="37.00" y="47.70" font-size="6.40" fill="#666" text-anchor="end" textLength="23.00" lengthAdjust="spacingAndGlyphs">100,000</text>
<text x="37.00" y="82.20" font-size="6.40" fill="#666" text-anchor="end" textLength="19.46" lengthAdjust="spacingAndGlyphs">80,000</text>
<text x="37.00" y="116.50" font-size="6.40" fill="#666" text-anchor="end" textLength="19.46" lengthAdjust="spacingAndGlyphs">60,000</text>
<text x="37.00" y="150.80" font-size="6.40" fill="#666" text-anchor="end" textLength="19.46" lengthAdjust="spacingAndGlyphs">40,000</text>
<text x="37.00" y="185.10" font-size="6.40" fill="#666" text-anchor="end" textLength="19.46" lengthAdjust="spacingAndGlyphs">20,000</text>
<text x="37.00" y="219.40" font-size="6.40" fill="#666" text-anchor="end" textLength="3.54" lengthAdjust="spacingAndGlyphs">0</text>
<text transform="translate(7.2,131) rotate(-90)" font-size="6.6" fill="#666" text-anchor="middle" textLength="35.5" lengthAdjust="spacingAndGlyphs">Power (MW)</text>
<text x="45.20" y="227.90" font-size="6.50" fill="#666" text-anchor="middle" textLength="34.70" lengthAdjust="spacingAndGlyphs">02/20/2023</text>
<text x="116.00" y="227.90" font-size="6.50" fill="#666" text-anchor="middle" textLength="34.70" lengthAdjust="spacingAndGlyphs">02/20/2023</text>
<text x="186.80" y="227.90" font-size="6.50" fill="#666" text-anchor="middle" textLength="34.70" lengthAdjust="spacingAndGlyphs">02/21/2023</text>
<text x="257.70" y="227.90" font-size="6.50" fill="#666" text-anchor="middle" textLength="34.70" lengthAdjust="spacingAndGlyphs">02/21/2023</text>
<text x="328.60" y="227.90" font-size="6.50" fill="#666" text-anchor="middle" textLength="34.70" lengthAdjust="spacingAndGlyphs">02/22/2023</text>
<text x="399.40" y="227.90" font-size="6.50" fill="#666" text-anchor="middle" textLength="34.70" lengthAdjust="spacingAndGlyphs">02/22/2023</text>
<text x="470.00" y="227.90" font-size="6.50" fill="#666" text-anchor="middle" textLength="34.70" lengthAdjust="spacingAndGlyphs">02/23/2023</text>
<text x="316.50" y="239.20" font-size="7.00" fill="#666" text-anchor="middle" textLength="43.40" lengthAdjust="spacingAndGlyphs">Date (GMT+1)</text>
<circle cx="17.90" cy="255.30" r="3.3" fill="#cccccc"/>
<text x="24.90" y="257.80" font-size="7.00" fill="#cccccc" font-weight="bold" textLength="111.12" lengthAdjust="spacingAndGlyphs">Hydro pumped storage consumption</text>
<circle cx="17.90" cy="263.11" r="3.3" fill="#e8383a"/>
<text x="24.90" y="265.61" font-size="7.00" fill="#333" font-weight="bold" textLength="49.40" lengthAdjust="spacingAndGlyphs">Nuclear planned</text>
<circle cx="17.90" cy="270.92" r="3.3" fill="#2fb155"/>
<text x="24.90" y="273.42" font-size="7.00" fill="#333" font-weight="bold" textLength="52.57" lengthAdjust="spacingAndGlyphs">Biomass planned</text>
<circle cx="17.90" cy="278.73" r="3.3" fill="#555558"/>
<text x="24.90" y="281.23" font-size="7.00" fill="#333" font-weight="bold" textLength="74.44" lengthAdjust="spacingAndGlyphs">Fossil hard coal planned</text>
<circle cx="17.90" cy="286.54" r="3.3" fill="#f7bf73"/>
<text x="24.90" y="289.04" font-size="7.00" fill="#333" font-weight="bold" textLength="57.16" lengthAdjust="spacingAndGlyphs">Fossil gas planned</text>
<circle cx="17.90" cy="294.35" r="3.3" fill="#3a8fd1"/>
<text x="24.90" y="296.85" font-size="7.00" fill="#333" font-weight="bold" textLength="69.50" lengthAdjust="spacingAndGlyphs">Hydro pumped storage</text>
<circle cx="17.90" cy="302.16" r="3.3" fill="#7a5530"/>
<text x="24.90" y="304.66" font-size="7.00" fill="#333" font-weight="bold" textLength="44.57" lengthAdjust="spacingAndGlyphs">Waste planned</text>
<circle cx="17.90" cy="309.97" r="3.3" fill="#d4ebcf"/>
<text x="24.90" y="312.47" font-size="7.00" fill="#333" font-weight="bold" textLength="68.74" lengthAdjust="spacingAndGlyphs">Wind onshore forecast</text>
<rect x="13.70" y="316.98" width="8" height="1.6" fill="#666"/>
<text x="24.90" y="320.28" font-size="7.00" fill="#333" font-weight="bold" textLength="41.63" lengthAdjust="spacingAndGlyphs">Load forecast</text>
<rect x="13.70" y="324.79" width="8" height="1.6" fill="#dddddd"/>
<text x="24.90" y="328.09" font-size="7.00" fill="#cccccc" font-weight="bold" textLength="122.09" lengthAdjust="spacingAndGlyphs">Renewable Share of Generation forecast</text>
<circle cx="160.40" cy="255.30" r="3.3" fill="#cccccc"/>
<text x="167.40" y="257.80" font-size="7.00" fill="#cccccc" font-weight="bold" textLength="45.87" lengthAdjust="spacingAndGlyphs">Import Balance</text>
<circle cx="160.40" cy="263.11" r="3.3" fill="#2e36a6"/>
<text x="167.40" y="265.61" font-size="7.00" fill="#333" font-weight="bold" textLength="58.56" lengthAdjust="spacingAndGlyphs">Hydro Run-of-River</text>
<circle cx="160.40" cy="270.92" r="3.3" fill="#a3876d"/>
<text x="167.40" y="273.42" font-size="7.00" fill="#333" font-weight="bold" textLength="77.61" lengthAdjust="spacingAndGlyphs">Fossil brown coal / lignite</text>
<circle cx="160.40" cy="278.73" r="3.3" fill="#7a5b3c"/>
<text x="167.40" y="281.23" font-size="7.00" fill="#333" font-weight="bold" textLength="27.52" lengthAdjust="spacingAndGlyphs">Fossil oil</text>
<circle cx="160.40" cy="286.54" r="3.3" fill="#3a2e98"/>
<text x="167.40" y="289.04" font-size="7.00" fill="#333" font-weight="bold" textLength="35.29" lengthAdjust="spacingAndGlyphs">Geothermal</text>
<circle cx="160.40" cy="294.35" r="3.3" fill="#3aa3d8"/>
<text x="167.40" y="296.85" font-size="7.00" fill="#333" font-weight="bold" textLength="95.61" lengthAdjust="spacingAndGlyphs">Hydro pumped storage planned</text>
<circle cx="160.40" cy="302.16" r="3.3" fill="#8fae8b"/>
<text x="167.40" y="304.66" font-size="7.00" fill="#333" font-weight="bold" textLength="42.62" lengthAdjust="spacingAndGlyphs">Wind offshore</text>
<circle cx="160.40" cy="309.97" r="3.3" fill="#f5c654"/>
<text x="167.40" y="312.47" font-size="7.00" fill="#333" font-weight="bold" textLength="15.88" lengthAdjust="spacingAndGlyphs">Solar</text>
<rect x="156.20" y="316.98" width="8" height="1.6" fill="#dddddd"/>
<text x="167.40" y="320.28" font-size="7.00" fill="#cccccc" font-weight="bold" textLength="41.28" lengthAdjust="spacingAndGlyphs">Residual load</text>
<rect x="156.20" y="324.79" width="8" height="1.6" fill="#dddddd"/>
<text x="167.40" y="328.09" font-size="7.00" fill="#cccccc" font-weight="bold" textLength="74.45" lengthAdjust="spacingAndGlyphs">Renewable share of load</text>
<circle cx="302.90" cy="255.30" r="3.3" fill="#cccccc"/>
<text x="309.90" y="257.80" font-size="7.00" fill="#cccccc" font-weight="bold" textLength="72.34" lengthAdjust="spacingAndGlyphs">Import Balance forecast</text>
<circle cx="302.90" cy="263.11" r="3.3" fill="#2c2fa3"/>
<text x="309.90" y="265.61" font-size="7.00" fill="#333" font-weight="bold" textLength="84.66" lengthAdjust="spacingAndGlyphs">Hydro Run-of-River planned</text>
<circle cx="302.90" cy="270.92" r="3.3" fill="#c9ad90"/>
<text x="309.90" y="273.42" font-size="7.00" fill="#333" font-weight="bold" textLength="103.72" lengthAdjust="spacingAndGlyphs">Fossil brown coal / lignite planned</text>
<circle cx="302.90" cy="278.73" r="3.3" fill="#f7c27c"/>
<text x="309.90" y="281.23" font-size="7.00" fill="#333" font-weight="bold" textLength="53.62" lengthAdjust="spacingAndGlyphs">Fossil oil planned</text>
<circle cx="302.90" cy="286.54" r="3.3" fill="#aac6ee"/>
<text x="309.90" y="289.04" font-size="7.00" fill="#333" font-weight="bold" textLength="65.64" lengthAdjust="spacingAndGlyphs">Hydro water reservoir</text>
<circle cx="302.90" cy="294.35" r="3.3" fill="#8f70b9"/>
<text x="309.90" y="296.85" font-size="7.00" fill="#333" font-weight="bold" textLength="20.47" lengthAdjust="spacingAndGlyphs">Others</text>
<circle cx="302.90" cy="302.16" r="3.3" fill="#9fbb98"/>
<text x="309.90" y="304.66" font-size="7.00" fill="#333" font-weight="bold" textLength="69.09" lengthAdjust="spacingAndGlyphs">Wind offshore forecast</text>
<circle cx="302.90" cy="309.97" r="3.3" fill="#f8dc6e"/>
<text x="309.90" y="312.47" font-size="7.00" fill="#333" font-weight="bold" textLength="42.35" lengthAdjust="spacingAndGlyphs">Solar forecast</text>
<rect x="298.70" y="316.98" width="8" height="1.6" fill="#dddddd"/>
<text x="309.90" y="320.28" font-size="7.00" fill="#cccccc" font-weight="bold" textLength="67.75" lengthAdjust="spacingAndGlyphs">Residual load forecast</text>
<circle cx="445.20" cy="255.30" r="3.3" fill="#e12a2b"/>
<text x="452.20" y="257.80" font-size="7.00" fill="#333" font-weight="bold" textLength="23.29" lengthAdjust="spacingAndGlyphs">Nuclear</text>
<circle cx="445.20" cy="263.11" r="3.3" fill="#0d9a3c"/>
<text x="452.20" y="265.61" font-size="7.00" fill="#333" font-weight="bold" textLength="26.47" lengthAdjust="spacingAndGlyphs">Biomass</text>
<circle cx="445.20" cy="270.92" r="3.3" fill="#333336"/>
<text x="452.20" y="273.42" font-size="7.00" fill="#333" font-weight="bold" textLength="48.34" lengthAdjust="spacingAndGlyphs">Fossil hard coal</text>
<circle cx="445.20" cy="278.73" r="3.3" fill="#f39150"/>
<text x="452.20" y="281.23" font-size="7.00" fill="#333" font-weight="bold" textLength="31.05" lengthAdjust="spacingAndGlyphs">Fossil gas</text>
<circle cx="445.20" cy="286.54" r="3.3" fill="#b6d3f1"/>
<text x="452.20" y="289.04" font-size="7.00" fill="#333" font-weight="bold" textLength="91.75" lengthAdjust="spacingAndGlyphs">Hydro water reservoir planned</text>
<circle cx="445.20" cy="294.35" r="3.3" fill="#4a2b0c"/>
<text x="452.20" y="296.85" font-size="7.00" fill="#333" font-weight="bold" textLength="18.47" lengthAdjust="spacingAndGlyphs">Waste</text>
<circle cx="445.20" cy="302.16" r="3.3" fill="#c4dfc0"/>
<text x="452.20" y="304.66" font-size="7.00" fill="#333" font-weight="bold" textLength="42.27" lengthAdjust="spacingAndGlyphs">Wind onshore</text>
<rect x="441.00" y="309.17" width="8" height="1.6" fill="#555"/>
<text x="452.20" y="312.47" font-size="7.00" fill="#333" font-weight="bold" textLength="15.17" lengthAdjust="spacingAndGlyphs">Load</text>
<rect x="441.00" y="316.98" width="8" height="1.6" fill="#dddddd"/>
<text x="452.20" y="320.28" font-size="7.00" fill="#cccccc" font-weight="bold" textLength="93.86" lengthAdjust="spacingAndGlyphs">Renewable share of generation</text>
<rect x="455" y="8" width="227" height="237.8" fill="#fff"/>
<rect x="455" y="8" width="2.3" height="237.8" fill="#edece7"/>
<rect x="455" y="8" width="227" height="2" fill="#edece7"/>
<rect x="455" y="244.3" width="227" height="1.5" fill="#edece7"/>
<rect x="682" y="0" width="3" height="250" fill="#fff"/>
<text x="462.80" y="29.20" font-size="12.60" fill="#222" font-weight="bold" textLength="142.60" lengthAdjust="spacingAndGlyphs">CURRENT EMISSIONS IN GERMANY</text>
<rect x="462.7" y="33.3" width="219" height="1.1" fill="#c9e0f2"/>
<path d="M577.80,119.40 A52.80,52.80 0 0 1 570.62,145.99 L560.68,140.20 A41.30,41.30 0 0 0 566.30,119.40 Z" fill="#8c7b4e"/>
<path d="M570.62,145.99 A52.80,52.80 0 0 1 511.87,170.54 L514.73,159.40 A41.30,41.30 0 0 0 560.68,140.20 Z" fill="#5b3f12"/>
<path d="M511.87,170.54 A52.80,52.80 0 0 1 475.43,101.20 L486.23,105.17 A41.30,41.30 0 0 0 514.73,159.40 Z" fill="#2b2312"/>
<path d="M475.43,101.20 A52.80,52.80 0 0 1 518.38,67.02 L519.82,78.43 A41.30,41.30 0 0 0 486.23,105.17 Z" fill="#d5e4f1"/>
<path d="M518.38,67.02 A52.80,52.80 0 0 1 525.66,66.60 L525.52,78.10 A41.30,41.30 0 0 0 519.82,78.43 Z" fill="#238fcd"/>
<path d="M525.66,66.60 A52.80,52.80 0 0 1 534.24,67.42 L532.23,78.74 A41.30,41.30 0 0 0 525.52,78.10 Z" fill="#156b9b"/>
<path d="M534.24,67.42 A52.80,52.80 0 0 1 550.15,72.97 L544.67,83.08 A41.30,41.30 0 0 0 532.23,78.74 Z" fill="#8ddc7c"/>
<path d="M550.15,72.97 A52.80,52.80 0 0 1 551.88,73.95 L546.02,83.85 A41.30,41.30 0 0 0 544.67,83.08 Z" fill="#4d4d4d"/>
<path d="M551.88,73.95 A52.80,52.80 0 0 1 560.41,80.24 L552.70,88.77 A41.30,41.30 0 0 0 546.02,83.85 Z" fill="#f5901d"/>
<path d="M560.41,80.24 A52.80,52.80 0 0 1 563.94,83.74 L555.46,91.51 A41.30,41.30 0 0 0 552.70,88.77 Z" fill="#8b5a2e"/>
<path d="M563.94,83.74 A52.80,52.80 0 0 1 577.46,113.44 L566.04,114.74 A41.30,41.30 0 0 0 555.46,91.51 Z" fill="#c9dc77"/>
<path d="M577.46,113.44 A52.80,52.80 0 0 1 577.80,119.40 L566.30,119.40 A41.30,41.30 0 0 0 566.04,114.74 Z" fill="#a7c03a"/>
<text x="498.80" y="120.70" font-size="23.20" fill="#1a1a1a" textLength="50.70" lengthAdjust="spacingAndGlyphs" stroke="#fff" stroke-width="0.2">582 g</text>
<rect x="493.4" y="131.6" width="61.9" height="2.4" fill="#d9262b"/>
<text x="500.80" y="148.00" font-size="12.00" fill="#333" textLength="47.50" lengthAdjust="spacingAndGlyphs">CO2eq/kWh</text>
<rect x="591" y="42.80" width="7.7" height="7.5" fill="#8c7b4e"/>
<text x="605.80" y="50.50" font-size="8.30" fill="#2d2d38" textLength="43.05" lengthAdjust="spacingAndGlyphs" stroke="#2d2d38" stroke-width="0.25">Biomass (8.4%)</text>
<rect x="591" y="55.90" width="7.7" height="7.5" fill="#5b3f12"/>
<text x="605.80" y="63.60" font-size="8.30" fill="#2d2d38" textLength="35.60" lengthAdjust="spacingAndGlyphs" stroke="#2d2d38" stroke-width="0.25">Coal (20.6%)</text>
<rect x="591" y="69.00" width="7.7" height="7.5" fill="#2b2312"/>
<text x="605.80" y="76.70" font-size="8.30" fill="#2d2d38" textLength="59.33" lengthAdjust="spacingAndGlyphs" stroke="#2d2d38" stroke-width="0.25">Coal (Lignite) (26.6%)</text>
<rect x="591" y="82.10" width="7.7" height="7.5" fill="#d5e4f1"/>
<text x="605.80" y="89.80" font-size="8.30" fill="#2d2d38" textLength="34.24" lengthAdjust="spacingAndGlyphs" stroke="#2d2d38" stroke-width="0.25">Gas (17.4%)</text>
<rect x="591" y="95.20" width="7.7" height="7.5" fill="#238fcd"/>
<text x="605.80" y="102.90" font-size="8.30" fill="#2d2d38" textLength="35.93" lengthAdjust="spacingAndGlyphs" stroke="#2d2d38" stroke-width="0.25">Hydro (2.2%)</text>
<rect x="591" y="108.30" width="7.7" height="7.5" fill="#156b9b"/>
<text x="605.80" y="116.00" font-size="8.30" fill="#2d2d38" textLength="58.99" lengthAdjust="spacingAndGlyphs" stroke="#2d2d38" stroke-width="0.25">Hydro Storage (2.6%)</text>
<rect x="591" y="121.40" width="7.7" height="7.5" fill="#8ddc7c"/>
<text x="605.80" y="129.10" font-size="8.30" fill="#2d2d38" textLength="40.68" lengthAdjust="spacingAndGlyphs" stroke="#2d2d38" stroke-width="0.25">Nuclear (5.1%)</text>
<rect x="591" y="134.50" width="7.7" height="7.5" fill="#4d4d4d"/>
<text x="605.80" y="142.20" font-size="8.30" fill="#2d2d38" textLength="34.91" lengthAdjust="spacingAndGlyphs" stroke="#2d2d38" stroke-width="0.25">Other (0.6%)</text>
<rect x="591" y="147.60" width="7.7" height="7.5" fill="#f5901d"/>
<text x="605.80" y="155.30" font-size="8.30" fill="#2d2d38" textLength="33.90" lengthAdjust="spacingAndGlyphs" stroke="#2d2d38" stroke-width="0.25">Solar (3.2%)</text>
<rect x="591" y="160.70" width="7.7" height="7.5" fill="#8b5a2e"/>
<text x="605.80" y="168.40" font-size="8.30" fill="#2d2d38" textLength="36.72" lengthAdjust="spacingAndGlyphs" stroke="#2d2d38" stroke-width="0.25">Waste (1.5%)</text>
<rect x="591" y="173.80" width="7.7" height="7.5" fill="#c9dc77"/>
<text x="605.80" y="181.50" font-size="8.30" fill="#2d2d38" textLength="36.95" lengthAdjust="spacingAndGlyphs" stroke="#2d2d38" stroke-width="0.25">Wind (10.0%)</text>
<rect x="591" y="186.90" width="7.7" height="7.5" fill="#a7c03a"/>
<text x="605.80" y="194.60" font-size="8.30" fill="#2d2d38" textLength="62.60" lengthAdjust="spacingAndGlyphs" stroke="#2d2d38" stroke-width="0.25">Wind (Offshore) (1.8%)</text>
<text x="473.60" y="207.10" font-size="8.00" fill="#2d2d38" textLength="43.20" lengthAdjust="spacingAndGlyphs" stroke="#2d2d38" stroke-width="0.25">28% renewable</text>
<text x="473.60" y="221.30" font-size="8.00" fill="#2d2d38" textLength="41.00" lengthAdjust="spacingAndGlyphs" stroke="#2d2d38" stroke-width="0.25">58.3 GWh total</text>
<text x="473.60" y="236.30" font-size="8.00" fill="#2d2d38" textLength="128.00" lengthAdjust="spacingAndGlyphs" stroke="#2d2d38" stroke-width="0.25">Last updated at 2023-02-22 17:00 (Local time)</text>
<g fill="none" stroke="#2d2d38" stroke-width="1.15"><path d="M463.39,202.02 A3.80,3.80 0 0 1 470.24,203.54"/><path d="M469.61,206.38 A3.80,3.80 0 0 1 462.76,204.86"/></g><path d="M462.35,203.49 L462.33,200.91 L464.79,202.64 Z M470.65,204.91 L470.67,207.49 L468.21,205.76 Z" fill="#2d2d38"/><path d="M467.6,201.6 L465.3,204.7 L466.7,204.7 L465.6,207.0 L468.1,203.8 L466.7,203.8 Z" fill="#2d2d38"/>
<g fill="none" stroke="#2d2d38" stroke-width="1.05"><path d="M466.8,215.4 L464.0,223.2 M466.8,215.4 L469.6,223.2 M462.8,217.4 L470.8,217.4 M463.6,220.0 L470.0,220.0 M462.6,223.0 L471.0,223.0 M464.6,220 L469.2,223 M469.0,220 L464.4,223"/></g>
<g fill="none" stroke="#2d2d38" stroke-width="1.05"><circle cx="467" cy="234.2" r="3.85"/><path d="M466.6,231.6 L466.6,234.4 L468.8,236.4"/></g>
</svg>
</body></html>
